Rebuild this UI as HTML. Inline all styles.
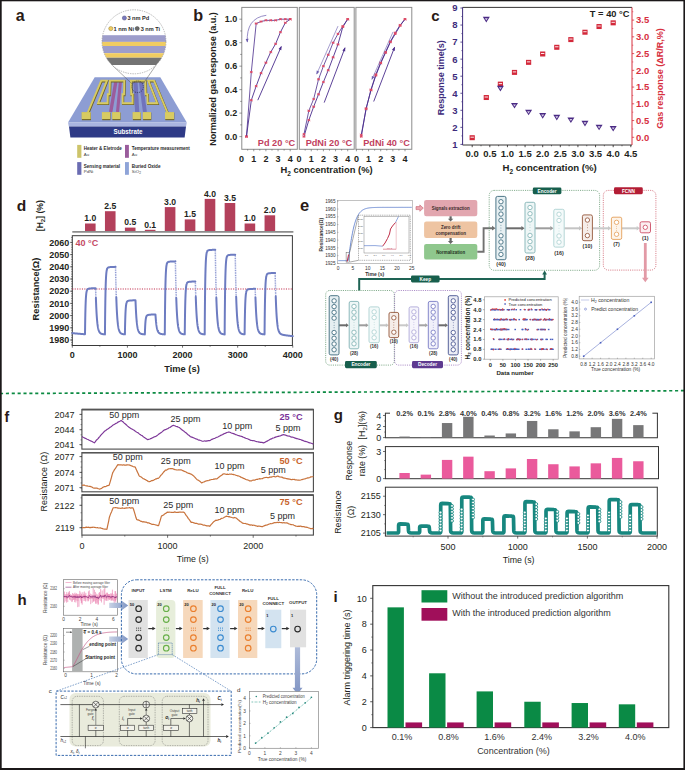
<!DOCTYPE html>
<html><head><meta charset="utf-8"><style>
html,body{margin:0;padding:0;background:#fff;}
body{width:685px;height:770px;overflow:hidden;}
svg{display:block;font-family:"Liberation Sans", sans-serif;}
</style></head><body>
<svg width="685" height="770" viewBox="0 0 685 770">
<rect x="0" y="0" width="685" height="770" fill="#ffffff"/>
<text x="15.8" y="20.68" font-size="16" font-weight="bold" fill="#2a1a16">a</text>
<polygon points="94.7,77.2 160.3,77.2 186.8,122.6 68,122.6" fill="#8d9dd3"/>
<polygon points="68,122.6 186.8,122.6 186,126.6 68.8,126.6" fill="#aab5e0"/>
<polygon points="69,126.6 186,126.6 184.6,137.4 70.4,137.4" fill="#2e3a86"/>
<text x="128" y="134.24" font-size="6.3" font-weight="bold" text-anchor="middle" fill="#ffffff">Substrate</text>
<line x1="110.7" y1="112" x2="116" y2="80.7" stroke="#9b5c9c" stroke-width="3.4"/>
<line x1="117.5" y1="112" x2="120.5" y2="80.7" stroke="#9b5c9c" stroke-width="3.1"/>
<line x1="137.2" y1="112" x2="135.4" y2="80.8" stroke="#7173bb" stroke-width="4.2"/>
<line x1="144.9" y1="112" x2="140.7" y2="80.8" stroke="#7173bb" stroke-width="3.9"/>
<polyline points="88.1,113.8 101.7,81.4 107.4,81.4 98.5,104 108.1,104 108.3,95.1 110,95.1 110.4,81.4 124.8,81.4 124.5,95.1 123.1,95.1 123.1,104 133.1,104 133.1,95.1 131.7,95.1 131.4,81.4 145.8,81.4 146.2,95.1 147.9,95.1 148.1,104 157.7,104 148.8,81.4 154.5,81.4 168.1,113.8" fill="none" stroke="#6f6426" stroke-width="2.2" stroke-linejoin="miter"/>
<polyline points="87.6,113 101.2,80.6 106.9,80.6 98,103.2 107.6,103.2 107.8,94.3 109.5,94.3 109.9,80.6 124.3,80.6 124,94.3 122.6,94.3 122.6,103.2 132.6,103.2 132.6,94.3 131.2,94.3 130.9,80.6 145.3,80.6 145.7,94.3 147.4,94.3 147.6,103.2 157.2,103.2 148.3,80.6 154,80.6 167.6,113" fill="none" stroke="#d8cb62" stroke-width="1.9" stroke-linejoin="miter"/>
<rect x="81.9" y="112.6" width="9.1" height="7.6" fill="#6f6426"/>
<rect x="81.6" y="112.1" width="9.1" height="7" fill="#d8cb62"/>
<rect x="102.2" y="112.6" width="8.3" height="7.6" fill="#6f6426"/>
<rect x="101.9" y="112.1" width="8.3" height="7" fill="#d8cb62"/>
<rect x="112.4" y="112.6" width="8.2" height="7.6" fill="#6f6426"/>
<rect x="112.1" y="112.1" width="8.2" height="7" fill="#d8cb62"/>
<rect x="132.9" y="112.6" width="8.1" height="7.6" fill="#6f6426"/>
<rect x="132.6" y="112.1" width="8.1" height="7" fill="#d8cb62"/>
<rect x="143.1" y="112.6" width="8.2" height="7.6" fill="#6f6426"/>
<rect x="142.8" y="112.1" width="8.2" height="7" fill="#d8cb62"/>
<rect x="165.3" y="112.6" width="9" height="7.6" fill="#6f6426"/>
<rect x="165" y="112.1" width="9" height="7" fill="#d8cb62"/>
<circle cx="137.6" cy="86.8" r="5.8" fill="none" stroke="#2a2a40" stroke-width="0.7" stroke-dasharray="1.2,0.9"/>
<line x1="111.6" y1="64.6" x2="132.4" y2="84.2" stroke="#555" stroke-width="0.5"/>
<line x1="156.4" y1="64.6" x2="142.8" y2="84.2" stroke="#555" stroke-width="0.5"/>
<clipPath id="mag"><circle cx="134" cy="41.8" r="32"/></clipPath>
<circle cx="134" cy="41.8" r="32" fill="#ffffff"/>
<g clip-path="url(#mag)"><rect x="100" y="35.2" width="70" height="6.7" fill="#9d9dcb"/><rect x="100" y="41.9" width="70" height="4.1" fill="#f0cc62"/><rect x="100" y="46" width="70" height="7.2" fill="#9d9dcb"/><rect x="100" y="53.2" width="70" height="4.5" fill="#f0cc62"/><rect x="100" y="57.7" width="70" height="7.3" fill="#737373"/></g>
<circle cx="134" cy="41.8" r="32" fill="none" stroke="#8a8a8a" stroke-width="0.6" stroke-dasharray="1.4,1"/>
<circle cx="124.4" cy="18" r="2.1" fill="#7a7abe" stroke="#333366" stroke-width="0.4"/>
<text x="127.4" y="20.19" font-size="5.6" font-weight="bold" fill="#2a2a2a" textLength="21.9" lengthAdjust="spacingAndGlyphs">3 nm Pd</text>
<circle cx="110.8" cy="28.6" r="2.1" fill="#f0cc62" stroke="#7a6a20" stroke-width="0.4"/>
<text x="113.5" y="30.79" font-size="5.6" font-weight="bold" fill="#2a2a2a" textLength="20.5" lengthAdjust="spacingAndGlyphs">1 nm Ni</text>
<circle cx="137.2" cy="28.6" r="2.1" fill="#6a6a6a" stroke="#333" stroke-width="0.4"/>
<text x="140.7" y="30.79" font-size="5.6" font-weight="bold" fill="#2a2a2a" textLength="19.4" lengthAdjust="spacingAndGlyphs">3 nm Ti</text>
<rect x="77.2" y="144.9" width="4.2" height="12.9" fill="#cdc46a"/>
<text x="83.8" y="150.25" font-size="5.2" font-weight="bold" fill="#2a2a2a" textLength="37.9" lengthAdjust="spacingAndGlyphs">Heater &amp; Eletrode</text>
<text x="83.8" y="156.16" font-size="4.4" fill="#444">Au</text>
<rect x="125" y="144.9" width="3.9" height="12.9" fill="#9a5c9c"/>
<text x="131.8" y="150.25" font-size="5.2" font-weight="bold" fill="#2a2a2a" textLength="58" lengthAdjust="spacingAndGlyphs">Temperature measurement</text>
<text x="131.8" y="156.16" font-size="4.4" fill="#444">Au</text>
<rect x="77.2" y="162.1" width="4.2" height="12.7" fill="#6a6cb2"/>
<text x="83.8" y="167.65" font-size="5.2" font-weight="bold" fill="#2a2a2a" textLength="36.2" lengthAdjust="spacingAndGlyphs">Sensing material</text>
<text x="83.8" y="173.16" font-size="4.4" fill="#444">PdNi</text>
<rect x="125" y="162.1" width="3.9" height="12.7" fill="#8ea4d8"/>
<text x="131.8" y="167.65" font-size="5.2" font-weight="bold" fill="#2a2a2a" textLength="28.7" lengthAdjust="spacingAndGlyphs">Buried Oxide</text>
<text x="131.8" y="173.16" font-size="4.4" fill="#444">SiO<tspan font-size="3.2" dy="1">2</tspan></text>
<text x="193.3" y="20.65" font-size="16.2" font-weight="bold" fill="#2a1a16">b</text>
<rect x="241.8" y="7.4" width="55.5" height="141.9" fill="none" stroke="#8c8c8c" stroke-width="1"/>
<line x1="247.67" y1="149.3" x2="247.67" y2="150.6" stroke="#555" stroke-width="0.6"/>
<line x1="253.75" y1="149.3" x2="253.75" y2="151.3" stroke="#555" stroke-width="0.6"/>
<line x1="259.82" y1="149.3" x2="259.82" y2="150.6" stroke="#555" stroke-width="0.6"/>
<line x1="265.9" y1="149.3" x2="265.9" y2="151.3" stroke="#555" stroke-width="0.6"/>
<line x1="271.98" y1="149.3" x2="271.98" y2="150.6" stroke="#555" stroke-width="0.6"/>
<line x1="278.05" y1="149.3" x2="278.05" y2="151.3" stroke="#555" stroke-width="0.6"/>
<line x1="284.12" y1="149.3" x2="284.12" y2="150.6" stroke="#555" stroke-width="0.6"/>
<line x1="290.2" y1="149.3" x2="290.2" y2="151.3" stroke="#555" stroke-width="0.6"/>
<text x="241.6" y="162.39" font-size="9" font-weight="bold" text-anchor="middle" fill="#231f20">0</text>
<text x="253.75" y="162.39" font-size="9" font-weight="bold" text-anchor="middle" fill="#231f20">1</text>
<text x="265.9" y="162.39" font-size="9" font-weight="bold" text-anchor="middle" fill="#231f20">2</text>
<text x="278.05" y="162.39" font-size="9" font-weight="bold" text-anchor="middle" fill="#231f20">3</text>
<text x="290.2" y="162.39" font-size="9" font-weight="bold" text-anchor="middle" fill="#231f20">4</text>
<rect x="299.3" y="7.4" width="54.9" height="141.9" fill="none" stroke="#8c8c8c" stroke-width="1"/>
<line x1="305.18" y1="149.3" x2="305.18" y2="150.6" stroke="#555" stroke-width="0.6"/>
<line x1="311.25" y1="149.3" x2="311.25" y2="151.3" stroke="#555" stroke-width="0.6"/>
<line x1="317.33" y1="149.3" x2="317.33" y2="150.6" stroke="#555" stroke-width="0.6"/>
<line x1="323.4" y1="149.3" x2="323.4" y2="151.3" stroke="#555" stroke-width="0.6"/>
<line x1="329.48" y1="149.3" x2="329.48" y2="150.6" stroke="#555" stroke-width="0.6"/>
<line x1="335.55" y1="149.3" x2="335.55" y2="151.3" stroke="#555" stroke-width="0.6"/>
<line x1="341.62" y1="149.3" x2="341.62" y2="150.6" stroke="#555" stroke-width="0.6"/>
<line x1="347.7" y1="149.3" x2="347.7" y2="151.3" stroke="#555" stroke-width="0.6"/>
<text x="299.1" y="162.39" font-size="9" font-weight="bold" text-anchor="middle" fill="#231f20">0</text>
<text x="311.25" y="162.39" font-size="9" font-weight="bold" text-anchor="middle" fill="#231f20">1</text>
<text x="323.4" y="162.39" font-size="9" font-weight="bold" text-anchor="middle" fill="#231f20">2</text>
<text x="335.55" y="162.39" font-size="9" font-weight="bold" text-anchor="middle" fill="#231f20">3</text>
<text x="347.7" y="162.39" font-size="9" font-weight="bold" text-anchor="middle" fill="#231f20">4</text>
<rect x="355.9" y="7.4" width="55.9" height="141.9" fill="none" stroke="#8c8c8c" stroke-width="1"/>
<line x1="356.4" y1="149.3" x2="356.4" y2="151.3" stroke="#555" stroke-width="0.6"/>
<line x1="362.47" y1="149.3" x2="362.47" y2="150.6" stroke="#555" stroke-width="0.6"/>
<line x1="368.55" y1="149.3" x2="368.55" y2="151.3" stroke="#555" stroke-width="0.6"/>
<line x1="374.62" y1="149.3" x2="374.62" y2="150.6" stroke="#555" stroke-width="0.6"/>
<line x1="380.7" y1="149.3" x2="380.7" y2="151.3" stroke="#555" stroke-width="0.6"/>
<line x1="386.77" y1="149.3" x2="386.77" y2="150.6" stroke="#555" stroke-width="0.6"/>
<line x1="392.85" y1="149.3" x2="392.85" y2="151.3" stroke="#555" stroke-width="0.6"/>
<line x1="398.92" y1="149.3" x2="398.92" y2="150.6" stroke="#555" stroke-width="0.6"/>
<line x1="405" y1="149.3" x2="405" y2="151.3" stroke="#555" stroke-width="0.6"/>
<text x="356.4" y="162.39" font-size="9" font-weight="bold" text-anchor="middle" fill="#231f20">0</text>
<text x="368.55" y="162.39" font-size="9" font-weight="bold" text-anchor="middle" fill="#231f20">1</text>
<text x="380.7" y="162.39" font-size="9" font-weight="bold" text-anchor="middle" fill="#231f20">2</text>
<text x="392.85" y="162.39" font-size="9" font-weight="bold" text-anchor="middle" fill="#231f20">3</text>
<text x="405" y="162.39" font-size="9" font-weight="bold" text-anchor="middle" fill="#231f20">4</text>
<line x1="239.4" y1="136.6" x2="241.8" y2="136.6" stroke="#555" stroke-width="0.6"/>
<line x1="240.2" y1="124.86" x2="241.8" y2="124.86" stroke="#555" stroke-width="0.6"/>
<line x1="239.4" y1="113.12" x2="241.8" y2="113.12" stroke="#555" stroke-width="0.6"/>
<line x1="240.2" y1="101.38" x2="241.8" y2="101.38" stroke="#555" stroke-width="0.6"/>
<line x1="239.4" y1="89.64" x2="241.8" y2="89.64" stroke="#555" stroke-width="0.6"/>
<line x1="240.2" y1="77.9" x2="241.8" y2="77.9" stroke="#555" stroke-width="0.6"/>
<line x1="239.4" y1="66.16" x2="241.8" y2="66.16" stroke="#555" stroke-width="0.6"/>
<line x1="240.2" y1="54.42" x2="241.8" y2="54.42" stroke="#555" stroke-width="0.6"/>
<line x1="239.4" y1="42.68" x2="241.8" y2="42.68" stroke="#555" stroke-width="0.6"/>
<line x1="240.2" y1="30.94" x2="241.8" y2="30.94" stroke="#555" stroke-width="0.6"/>
<line x1="239.4" y1="19.2" x2="241.8" y2="19.2" stroke="#555" stroke-width="0.6"/>
<text x="237.3" y="139.79" font-size="9" font-weight="bold" text-anchor="end" fill="#231f20">0.0</text>
<text x="237.3" y="116.31" font-size="9" font-weight="bold" text-anchor="end" fill="#231f20">0.2</text>
<text x="237.3" y="92.83" font-size="9" font-weight="bold" text-anchor="end" fill="#231f20">0.4</text>
<text x="237.3" y="69.35" font-size="9" font-weight="bold" text-anchor="end" fill="#231f20">0.6</text>
<text x="237.3" y="45.87" font-size="9" font-weight="bold" text-anchor="end" fill="#231f20">0.8</text>
<text x="237.3" y="22.4" font-size="9" font-weight="bold" text-anchor="end" fill="#231f20">1.0</text>
<text x="212.4" y="82.21" font-size="9.05" font-weight="bold" text-anchor="middle" fill="#231f20" transform="rotate(-90 212.4 79)">Normalized gas response (a.u.)</text>
<text x="326.5" y="173.3" font-size="9.4" font-weight="bold" fill="#231f20" text-anchor="middle">H<tspan font-size="6.5" dy="2.2">2</tspan><tspan dy="-2.2"> concentration (%)</tspan></text>
<polyline points="246.46,136.6 251.32,72.03 256.18,23.54 261.04,21.55 265.9,20.37 270.76,20.37 275.62,20.37 280.48,19.2 285.34,19.2 290.2,19.2" fill="none" stroke="#4a2c8c" stroke-width="0.8"/>
<polyline points="246.46,136.6 251.32,100.21 256.18,86.12 261.04,73.2 265.9,62.64 270.76,52.07 275.62,43.85 280.48,32.11 285.34,22.72 290.2,19.2" fill="none" stroke="#4a2c8c" stroke-width="0.9"/>
<path d="M245.06 136.6L247.86 136.6M245.48 135.48L247.44 137.72M245.48 137.72L247.44 135.48" stroke="#dc4a66" stroke-width="0.9" fill="none"/><circle cx="246.46" cy="136.6" r="0.75" fill="#dc4a66"/>
<path d="M249.92 100.21L252.72 100.21M250.34 99.09L252.3 101.33M250.34 101.33L252.3 99.09" stroke="#dc4a66" stroke-width="0.9" fill="none"/><circle cx="251.32" cy="100.21" r="0.75" fill="#dc4a66"/>
<path d="M254.78 86.12L257.58 86.12M255.2 85L257.16 87.24M255.2 87.24L257.16 85" stroke="#dc4a66" stroke-width="0.9" fill="none"/><circle cx="256.18" cy="86.12" r="0.75" fill="#dc4a66"/>
<path d="M259.64 73.2L262.44 73.2M260.06 72.08L262.02 74.32M260.06 74.32L262.02 72.08" stroke="#dc4a66" stroke-width="0.9" fill="none"/><circle cx="261.04" cy="73.2" r="0.75" fill="#dc4a66"/>
<path d="M264.5 62.64L267.3 62.64M264.92 61.52L266.88 63.76M264.92 63.76L266.88 61.52" stroke="#dc4a66" stroke-width="0.9" fill="none"/><circle cx="265.9" cy="62.64" r="0.75" fill="#dc4a66"/>
<path d="M269.36 52.07L272.16 52.07M269.78 50.95L271.74 53.19M269.78 53.19L271.74 50.95" stroke="#dc4a66" stroke-width="0.9" fill="none"/><circle cx="270.76" cy="52.07" r="0.75" fill="#dc4a66"/>
<path d="M274.22 43.85L277.02 43.85M274.64 42.73L276.6 44.97M274.64 44.97L276.6 42.73" stroke="#dc4a66" stroke-width="0.9" fill="none"/><circle cx="275.62" cy="43.85" r="0.75" fill="#dc4a66"/>
<path d="M279.08 32.11L281.88 32.11M279.5 30.99L281.46 33.23M279.5 33.23L281.46 30.99" stroke="#dc4a66" stroke-width="0.9" fill="none"/><circle cx="280.48" cy="32.11" r="0.75" fill="#dc4a66"/>
<path d="M283.94 22.72L286.74 22.72M284.36 21.6L286.32 23.84M284.36 23.84L286.32 21.6" stroke="#dc4a66" stroke-width="0.9" fill="none"/><circle cx="285.34" cy="22.72" r="0.75" fill="#dc4a66"/>
<path d="M288.8 19.2L291.6 19.2M289.22 18.08L291.18 20.32M289.22 20.32L291.18 18.08" stroke="#dc4a66" stroke-width="0.9" fill="none"/><circle cx="290.2" cy="19.2" r="0.75" fill="#dc4a66"/>
<path d="M245.06 136.6L247.86 136.6M245.48 135.48L247.44 137.72M245.48 137.72L247.44 135.48" stroke="#dc4a66" stroke-width="0.9" fill="none"/><circle cx="246.46" cy="136.6" r="0.75" fill="#dc4a66"/>
<path d="M249.92 72.03L252.72 72.03M250.34 70.91L252.3 73.15M250.34 73.15L252.3 70.91" stroke="#dc4a66" stroke-width="0.9" fill="none"/><circle cx="251.32" cy="72.03" r="0.75" fill="#dc4a66"/>
<path d="M254.78 23.54L257.58 23.54M255.2 22.42L257.16 24.66M255.2 24.66L257.16 22.42" stroke="#dc4a66" stroke-width="0.9" fill="none"/><circle cx="256.18" cy="23.54" r="0.75" fill="#dc4a66"/>
<path d="M259.64 21.55L262.44 21.55M260.06 20.43L262.02 22.67M260.06 22.67L262.02 20.43" stroke="#dc4a66" stroke-width="0.9" fill="none"/><circle cx="261.04" cy="21.55" r="0.75" fill="#dc4a66"/>
<path d="M264.5 20.37L267.3 20.37M264.92 19.25L266.88 21.49M264.92 21.49L266.88 19.25" stroke="#dc4a66" stroke-width="0.9" fill="none"/><circle cx="265.9" cy="20.37" r="0.75" fill="#dc4a66"/>
<path d="M269.36 20.37L272.16 20.37M269.78 19.25L271.74 21.49M269.78 21.49L271.74 19.25" stroke="#dc4a66" stroke-width="0.9" fill="none"/><circle cx="270.76" cy="20.37" r="0.75" fill="#dc4a66"/>
<path d="M274.22 20.37L277.02 20.37M274.64 19.25L276.6 21.49M274.64 21.49L276.6 19.25" stroke="#dc4a66" stroke-width="0.9" fill="none"/><circle cx="275.62" cy="20.37" r="0.75" fill="#dc4a66"/>
<path d="M279.08 19.2L281.88 19.2M279.5 18.08L281.46 20.32M279.5 20.32L281.46 18.08" stroke="#dc4a66" stroke-width="0.9" fill="none"/><circle cx="280.48" cy="19.2" r="0.75" fill="#dc4a66"/>
<path d="M283.94 19.2L286.74 19.2M284.36 18.08L286.32 20.32M284.36 20.32L286.32 18.08" stroke="#dc4a66" stroke-width="0.9" fill="none"/><circle cx="285.34" cy="19.2" r="0.75" fill="#dc4a66"/>
<path d="M288.8 19.2L291.6 19.2M289.22 18.08L291.18 20.32M289.22 20.32L291.18 18.08" stroke="#dc4a66" stroke-width="0.9" fill="none"/><circle cx="290.2" cy="19.2" r="0.75" fill="#dc4a66"/>
<polyline points="303.96,134.25 308.82,110.77 313.68,99.03 318.54,79.31 323.4,66.16 328.26,54.77 333.12,42.68 337.98,33.88 342.84,26.24 347.7,19.2" fill="none" stroke="#4a2c8c" stroke-width="0.8"/>
<polyline points="303.96,136.6 308.82,120.16 313.68,106.66 318.54,94.34 323.4,82.01 328.26,70.27 333.12,57.35 337.98,44.44 342.84,26.83 347.7,19.2" fill="none" stroke="#4a2c8c" stroke-width="0.9"/>
<path d="M302.56 136.6L305.36 136.6M302.98 135.48L304.94 137.72M302.98 137.72L304.94 135.48" stroke="#dc4a66" stroke-width="0.9" fill="none"/><circle cx="303.96" cy="136.6" r="0.75" fill="#dc4a66"/>
<path d="M307.42 120.16L310.22 120.16M307.84 119.04L309.8 121.28M307.84 121.28L309.8 119.04" stroke="#dc4a66" stroke-width="0.9" fill="none"/><circle cx="308.82" cy="120.16" r="0.75" fill="#dc4a66"/>
<path d="M312.28 106.66L315.08 106.66M312.7 105.54L314.66 107.78M312.7 107.78L314.66 105.54" stroke="#dc4a66" stroke-width="0.9" fill="none"/><circle cx="313.68" cy="106.66" r="0.75" fill="#dc4a66"/>
<path d="M317.14 94.34L319.94 94.34M317.56 93.22L319.52 95.46M317.56 95.46L319.52 93.22" stroke="#dc4a66" stroke-width="0.9" fill="none"/><circle cx="318.54" cy="94.34" r="0.75" fill="#dc4a66"/>
<path d="M322 82.01L324.8 82.01M322.42 80.89L324.38 83.13M322.42 83.13L324.38 80.89" stroke="#dc4a66" stroke-width="0.9" fill="none"/><circle cx="323.4" cy="82.01" r="0.75" fill="#dc4a66"/>
<path d="M326.86 70.27L329.66 70.27M327.28 69.15L329.24 71.39M327.28 71.39L329.24 69.15" stroke="#dc4a66" stroke-width="0.9" fill="none"/><circle cx="328.26" cy="70.27" r="0.75" fill="#dc4a66"/>
<path d="M331.72 57.35L334.52 57.35M332.14 56.23L334.1 58.47M332.14 58.47L334.1 56.23" stroke="#dc4a66" stroke-width="0.9" fill="none"/><circle cx="333.12" cy="57.35" r="0.75" fill="#dc4a66"/>
<path d="M336.58 44.44L339.38 44.44M337 43.32L338.96 45.56M337 45.56L338.96 43.32" stroke="#dc4a66" stroke-width="0.9" fill="none"/><circle cx="337.98" cy="44.44" r="0.75" fill="#dc4a66"/>
<path d="M341.44 26.83L344.24 26.83M341.86 25.71L343.82 27.95M341.86 27.95L343.82 25.71" stroke="#dc4a66" stroke-width="0.9" fill="none"/><circle cx="342.84" cy="26.83" r="0.75" fill="#dc4a66"/>
<path d="M346.3 19.2L349.1 19.2M346.72 18.08L348.68 20.32M346.72 20.32L348.68 18.08" stroke="#dc4a66" stroke-width="0.9" fill="none"/><circle cx="347.7" cy="19.2" r="0.75" fill="#dc4a66"/>
<path d="M302.56 134.25L305.36 134.25M302.98 133.13L304.94 135.37M302.98 135.37L304.94 133.13" stroke="#dc4a66" stroke-width="0.9" fill="none"/><circle cx="303.96" cy="134.25" r="0.75" fill="#dc4a66"/>
<path d="M307.42 110.77L310.22 110.77M307.84 109.65L309.8 111.89M307.84 111.89L309.8 109.65" stroke="#dc4a66" stroke-width="0.9" fill="none"/><circle cx="308.82" cy="110.77" r="0.75" fill="#dc4a66"/>
<path d="M312.28 99.03L315.08 99.03M312.7 97.91L314.66 100.15M312.7 100.15L314.66 97.91" stroke="#dc4a66" stroke-width="0.9" fill="none"/><circle cx="313.68" cy="99.03" r="0.75" fill="#dc4a66"/>
<path d="M317.14 79.31L319.94 79.31M317.56 78.19L319.52 80.43M317.56 80.43L319.52 78.19" stroke="#dc4a66" stroke-width="0.9" fill="none"/><circle cx="318.54" cy="79.31" r="0.75" fill="#dc4a66"/>
<path d="M322 66.16L324.8 66.16M322.42 65.04L324.38 67.28M322.42 67.28L324.38 65.04" stroke="#dc4a66" stroke-width="0.9" fill="none"/><circle cx="323.4" cy="66.16" r="0.75" fill="#dc4a66"/>
<path d="M326.86 54.77L329.66 54.77M327.28 53.65L329.24 55.89M327.28 55.89L329.24 53.65" stroke="#dc4a66" stroke-width="0.9" fill="none"/><circle cx="328.26" cy="54.77" r="0.75" fill="#dc4a66"/>
<path d="M331.72 42.68L334.52 42.68M332.14 41.56L334.1 43.8M332.14 43.8L334.1 41.56" stroke="#dc4a66" stroke-width="0.9" fill="none"/><circle cx="333.12" cy="42.68" r="0.75" fill="#dc4a66"/>
<path d="M336.58 33.88L339.38 33.88M337 32.76L338.96 34.99M337 34.99L338.96 32.76" stroke="#dc4a66" stroke-width="0.9" fill="none"/><circle cx="337.98" cy="33.88" r="0.75" fill="#dc4a66"/>
<path d="M341.44 26.24L344.24 26.24M341.86 25.12L343.82 27.36M341.86 27.36L343.82 25.12" stroke="#dc4a66" stroke-width="0.9" fill="none"/><circle cx="342.84" cy="26.24" r="0.75" fill="#dc4a66"/>
<path d="M346.3 19.2L349.1 19.2M346.72 18.08L348.68 20.32M346.72 20.32L348.68 18.08" stroke="#dc4a66" stroke-width="0.9" fill="none"/><circle cx="347.7" cy="19.2" r="0.75" fill="#dc4a66"/>
<polyline points="361.26,134.84 366.12,109.01 370.98,89.64 375.84,74.38 380.7,62.64 385.56,52.07 390.42,41.51 395.28,32.7 400.14,25.07 405,19.2" fill="none" stroke="#4a2c8c" stroke-width="0.8"/>
<polyline points="361.26,136.6 366.12,108.42 370.98,90.23 375.84,75.55 380.7,63.22 385.56,52.66 390.42,42.09 395.28,33.88 400.14,25.66 405,19.2" fill="none" stroke="#4a2c8c" stroke-width="0.9"/>
<path d="M359.86 136.6L362.66 136.6M360.28 135.48L362.24 137.72M360.28 137.72L362.24 135.48" stroke="#dc4a66" stroke-width="0.9" fill="none"/><circle cx="361.26" cy="136.6" r="0.75" fill="#dc4a66"/>
<path d="M364.72 108.42L367.52 108.42M365.14 107.3L367.1 109.54M365.14 109.54L367.1 107.3" stroke="#dc4a66" stroke-width="0.9" fill="none"/><circle cx="366.12" cy="108.42" r="0.75" fill="#dc4a66"/>
<path d="M369.58 90.23L372.38 90.23M370 89.11L371.96 91.35M370 91.35L371.96 89.11" stroke="#dc4a66" stroke-width="0.9" fill="none"/><circle cx="370.98" cy="90.23" r="0.75" fill="#dc4a66"/>
<path d="M374.44 75.55L377.24 75.55M374.86 74.43L376.82 76.67M374.86 76.67L376.82 74.43" stroke="#dc4a66" stroke-width="0.9" fill="none"/><circle cx="375.84" cy="75.55" r="0.75" fill="#dc4a66"/>
<path d="M379.3 63.22L382.1 63.22M379.72 62.1L381.68 64.34M379.72 64.34L381.68 62.1" stroke="#dc4a66" stroke-width="0.9" fill="none"/><circle cx="380.7" cy="63.22" r="0.75" fill="#dc4a66"/>
<path d="M384.16 52.66L386.96 52.66M384.58 51.54L386.54 53.78M384.58 53.78L386.54 51.54" stroke="#dc4a66" stroke-width="0.9" fill="none"/><circle cx="385.56" cy="52.66" r="0.75" fill="#dc4a66"/>
<path d="M389.02 42.09L391.82 42.09M389.44 40.97L391.4 43.21M389.44 43.21L391.4 40.97" stroke="#dc4a66" stroke-width="0.9" fill="none"/><circle cx="390.42" cy="42.09" r="0.75" fill="#dc4a66"/>
<path d="M393.88 33.88L396.68 33.88M394.3 32.76L396.26 34.99M394.3 34.99L396.26 32.76" stroke="#dc4a66" stroke-width="0.9" fill="none"/><circle cx="395.28" cy="33.88" r="0.75" fill="#dc4a66"/>
<path d="M398.74 25.66L401.54 25.66M399.16 24.54L401.12 26.78M399.16 26.78L401.12 24.54" stroke="#dc4a66" stroke-width="0.9" fill="none"/><circle cx="400.14" cy="25.66" r="0.75" fill="#dc4a66"/>
<path d="M403.6 19.2L406.4 19.2M404.02 18.08L405.98 20.32M404.02 20.32L405.98 18.08" stroke="#dc4a66" stroke-width="0.9" fill="none"/><circle cx="405" cy="19.2" r="0.75" fill="#dc4a66"/>
<path d="M359.86 134.84L362.66 134.84M360.28 133.72L362.24 135.96M360.28 135.96L362.24 133.72" stroke="#dc4a66" stroke-width="0.9" fill="none"/><circle cx="361.26" cy="134.84" r="0.75" fill="#dc4a66"/>
<path d="M364.72 109.01L367.52 109.01M365.14 107.89L367.1 110.13M365.14 110.13L367.1 107.89" stroke="#dc4a66" stroke-width="0.9" fill="none"/><circle cx="366.12" cy="109.01" r="0.75" fill="#dc4a66"/>
<path d="M369.58 89.64L372.38 89.64M370 88.52L371.96 90.76M370 90.76L371.96 88.52" stroke="#dc4a66" stroke-width="0.9" fill="none"/><circle cx="370.98" cy="89.64" r="0.75" fill="#dc4a66"/>
<path d="M374.44 74.38L377.24 74.38M374.86 73.26L376.82 75.5M374.86 75.5L376.82 73.26" stroke="#dc4a66" stroke-width="0.9" fill="none"/><circle cx="375.84" cy="74.38" r="0.75" fill="#dc4a66"/>
<path d="M379.3 62.64L382.1 62.64M379.72 61.52L381.68 63.76M379.72 63.76L381.68 61.52" stroke="#dc4a66" stroke-width="0.9" fill="none"/><circle cx="380.7" cy="62.64" r="0.75" fill="#dc4a66"/>
<path d="M384.16 52.07L386.96 52.07M384.58 50.95L386.54 53.19M384.58 53.19L386.54 50.95" stroke="#dc4a66" stroke-width="0.9" fill="none"/><circle cx="385.56" cy="52.07" r="0.75" fill="#dc4a66"/>
<path d="M389.02 41.51L391.82 41.51M389.44 40.39L391.4 42.63M389.44 42.63L391.4 40.39" stroke="#dc4a66" stroke-width="0.9" fill="none"/><circle cx="390.42" cy="41.51" r="0.75" fill="#dc4a66"/>
<path d="M393.88 32.7L396.68 32.7M394.3 31.58L396.26 33.82M394.3 33.82L396.26 31.58" stroke="#dc4a66" stroke-width="0.9" fill="none"/><circle cx="395.28" cy="32.7" r="0.75" fill="#dc4a66"/>
<path d="M398.74 25.07L401.54 25.07M399.16 23.95L401.12 26.19M399.16 26.19L401.12 23.95" stroke="#dc4a66" stroke-width="0.9" fill="none"/><circle cx="400.14" cy="25.07" r="0.75" fill="#dc4a66"/>
<path d="M403.6 19.2L406.4 19.2M404.02 18.08L405.98 20.32M404.02 20.32L405.98 18.08" stroke="#dc4a66" stroke-width="0.9" fill="none"/><circle cx="405" cy="19.2" r="0.75" fill="#dc4a66"/>
<path d="M266.3 15.3Q246 18 247.3 42" fill="none" stroke="#6a5cae" stroke-width="0.7"/><polygon points="247.33,42.5 245.69,38.88 248.56,38.73" fill="#6a5cae"/>
<line x1="257.8" y1="100.2" x2="281.3" y2="46.5" stroke="#4a2c8c" stroke-width="0.9"/><polygon points="281.5,46.04 281.34,50.23 278.54,49" fill="#4a2c8c"/>
<line x1="338" y1="26.1" x2="316.7" y2="74" stroke="#6a5cae" stroke-width="0.6"/><polygon points="316.5,74.46 316.68,70.49 319.32,71.66" fill="#6a5cae"/>
<line x1="324.2" y1="102.6" x2="345" y2="47.8" stroke="#4a2c8c" stroke-width="0.9"/><polygon points="345.18,47.33 345.22,51.52 342.36,50.44" fill="#4a2c8c"/>
<line x1="393" y1="32" x2="371.9" y2="79.4" stroke="#6a5cae" stroke-width="0.6"/><polygon points="371.7,79.86 371.89,75.89 374.52,77.06" fill="#6a5cae"/>
<line x1="373.7" y1="101.5" x2="394.6" y2="47.2" stroke="#4a2c8c" stroke-width="0.9"/><polygon points="394.78,46.73 394.81,50.92 391.95,49.82" fill="#4a2c8c"/>
<text x="295.2" y="145.97" font-size="9.2" font-weight="bold" text-anchor="end" fill="#c23f5e">Pd 20 °C</text>
<text x="352.2" y="145.97" font-size="9.2" font-weight="bold" text-anchor="end" fill="#c23f5e">PdNi 20 °C</text>
<text x="409.8" y="145.97" font-size="9.2" font-weight="bold" text-anchor="end" fill="#c23f5e">PdNi 40 °C</text>
<text x="431.3" y="20.73" font-size="15" font-weight="bold" fill="#2a1a16">c</text>
<line x1="462.6" y1="7.4" x2="632" y2="7.4" stroke="#231f20" stroke-width="0.9"/>
<line x1="462.6" y1="145" x2="632" y2="145" stroke="#231f20" stroke-width="0.9"/>
<line x1="462.6" y1="7.4" x2="462.6" y2="145" stroke="#3e2c7c" stroke-width="1"/>
<line x1="632" y1="7.4" x2="632" y2="145" stroke="#d7303f" stroke-width="1"/>
<line x1="460.4" y1="144.4" x2="462.6" y2="144.4" stroke="#3e2c7c" stroke-width="0.8"/>
<text x="457.6" y="147.77" font-size="9.5" font-weight="bold" text-anchor="end" fill="#3e2c7c">1</text>
<line x1="461.3" y1="135.88" x2="462.6" y2="135.88" stroke="#3e2c7c" stroke-width="0.6"/>
<line x1="460.4" y1="127.35" x2="462.6" y2="127.35" stroke="#3e2c7c" stroke-width="0.8"/>
<text x="457.6" y="130.72" font-size="9.5" font-weight="bold" text-anchor="end" fill="#3e2c7c">2</text>
<line x1="461.3" y1="118.83" x2="462.6" y2="118.83" stroke="#3e2c7c" stroke-width="0.6"/>
<line x1="460.4" y1="110.3" x2="462.6" y2="110.3" stroke="#3e2c7c" stroke-width="0.8"/>
<text x="457.6" y="113.67" font-size="9.5" font-weight="bold" text-anchor="end" fill="#3e2c7c">3</text>
<line x1="461.3" y1="101.78" x2="462.6" y2="101.78" stroke="#3e2c7c" stroke-width="0.6"/>
<line x1="460.4" y1="93.25" x2="462.6" y2="93.25" stroke="#3e2c7c" stroke-width="0.8"/>
<text x="457.6" y="96.62" font-size="9.5" font-weight="bold" text-anchor="end" fill="#3e2c7c">4</text>
<line x1="461.3" y1="84.72" x2="462.6" y2="84.72" stroke="#3e2c7c" stroke-width="0.6"/>
<line x1="460.4" y1="76.2" x2="462.6" y2="76.2" stroke="#3e2c7c" stroke-width="0.8"/>
<text x="457.6" y="79.57" font-size="9.5" font-weight="bold" text-anchor="end" fill="#3e2c7c">5</text>
<line x1="461.3" y1="67.67" x2="462.6" y2="67.67" stroke="#3e2c7c" stroke-width="0.6"/>
<line x1="460.4" y1="59.15" x2="462.6" y2="59.15" stroke="#3e2c7c" stroke-width="0.8"/>
<text x="457.6" y="62.52" font-size="9.5" font-weight="bold" text-anchor="end" fill="#3e2c7c">6</text>
<line x1="461.3" y1="50.62" x2="462.6" y2="50.62" stroke="#3e2c7c" stroke-width="0.6"/>
<line x1="460.4" y1="42.1" x2="462.6" y2="42.1" stroke="#3e2c7c" stroke-width="0.8"/>
<text x="457.6" y="45.47" font-size="9.5" font-weight="bold" text-anchor="end" fill="#3e2c7c">7</text>
<line x1="461.3" y1="33.58" x2="462.6" y2="33.58" stroke="#3e2c7c" stroke-width="0.6"/>
<line x1="460.4" y1="25.05" x2="462.6" y2="25.05" stroke="#3e2c7c" stroke-width="0.8"/>
<text x="457.6" y="28.42" font-size="9.5" font-weight="bold" text-anchor="end" fill="#3e2c7c">8</text>
<line x1="461.3" y1="16.53" x2="462.6" y2="16.53" stroke="#3e2c7c" stroke-width="0.6"/>
<line x1="460.4" y1="8" x2="462.6" y2="8" stroke="#3e2c7c" stroke-width="0.8"/>
<text x="457.6" y="11.37" font-size="9.5" font-weight="bold" text-anchor="end" fill="#3e2c7c">9</text>
<line x1="632" y1="137.3" x2="634.2" y2="137.3" stroke="#d7303f" stroke-width="0.8"/>
<line x1="632" y1="128.93" x2="633.3" y2="128.93" stroke="#d7303f" stroke-width="0.6"/>
<text x="636" y="140.67" font-size="9.5" font-weight="bold" fill="#d7303f">0.0</text>
<line x1="632" y1="120.56" x2="634.2" y2="120.56" stroke="#d7303f" stroke-width="0.8"/>
<line x1="632" y1="112.19" x2="633.3" y2="112.19" stroke="#d7303f" stroke-width="0.6"/>
<text x="636" y="123.93" font-size="9.5" font-weight="bold" fill="#d7303f">0.5</text>
<line x1="632" y1="103.81" x2="634.2" y2="103.81" stroke="#d7303f" stroke-width="0.8"/>
<line x1="632" y1="95.44" x2="633.3" y2="95.44" stroke="#d7303f" stroke-width="0.6"/>
<text x="636" y="107.19" font-size="9.5" font-weight="bold" fill="#d7303f">1.0</text>
<line x1="632" y1="87.07" x2="634.2" y2="87.07" stroke="#d7303f" stroke-width="0.8"/>
<line x1="632" y1="78.7" x2="633.3" y2="78.7" stroke="#d7303f" stroke-width="0.6"/>
<text x="636" y="90.44" font-size="9.5" font-weight="bold" fill="#d7303f">1.5</text>
<line x1="632" y1="70.33" x2="634.2" y2="70.33" stroke="#d7303f" stroke-width="0.8"/>
<line x1="632" y1="61.96" x2="633.3" y2="61.96" stroke="#d7303f" stroke-width="0.6"/>
<text x="636" y="73.7" font-size="9.5" font-weight="bold" fill="#d7303f">2.0</text>
<line x1="632" y1="53.59" x2="634.2" y2="53.59" stroke="#d7303f" stroke-width="0.8"/>
<line x1="632" y1="45.21" x2="633.3" y2="45.21" stroke="#d7303f" stroke-width="0.6"/>
<text x="636" y="56.96" font-size="9.5" font-weight="bold" fill="#d7303f">2.5</text>
<line x1="632" y1="36.84" x2="634.2" y2="36.84" stroke="#d7303f" stroke-width="0.8"/>
<line x1="632" y1="28.47" x2="633.3" y2="28.47" stroke="#d7303f" stroke-width="0.6"/>
<text x="636" y="40.22" font-size="9.5" font-weight="bold" fill="#d7303f">3.0</text>
<line x1="632" y1="20.1" x2="634.2" y2="20.1" stroke="#d7303f" stroke-width="0.8"/>
<line x1="632" y1="11.73" x2="633.3" y2="11.73" stroke="#d7303f" stroke-width="0.6"/>
<text x="636" y="23.47" font-size="9.5" font-weight="bold" fill="#d7303f">3.5</text>
<line x1="472.2" y1="145" x2="472.2" y2="147.2" stroke="#231f20" stroke-width="0.8"/>
<text x="472.2" y="157.17" font-size="9.5" font-weight="bold" text-anchor="middle" fill="#231f20">0.0</text>
<line x1="481.01" y1="145" x2="481.01" y2="146.3" stroke="#231f20" stroke-width="0.6"/>
<line x1="489.82" y1="145" x2="489.82" y2="147.2" stroke="#231f20" stroke-width="0.8"/>
<text x="489.82" y="157.17" font-size="9.5" font-weight="bold" text-anchor="middle" fill="#231f20">0.5</text>
<line x1="498.63" y1="145" x2="498.63" y2="146.3" stroke="#231f20" stroke-width="0.6"/>
<line x1="507.44" y1="145" x2="507.44" y2="147.2" stroke="#231f20" stroke-width="0.8"/>
<text x="507.44" y="157.17" font-size="9.5" font-weight="bold" text-anchor="middle" fill="#231f20">1.0</text>
<line x1="516.26" y1="145" x2="516.26" y2="146.3" stroke="#231f20" stroke-width="0.6"/>
<line x1="525.07" y1="145" x2="525.07" y2="147.2" stroke="#231f20" stroke-width="0.8"/>
<text x="525.07" y="157.17" font-size="9.5" font-weight="bold" text-anchor="middle" fill="#231f20">1.5</text>
<line x1="533.88" y1="145" x2="533.88" y2="146.3" stroke="#231f20" stroke-width="0.6"/>
<line x1="542.69" y1="145" x2="542.69" y2="147.2" stroke="#231f20" stroke-width="0.8"/>
<text x="542.69" y="157.17" font-size="9.5" font-weight="bold" text-anchor="middle" fill="#231f20">2.0</text>
<line x1="551.5" y1="145" x2="551.5" y2="146.3" stroke="#231f20" stroke-width="0.6"/>
<line x1="560.31" y1="145" x2="560.31" y2="147.2" stroke="#231f20" stroke-width="0.8"/>
<text x="560.31" y="157.17" font-size="9.5" font-weight="bold" text-anchor="middle" fill="#231f20">2.5</text>
<line x1="569.12" y1="145" x2="569.12" y2="146.3" stroke="#231f20" stroke-width="0.6"/>
<line x1="577.93" y1="145" x2="577.93" y2="147.2" stroke="#231f20" stroke-width="0.8"/>
<text x="577.93" y="157.17" font-size="9.5" font-weight="bold" text-anchor="middle" fill="#231f20">3.0</text>
<line x1="586.74" y1="145" x2="586.74" y2="146.3" stroke="#231f20" stroke-width="0.6"/>
<line x1="595.56" y1="145" x2="595.56" y2="147.2" stroke="#231f20" stroke-width="0.8"/>
<text x="595.56" y="157.17" font-size="9.5" font-weight="bold" text-anchor="middle" fill="#231f20">3.5</text>
<line x1="604.37" y1="145" x2="604.37" y2="146.3" stroke="#231f20" stroke-width="0.6"/>
<line x1="613.18" y1="145" x2="613.18" y2="147.2" stroke="#231f20" stroke-width="0.8"/>
<text x="613.18" y="157.17" font-size="9.5" font-weight="bold" text-anchor="middle" fill="#231f20">4.0</text>
<line x1="621.99" y1="145" x2="621.99" y2="146.3" stroke="#231f20" stroke-width="0.6"/>
<line x1="630.8" y1="145" x2="630.8" y2="147.2" stroke="#231f20" stroke-width="0.8"/>
<text x="630.8" y="157.17" font-size="9.5" font-weight="bold" text-anchor="middle" fill="#231f20">4.5</text>
<text x="549.6" y="171.3" font-size="9.6" font-weight="bold" fill="#231f20" text-anchor="middle">H<tspan font-size="6.5" dy="2.2">2</tspan><tspan dy="-2.2"> concentration (%)</tspan></text>
<text x="441.2" y="80.89" font-size="9" font-weight="bold" text-anchor="middle" fill="#3e2c7c" transform="rotate(-90 441.2 77.7)">Response time(s)</text>
<text x="659.6" y="81.69" font-size="9" font-weight="bold" text-anchor="middle" fill="#d7303f" transform="rotate(-90 659.6 78.5)">Gas response (ΔR/R,%)</text>
<text x="629.5" y="16.9" font-size="9.3" font-weight="bold" text-anchor="end" fill="#231f20">T = 40 °C</text>
<rect x="469.6" y="135.2" width="5.2" height="5" fill="#d3283a"/><line x1="470.5" y1="137.2" x2="473.9" y2="137.2" stroke="#ffffff" stroke-width="0.9"/>
<rect x="483.7" y="95.02" width="5.2" height="5" fill="#d3283a"/><line x1="484.6" y1="97.02" x2="488" y2="97.02" stroke="#ffffff" stroke-width="0.9"/>
<rect x="497.8" y="81.62" width="5.2" height="5" fill="#d3283a"/><line x1="498.7" y1="83.62" x2="502.1" y2="83.62" stroke="#ffffff" stroke-width="0.9"/>
<rect x="511.89" y="69.9" width="5.2" height="5" fill="#d3283a"/><line x1="512.79" y1="71.9" x2="516.19" y2="71.9" stroke="#ffffff" stroke-width="0.9"/>
<rect x="525.99" y="59.86" width="5.2" height="5" fill="#d3283a"/><line x1="526.89" y1="61.86" x2="530.29" y2="61.86" stroke="#ffffff" stroke-width="0.9"/>
<rect x="540.09" y="51.49" width="5.2" height="5" fill="#d3283a"/><line x1="540.99" y1="53.49" x2="544.39" y2="53.49" stroke="#ffffff" stroke-width="0.9"/>
<rect x="554.19" y="44.79" width="5.2" height="5" fill="#d3283a"/><line x1="555.09" y1="46.79" x2="558.49" y2="46.79" stroke="#ffffff" stroke-width="0.9"/>
<rect x="568.28" y="37.09" width="5.2" height="5" fill="#d3283a"/><line x1="569.18" y1="39.09" x2="572.58" y2="39.09" stroke="#ffffff" stroke-width="0.9"/>
<rect x="582.38" y="29.72" width="5.2" height="5" fill="#d3283a"/><line x1="583.28" y1="31.72" x2="586.68" y2="31.72" stroke="#ffffff" stroke-width="0.9"/>
<rect x="596.48" y="24.03" width="5.2" height="5" fill="#d3283a"/><line x1="597.38" y1="26.03" x2="600.78" y2="26.03" stroke="#ffffff" stroke-width="0.9"/>
<rect x="610.58" y="20.34" width="5.2" height="5" fill="#d3283a"/><line x1="611.48" y1="22.34" x2="614.88" y2="22.34" stroke="#ffffff" stroke-width="0.9"/>
<polygon points="482.8,16.78 489.8,16.78 486.3,22.38" fill="#4a2a84"/><polygon points="484.8,18.28 487.8,18.28 486.3,20.48" fill="#d8cfe8"/>
<polygon points="496.9,85.84 503.9,85.84 500.4,91.44" fill="#4a2a84"/><polygon points="498.9,87.34 501.9,87.34 500.4,89.54" fill="#d8cfe8"/>
<polygon points="510.99,102.89 517.99,102.89 514.49,108.49" fill="#4a2a84"/><polygon points="512.99,104.39 515.99,104.39 514.49,106.59" fill="#d8cfe8"/>
<polygon points="525.09,109.7 532.09,109.7 528.59,115.31" fill="#4a2a84"/><polygon points="527.09,111.2 530.09,111.2 528.59,113.41" fill="#d8cfe8"/>
<polygon points="539.19,113.12 546.19,113.12 542.69,118.72" fill="#4a2a84"/><polygon points="541.19,114.62 544.19,114.62 542.69,116.82" fill="#d8cfe8"/>
<polygon points="553.29,114.82 560.29,114.82 556.79,120.42" fill="#4a2a84"/><polygon points="555.29,116.32 558.29,116.32 556.79,118.52" fill="#d8cfe8"/>
<polygon points="567.38,117.38 574.38,117.38 570.88,122.98" fill="#4a2a84"/><polygon points="569.38,118.88 572.38,118.88 570.88,121.08" fill="#d8cfe8"/>
<polygon points="581.48,120.79 588.48,120.79 584.98,126.39" fill="#4a2a84"/><polygon points="583.48,122.29 586.48,122.29 584.98,124.49" fill="#d8cfe8"/>
<polygon points="595.58,124.71 602.58,124.71 599.08,130.31" fill="#4a2a84"/><polygon points="597.58,126.21 600.58,126.21 599.08,128.41" fill="#d8cfe8"/>
<polygon points="609.68,125.9 616.68,125.9 613.18,131.5" fill="#4a2a84"/><polygon points="611.68,127.4 614.68,127.4 613.18,129.6" fill="#d8cfe8"/>
<text x="16.8" y="211.1" font-size="15.5" font-weight="bold" fill="#2a1a16">d</text>
<rect x="85" y="223.5" width="10.6" height="8.2" fill="#b3405b"/>
<text x="90.3" y="221.35" font-size="8.6" font-weight="bold" text-anchor="middle" fill="#231f20">1.0</text>
<rect x="104.95" y="211.2" width="10.6" height="20.5" fill="#b3405b"/>
<text x="110.25" y="209.05" font-size="8.6" font-weight="bold" text-anchor="middle" fill="#231f20">2.5</text>
<rect x="124.9" y="227.6" width="10.6" height="4.1" fill="#b3405b"/>
<text x="130.2" y="225.45" font-size="8.6" font-weight="bold" text-anchor="middle" fill="#231f20">0.5</text>
<rect x="144.85" y="229.8" width="10.6" height="1.9" fill="#b3405b"/>
<text x="150.15" y="227.65" font-size="8.6" font-weight="bold" text-anchor="middle" fill="#231f20">0.1</text>
<rect x="164.8" y="207.1" width="10.6" height="24.6" fill="#b3405b"/>
<text x="170.1" y="204.95" font-size="8.6" font-weight="bold" text-anchor="middle" fill="#231f20">3.0</text>
<rect x="184.75" y="219.4" width="10.6" height="12.3" fill="#b3405b"/>
<text x="190.05" y="217.25" font-size="8.6" font-weight="bold" text-anchor="middle" fill="#231f20">1.5</text>
<rect x="204.7" y="198.9" width="10.6" height="32.8" fill="#b3405b"/>
<text x="210" y="196.75" font-size="8.6" font-weight="bold" text-anchor="middle" fill="#231f20">4.0</text>
<rect x="224.65" y="203" width="10.6" height="28.7" fill="#b3405b"/>
<text x="229.95" y="200.85" font-size="8.6" font-weight="bold" text-anchor="middle" fill="#231f20">3.5</text>
<rect x="244.6" y="223.5" width="10.6" height="8.2" fill="#b3405b"/>
<text x="249.9" y="221.35" font-size="8.6" font-weight="bold" text-anchor="middle" fill="#231f20">1.0</text>
<rect x="264.55" y="215.3" width="10.6" height="16.4" fill="#b3405b"/>
<text x="269.85" y="213.15" font-size="8.6" font-weight="bold" text-anchor="middle" fill="#231f20">2.0</text>
<line x1="72.3" y1="231.9" x2="293.4" y2="231.9" stroke="#8c8c8c" stroke-width="1.6"/>
<text x="0" y="0" font-size="8.6" font-weight="bold" fill="#231f20" text-anchor="middle" transform="translate(43.3 215.7) rotate(-90)">[H<tspan font-size="6" dy="2">2</tspan><tspan dy="-2">] (%)</tspan></text>
<rect x="72.3" y="235.7" width="220.1" height="109.8" fill="none" stroke="#3a3a3a" stroke-width="1"/>
<line x1="70.1" y1="340" x2="72.3" y2="340" stroke="#333" stroke-width="0.7"/>
<text x="69.2" y="343.19" font-size="9" font-weight="bold" text-anchor="end" fill="#231f20">1980</text>
<line x1="70.1" y1="327.8" x2="72.3" y2="327.8" stroke="#333" stroke-width="0.7"/>
<text x="69.2" y="331" font-size="9" font-weight="bold" text-anchor="end" fill="#231f20">1990</text>
<line x1="70.1" y1="315.6" x2="72.3" y2="315.6" stroke="#333" stroke-width="0.7"/>
<text x="69.2" y="318.8" font-size="9" font-weight="bold" text-anchor="end" fill="#231f20">2000</text>
<line x1="70.1" y1="303.4" x2="72.3" y2="303.4" stroke="#333" stroke-width="0.7"/>
<text x="69.2" y="306.59" font-size="9" font-weight="bold" text-anchor="end" fill="#231f20">2010</text>
<line x1="70.1" y1="291.2" x2="72.3" y2="291.2" stroke="#333" stroke-width="0.7"/>
<text x="69.2" y="294.39" font-size="9" font-weight="bold" text-anchor="end" fill="#231f20">2020</text>
<line x1="70.1" y1="279" x2="72.3" y2="279" stroke="#333" stroke-width="0.7"/>
<text x="69.2" y="282.19" font-size="9" font-weight="bold" text-anchor="end" fill="#231f20">2030</text>
<line x1="70.1" y1="266.8" x2="72.3" y2="266.8" stroke="#333" stroke-width="0.7"/>
<text x="69.2" y="270" font-size="9" font-weight="bold" text-anchor="end" fill="#231f20">2040</text>
<line x1="70.1" y1="254.6" x2="72.3" y2="254.6" stroke="#333" stroke-width="0.7"/>
<text x="69.2" y="257.8" font-size="9" font-weight="bold" text-anchor="end" fill="#231f20">2050</text>
<line x1="70.1" y1="242.4" x2="72.3" y2="242.4" stroke="#333" stroke-width="0.7"/>
<text x="69.2" y="245.59" font-size="9" font-weight="bold" text-anchor="end" fill="#231f20">2060</text>
<line x1="71.1" y1="344.88" x2="72.3" y2="344.88" stroke="#333" stroke-width="0.5"/>
<line x1="71.1" y1="342.44" x2="72.3" y2="342.44" stroke="#333" stroke-width="0.5"/>
<line x1="71.1" y1="340" x2="72.3" y2="340" stroke="#333" stroke-width="0.5"/>
<line x1="71.1" y1="337.56" x2="72.3" y2="337.56" stroke="#333" stroke-width="0.5"/>
<line x1="71.1" y1="335.12" x2="72.3" y2="335.12" stroke="#333" stroke-width="0.5"/>
<line x1="71.1" y1="332.68" x2="72.3" y2="332.68" stroke="#333" stroke-width="0.5"/>
<line x1="71.1" y1="330.24" x2="72.3" y2="330.24" stroke="#333" stroke-width="0.5"/>
<line x1="71.1" y1="327.8" x2="72.3" y2="327.8" stroke="#333" stroke-width="0.5"/>
<line x1="71.1" y1="325.36" x2="72.3" y2="325.36" stroke="#333" stroke-width="0.5"/>
<line x1="71.1" y1="322.92" x2="72.3" y2="322.92" stroke="#333" stroke-width="0.5"/>
<line x1="71.1" y1="320.48" x2="72.3" y2="320.48" stroke="#333" stroke-width="0.5"/>
<line x1="71.1" y1="318.04" x2="72.3" y2="318.04" stroke="#333" stroke-width="0.5"/>
<line x1="71.1" y1="315.6" x2="72.3" y2="315.6" stroke="#333" stroke-width="0.5"/>
<line x1="71.1" y1="313.16" x2="72.3" y2="313.16" stroke="#333" stroke-width="0.5"/>
<line x1="71.1" y1="310.72" x2="72.3" y2="310.72" stroke="#333" stroke-width="0.5"/>
<line x1="71.1" y1="308.28" x2="72.3" y2="308.28" stroke="#333" stroke-width="0.5"/>
<line x1="71.1" y1="305.84" x2="72.3" y2="305.84" stroke="#333" stroke-width="0.5"/>
<line x1="71.1" y1="303.4" x2="72.3" y2="303.4" stroke="#333" stroke-width="0.5"/>
<line x1="71.1" y1="300.96" x2="72.3" y2="300.96" stroke="#333" stroke-width="0.5"/>
<line x1="71.1" y1="298.52" x2="72.3" y2="298.52" stroke="#333" stroke-width="0.5"/>
<line x1="71.1" y1="296.08" x2="72.3" y2="296.08" stroke="#333" stroke-width="0.5"/>
<line x1="71.1" y1="293.64" x2="72.3" y2="293.64" stroke="#333" stroke-width="0.5"/>
<line x1="71.1" y1="291.2" x2="72.3" y2="291.2" stroke="#333" stroke-width="0.5"/>
<line x1="71.1" y1="288.76" x2="72.3" y2="288.76" stroke="#333" stroke-width="0.5"/>
<line x1="71.1" y1="286.32" x2="72.3" y2="286.32" stroke="#333" stroke-width="0.5"/>
<line x1="71.1" y1="283.88" x2="72.3" y2="283.88" stroke="#333" stroke-width="0.5"/>
<line x1="71.1" y1="281.44" x2="72.3" y2="281.44" stroke="#333" stroke-width="0.5"/>
<line x1="71.1" y1="279" x2="72.3" y2="279" stroke="#333" stroke-width="0.5"/>
<line x1="71.1" y1="276.56" x2="72.3" y2="276.56" stroke="#333" stroke-width="0.5"/>
<line x1="71.1" y1="274.12" x2="72.3" y2="274.12" stroke="#333" stroke-width="0.5"/>
<line x1="71.1" y1="271.68" x2="72.3" y2="271.68" stroke="#333" stroke-width="0.5"/>
<line x1="71.1" y1="269.24" x2="72.3" y2="269.24" stroke="#333" stroke-width="0.5"/>
<line x1="71.1" y1="266.8" x2="72.3" y2="266.8" stroke="#333" stroke-width="0.5"/>
<line x1="71.1" y1="264.36" x2="72.3" y2="264.36" stroke="#333" stroke-width="0.5"/>
<line x1="71.1" y1="261.92" x2="72.3" y2="261.92" stroke="#333" stroke-width="0.5"/>
<line x1="71.1" y1="259.48" x2="72.3" y2="259.48" stroke="#333" stroke-width="0.5"/>
<line x1="71.1" y1="257.04" x2="72.3" y2="257.04" stroke="#333" stroke-width="0.5"/>
<line x1="71.1" y1="254.6" x2="72.3" y2="254.6" stroke="#333" stroke-width="0.5"/>
<line x1="71.1" y1="252.16" x2="72.3" y2="252.16" stroke="#333" stroke-width="0.5"/>
<line x1="71.1" y1="249.72" x2="72.3" y2="249.72" stroke="#333" stroke-width="0.5"/>
<line x1="71.1" y1="247.28" x2="72.3" y2="247.28" stroke="#333" stroke-width="0.5"/>
<line x1="71.1" y1="244.84" x2="72.3" y2="244.84" stroke="#333" stroke-width="0.5"/>
<line x1="71.1" y1="242.4" x2="72.3" y2="242.4" stroke="#333" stroke-width="0.5"/>
<line x1="71.1" y1="239.96" x2="72.3" y2="239.96" stroke="#333" stroke-width="0.5"/>
<line x1="71.1" y1="237.52" x2="72.3" y2="237.52" stroke="#333" stroke-width="0.5"/>
<line x1="72.3" y1="345.5" x2="72.3" y2="347.7" stroke="#333" stroke-width="0.7"/>
<text x="72.3" y="358.39" font-size="9" font-weight="bold" text-anchor="middle" fill="#231f20">0</text>
<line x1="99.86" y1="345.5" x2="99.86" y2="346.8" stroke="#333" stroke-width="0.6"/>
<line x1="127.42" y1="345.5" x2="127.42" y2="347.7" stroke="#333" stroke-width="0.7"/>
<text x="127.42" y="358.39" font-size="9" font-weight="bold" text-anchor="middle" fill="#231f20">1000</text>
<line x1="154.98" y1="345.5" x2="154.98" y2="346.8" stroke="#333" stroke-width="0.6"/>
<line x1="182.54" y1="345.5" x2="182.54" y2="347.7" stroke="#333" stroke-width="0.7"/>
<text x="182.54" y="358.39" font-size="9" font-weight="bold" text-anchor="middle" fill="#231f20">2000</text>
<line x1="210.1" y1="345.5" x2="210.1" y2="346.8" stroke="#333" stroke-width="0.6"/>
<line x1="237.66" y1="345.5" x2="237.66" y2="347.7" stroke="#333" stroke-width="0.7"/>
<text x="237.66" y="358.39" font-size="9" font-weight="bold" text-anchor="middle" fill="#231f20">3000</text>
<line x1="265.22" y1="345.5" x2="265.22" y2="346.8" stroke="#333" stroke-width="0.6"/>
<line x1="292.78" y1="345.5" x2="292.78" y2="347.7" stroke="#333" stroke-width="0.7"/>
<text x="292.78" y="358.39" font-size="9" font-weight="bold" text-anchor="middle" fill="#231f20">4000</text>
<text x="182" y="371.8" font-size="9.3" font-weight="bold" text-anchor="middle" fill="#231f20">Time (s)</text>
<text x="36.2" y="292.3" font-size="9.3" font-weight="bold" text-anchor="middle" fill="#231f20" transform="rotate(-90 36.2 289)">Resistance(Ω)</text>
<line x1="72.3" y1="289" x2="292.4" y2="289" stroke="#c2304f" stroke-width="1.1" stroke-dasharray="1.1,1.3"/>
<text x="75.6" y="246.39" font-size="9" font-weight="bold" fill="#c44a64">40 °C</text>
<polyline points="95.62,288.74 95.67,290.73 95.73,292.64 95.78,294.46 95.84,296.2 95.89,297.87" fill="none" stroke="#8f9ad3" stroke-width="1.5" stroke-dasharray="1,0.7"/>
<polyline points="115.51,266.86 115.57,267.85 115.62,270.77 115.68,273.57 115.73,276.24 115.79,278.79 115.84,281.23 115.9,283.56 115.96,285.78 116.01,287.91 116.07,289.95 116.12,291.89 116.18,293.75 116.23,295.53 116.29,297.22" fill="none" stroke="#8f9ad3" stroke-width="1.5" stroke-dasharray="1,0.7"/>
<polyline points="175.37,261.37 175.43,263.05 175.48,266.19 175.54,269.18 175.59,272.05 175.65,274.79 175.71,277.4 175.76,279.9 175.82,282.29 175.87,284.58 175.93,286.76 175.98,288.85 176.04,290.84 176.09,292.75 176.15,294.57 176.2,296.31 176.26,297.97" fill="none" stroke="#8f9ad3" stroke-width="1.5" stroke-dasharray="1,0.7"/>
<polyline points="195.33,281.5 195.38,282.84 195.44,285.1 195.49,287.25 195.55,289.32 195.6,291.29 195.66,293.17 195.71,294.97 195.77,296.69" fill="none" stroke="#8f9ad3" stroke-width="1.5" stroke-dasharray="1,0.7"/>
<polyline points="215.28,249.78 215.34,252.2 215.39,255.82 215.45,259.28 215.5,262.58 215.56,265.74 215.61,268.76 215.67,271.64 215.72,274.4 215.78,277.04 215.83,279.55 215.89,281.96 215.94,284.26 216,286.46 216.05,288.56 216.11,290.57 216.16,292.49 216.22,294.32 216.27,296.07 216.33,297.75" fill="none" stroke="#8f9ad3" stroke-width="1.5" stroke-dasharray="1,0.7"/>
<polyline points="235.23,254.66 235.29,257.15 235.34,260.55 235.4,263.8 235.46,266.9 235.51,269.87 235.57,272.71 235.62,275.42 235.68,278.01 235.73,280.48 235.79,282.84 235.84,285.1 235.9,287.27 235.95,289.33 236.01,291.3 236.06,293.19 236.12,294.99 236.17,296.71" fill="none" stroke="#8f9ad3" stroke-width="1.5" stroke-dasharray="1,0.7"/>
<polyline points="255.19,288.82 255.24,290.33 255.3,292.26 255.35,294.1 255.41,295.85 255.46,297.53" fill="none" stroke="#8f9ad3" stroke-width="1.5" stroke-dasharray="1,0.7"/>
<polyline points="275.14,272.96 275.2,275.2 275.25,277.79 275.31,280.27 275.36,282.65 275.42,284.91 275.47,287.08 275.53,289.15 275.58,291.13 275.64,293.02 275.69,294.83 275.75,296.56" fill="none" stroke="#8f9ad3" stroke-width="1.5" stroke-dasharray="1,0.7"/>
<polyline points="72.3,333.17 72.36,333.17 72.41,333.18 72.47,333.18 72.52,333.19 72.58,333.19 72.63,333.2 72.69,333.2 72.74,333.21 72.8,333.21 72.85,333.22 72.91,333.22 72.96,333.23 73.02,333.23 73.07,333.23 73.13,333.24 73.18,333.24 73.24,333.25 73.29,333.25 73.35,333.26 73.4,333.26 73.46,333.27 73.51,333.27 73.57,333.28 73.62,333.28 73.68,333.29 73.73,333.29 73.79,333.3 73.84,333.3 73.9,333.31 73.95,333.31 74.01,333.32 74.06,333.32 74.12,333.33 74.17,333.33 74.23,333.33 74.28,333.34 74.34,333.34 74.39,333.35 74.45,333.35 74.5,333.36 74.56,333.36 74.62,333.37 74.67,333.37 74.73,333.38 74.78,333.38 74.84,333.39 74.89,333.39 74.95,333.4 75,333.4 75.06,333.41 75.11,333.41 75.17,333.42 75.22,333.42 75.28,333.43 75.33,333.43 75.39,333.43 75.44,333.44 75.5,333.44 75.55,333.45 75.61,333.45 75.66,333.46 75.72,333.46 75.77,333.47 75.83,333.47 75.88,333.48 75.94,333.48 75.99,333.49 76.05,333.49 76.1,333.5 76.16,333.5 76.21,333.51 76.27,333.51 76.32,333.52 76.38,333.52 76.43,333.53 76.49,333.53 76.54,333.53 76.6,333.54 76.65,333.54 76.71,333.55 76.76,333.55 76.82,333.56 76.87,333.56 76.93,333.57 76.99,333.57 77.04,333.58 77.1,333.58 77.15,333.59 77.21,333.59 77.26,333.6 77.32,333.6 77.37,333.61 77.43,333.61 77.48,333.62 77.54,333.62 77.59,333.63 77.65,333.63 77.7,333.64 77.76,333.64 77.81,333.64 77.87,333.65 77.92,333.65 77.98,333.66 78.03,333.66 78.09,333.67 78.14,333.67 78.2,333.68 78.25,333.68 78.31,333.69 78.36,333.69 78.42,333.7 78.47,333.7 78.53,333.71 78.58,333.71 78.64,333.72 78.69,333.72 78.75,333.73 78.8,333.73 78.86,333.74 78.91,333.74 78.97,333.74 79.02,333.75 79.08,333.75 79.13,333.76 79.19,333.76 79.25,333.77 79.3,333.77 79.36,333.78 79.41,333.78 79.47,333.79 79.52,333.79 79.58,333.8 79.63,333.8 79.69,333.81 79.74,333.81 79.8,333.82 79.85,333.82 79.91,333.83 79.96,333.83 80.02,333.84 80.07,333.84 80.13,333.84 80.18,333.85 80.24,333.85 80.29,333.86 80.35,333.86 80.4,333.87 80.46,333.87 80.51,333.88 80.57,333.88 80.62,333.89 80.68,333.89 80.73,333.9 80.79,333.9 80.84,333.91 80.9,333.91 80.95,333.92 81.01,333.92 81.06,333.93 81.12,333.93 81.17,333.94 81.23,333.94 81.28,333.94 81.34,333.95 81.39,333.95 81.45,333.96 81.51,333.96 81.56,333.97 81.62,333.97 81.67,333.98 81.73,333.98 81.78,333.99 81.84,333.99 81.89,334 81.95,334 82,334.01 82.06,334.01 82.11,334.02 82.17,334.02 82.22,334.03 82.28,334.03 82.33,334.04 82.39,334.04 82.44,334.04 82.5,334.05 82.55,334.05 82.61,334.06 82.66,334.06 82.72,334.07 82.77,334.07 82.83,334.08 82.88,334.08 82.94,334.09 82.99,334.09 83.05,334.1 83.1,334.1 83.16,334.11 83.21,334.11 83.27,334.12 83.32,334.12 83.38,334.13 83.43,334.13 83.49,334.14 83.54,334.14 83.6,334.14 83.65,334.15 83.71,334.15 83.76,334.16 83.82,334.16 83.88,334.17 83.93,334.17 83.99,334.18 84.04,334.18 84.1,334.19 84.15,334.19 84.21,334.2 84.26,334.2 84.32,334.21 84.37,334.21 84.43,334.22 84.48,334.22 84.54,334.23 84.59,334.23 84.65,334.24 84.7,334.24 84.76,334.25 84.81,334.25 84.87,334.25 84.92,334.26 84.98,334.26 85.03,331.69 85.09,327.68 85.14,324.05 85.2,320.76 85.25,317.78 85.31,315.08 85.36,312.63 85.42,310.42 85.47,308.41 85.53,306.59 85.58,304.94 85.64,303.44 85.69,302.09 85.75,300.86 85.8,299.75 85.86,298.74 85.91,297.82 85.97,296.99 86.02,296.24 86.08,295.56 86.14,294.94 86.19,294.38 86.25,293.87 86.3,293.4 86.36,292.98 86.41,292.6 86.47,292.25 86.52,291.94 86.58,291.65 86.63,291.39 86.69,291.15 86.74,290.94 86.8,290.74 86.85,290.56 86.91,290.4 86.96,290.25 87.02,290.11 87.07,289.99 87.13,289.88 87.18,289.77 87.24,289.68 87.29,289.59 87.35,289.51 87.4,289.44 87.46,289.37 87.51,289.31 87.57,289.25 87.62,289.2 87.68,289.15 87.73,289.11 87.79,289.07 87.84,289.03 87.9,289 87.95,288.96 88.01,288.93 88.06,288.9 88.12,288.88 88.17,288.85 88.23,288.83 88.28,288.81 88.34,288.79 88.4,288.77 88.45,288.75 88.51,288.74 88.56,288.72 88.62,288.71 88.67,288.69 88.73,288.68 88.78,288.66 88.84,288.65 88.89,288.64 88.95,288.63 89,288.62 89.06,288.61 89.11,288.6 89.17,288.59 89.22,288.58 89.28,288.57 89.33,288.56 89.39,288.55 89.44,288.55 89.5,288.54 89.55,288.53 89.61,288.52 89.66,288.52 89.72,288.51 89.77,288.5 89.83,288.5 89.88,288.49 89.94,288.48 89.99,288.48 90.05,288.47 90.1,288.47 90.16,288.46 90.21,288.46 90.27,288.45 90.32,288.45 90.38,288.44 90.43,288.44 90.49,288.43 90.54,288.43 90.6,288.42 90.65,288.42 90.71,288.41 90.77,288.41 90.82,288.4 90.88,288.4 90.93,288.39 90.99,288.39 91.04,288.39 91.1,288.38 91.15,288.38 91.21,288.37 91.26,288.37 91.32,288.37 91.37,288.36 91.43,288.36 91.48,288.36 91.54,288.35 91.59,288.35 91.65,288.35 91.7,288.34 91.76,288.34 91.81,288.34 91.87,288.33 91.92,288.33 91.98,288.33 92.03,288.32 92.09,288.32 92.14,288.32 92.2,288.32 92.25,288.31 92.31,288.31 92.36,288.31 92.42,288.31 92.47,288.3 92.53,288.3 92.58,288.3 92.64,288.3 92.69,288.29 92.75,288.29 92.8,288.29 92.86,288.29 92.91,288.28 92.97,288.28 93.03,288.28 93.08,288.28 93.14,288.28 93.19,288.27 93.25,288.27 93.3,288.27 93.36,288.27 93.41,288.27 93.47,288.26 93.52,288.26 93.58,288.26 93.63,288.26 93.69,288.26 93.74,288.25 93.8,288.25 93.85,288.25 93.91,288.25 93.96,288.25 94.02,288.25 94.07,288.24 94.13,288.24 94.18,288.24 94.24,288.24 94.29,288.24 94.35,288.24 94.4,288.24 94.46,288.23 94.51,288.23 94.57,288.23 94.62,288.23 94.68,288.23 94.73,288.23 94.79,288.23 94.84,288.22 94.9,288.22 94.95,288.22 95.01,288.22 95.06,288.22 95.12,288.22 95.17,288.22 95.23,288.22 95.29,288.22 95.34,288.21 95.4,288.21 95.45,288.21 95.51,288.21 95.56,288.21 95.62,288.74" fill="none" stroke="#6d7cc1" stroke-width="2" stroke-linejoin="round" stroke-linecap="round"/>
<polyline points="95.89,297.87 95.95,299.46 96,300.98 96.06,302.43 96.11,303.82 96.17,305.15 96.22,306.42 96.28,307.63 96.33,308.79 96.39,309.9 96.44,310.96 96.5,311.97 96.55,312.94 96.61,313.87 96.66,314.75 96.72,315.6 96.77,316.41 96.83,317.18 96.88,317.92 96.94,318.62 96.99,319.3 97.05,319.94 97.1,320.56 97.16,321.15 97.21,321.71 97.27,322.25 97.32,322.77 97.38,323.26 97.43,323.73 97.49,324.19 97.54,324.62 97.6,325.03 97.66,325.42 97.71,325.8 97.77,326.16 97.82,326.5 97.88,326.83 97.93,327.15 97.99,327.45 98.04,327.74 98.1,328.02 98.15,328.28 98.21,328.53 98.26,328.77 98.32,329 98.37,329.23 98.43,329.44 98.48,329.64 98.54,329.83 98.59,330.02 98.65,330.2 98.7,330.37 98.76,330.53 98.81,330.68 98.87,330.83 98.92,330.97 98.98,331.11 99.03,331.24 99.09,331.37 99.14,331.49 99.2,331.6 99.25,331.71 99.31,331.82 99.36,331.92 99.42,332.01 99.47,332.11 99.53,332.19 99.58,332.28 99.64,332.36 99.69,332.44 99.75,332.51 99.8,332.58 99.86,332.65 99.92,332.72 99.97,332.78 100.03,332.84 100.08,332.9 100.14,332.96 100.19,333.01 100.25,333.06 100.3,333.11 100.36,333.16 100.41,333.2 100.47,333.25 100.52,333.29 100.58,333.33 100.63,333.37 100.69,333.4 100.74,333.44 100.8,333.47 100.85,333.51 100.91,333.54 100.96,333.57 101.02,333.6 101.07,333.62 101.13,333.65 101.18,333.68 101.24,333.7 101.29,333.73 101.35,333.75 101.4,333.77 101.46,333.79 101.51,333.81 101.57,333.84 101.62,333.85 101.68,333.87 101.73,333.89 101.79,333.91 101.84,333.93 101.9,333.94 101.95,333.96 102.01,333.97 102.06,333.99 102.12,334 102.18,334.02 102.23,334.03 102.29,334.04 102.34,334.05 102.4,334.07 102.45,334.08 102.51,334.09 102.56,334.1 102.62,334.11 102.67,334.12 102.73,334.13 102.78,334.14 102.84,334.15 102.89,334.16 102.95,334.17 103,334.18 103.06,334.19 103.11,334.19 103.17,334.2 103.22,334.21 103.28,334.22 103.33,334.22 103.39,334.23 103.44,334.24 103.5,334.25 103.55,334.25 103.61,334.26 103.66,334.27 103.72,334.27 103.77,334.28 103.83,334.28 103.88,334.29 103.94,334.3 103.99,334.3 104.05,334.31 104.1,334.31 104.16,334.32 104.21,334.32 104.27,334.33 104.32,334.33 104.38,334.34 104.43,334.34 104.49,334.35 104.55,334.35 104.6,334.36 104.66,334.36 104.71,334.36 104.77,334.37 104.82,334.37 104.88,334.38 104.93,334.38 104.99,330.42 105.04,324.5 105.1,319.14 105.15,314.28 105.21,309.89 105.26,305.91 105.32,302.3 105.37,299.03 105.43,296.08 105.48,293.4 105.54,290.97 105.59,288.78 105.65,286.78 105.7,284.98 105.76,283.35 105.81,281.87 105.87,280.52 105.92,279.31 105.98,278.21 106.03,277.21 106.09,276.3 106.14,275.48 106.2,274.74 106.25,274.06 106.31,273.45 106.36,272.9 106.42,272.39 106.47,271.93 106.53,271.52 106.58,271.14 106.64,270.8 106.69,270.49 106.75,270.21 106.81,269.95 106.86,269.72 106.92,269.5 106.97,269.31 107.03,269.13 107.08,268.97 107.14,268.83 107.19,268.69 107.25,268.57 107.3,268.46 107.36,268.36 107.41,268.27 107.47,268.18 107.52,268.1 107.58,268.03 107.63,267.97 107.69,267.91 107.74,267.85 107.8,267.8 107.85,267.76 107.91,267.71 107.96,267.67 108.02,267.64 108.07,267.6 108.13,267.57 108.18,267.54 108.24,267.51 108.29,267.49 108.35,267.47 108.4,267.44 108.46,267.42 108.51,267.4 108.57,267.38 108.62,267.37 108.68,267.35 108.73,267.34 108.79,267.32 108.84,267.31 108.9,267.3 108.95,267.28 109.01,267.27 109.07,267.26 109.12,267.25 109.18,267.24 109.23,267.23 109.29,267.22 109.34,267.21 109.4,267.2 109.45,267.19 109.51,267.19 109.56,267.18 109.62,267.17 109.67,267.16 109.73,267.16 109.78,267.15 109.84,267.14 109.89,267.14 109.95,267.13 110,267.12 110.06,267.12 110.11,267.11 110.17,267.11 110.22,267.1 110.28,267.1 110.33,267.09 110.39,267.09 110.44,267.08 110.5,267.08 110.55,267.07 110.61,267.07 110.66,267.06 110.72,267.06 110.77,267.05 110.83,267.05 110.88,267.04 110.94,267.04 110.99,267.04 111.05,267.03 111.1,267.03 111.16,267.02 111.21,267.02 111.27,267.02 111.32,267.01 111.38,267.01 111.44,267.01 111.49,267 111.55,267 111.6,267 111.66,266.99 111.71,266.99 111.77,266.99 111.82,266.98 111.88,266.98 111.93,266.98 111.99,266.97 112.04,266.97 112.1,266.97 112.15,266.97 112.21,266.96 112.26,266.96 112.32,266.96 112.37,266.96 112.43,266.95 112.48,266.95 112.54,266.95 112.59,266.95 112.65,266.94 112.7,266.94 112.76,266.94 112.81,266.94 112.87,266.93 112.92,266.93 112.98,266.93 113.03,266.93 113.09,266.92 113.14,266.92 113.2,266.92 113.25,266.92 113.31,266.92 113.36,266.91 113.42,266.91 113.47,266.91 113.53,266.91 113.58,266.91 113.64,266.91 113.7,266.9 113.75,266.9 113.81,266.9 113.86,266.9 113.92,266.9 113.97,266.9 114.03,266.89 114.08,266.89 114.14,266.89 114.19,266.89 114.25,266.89 114.3,266.89 114.36,266.89 114.41,266.88 114.47,266.88 114.52,266.88 114.58,266.88 114.63,266.88 114.69,266.88 114.74,266.88 114.8,266.87 114.85,266.87 114.91,266.87 114.96,266.87 115.02,266.87 115.07,266.87 115.13,266.87 115.18,266.87 115.24,266.87 115.29,266.86 115.35,266.86 115.4,266.86 115.46,266.86 115.51,266.86" fill="none" stroke="#6d7cc1" stroke-width="2" stroke-linejoin="round" stroke-linecap="round"/>
<polyline points="116.29,297.22 116.34,298.85 116.4,300.4 116.45,301.88 116.51,303.3 116.56,304.65 116.62,305.94 116.67,307.18 116.73,308.36 116.78,309.49 116.84,310.57 116.89,311.61 116.95,312.59 117,313.54 117.06,314.44 117.11,315.3 117.17,316.13 117.22,316.91 117.28,317.67 117.33,318.39 117.39,319.07 117.44,319.73 117.5,320.36 117.55,320.96 117.61,321.54 117.66,322.09 117.72,322.61 117.77,323.11 117.83,323.59 117.88,324.05 117.94,324.49 117.99,324.91 118.05,325.31 118.1,325.7 118.16,326.07 118.21,326.42 118.27,326.75 118.33,327.07 118.38,327.38 118.44,327.68 118.49,327.96 118.55,328.22 118.6,328.48 118.66,328.73 118.71,328.96 118.77,329.19 118.82,329.4 118.88,329.61 118.93,329.81 118.99,329.99 119.04,330.18 119.1,330.35 119.15,330.51 119.21,330.67 119.26,330.82 119.32,330.97 119.37,331.11 119.43,331.24 119.48,331.37 119.54,331.49 119.59,331.6 119.65,331.72 119.7,331.82 119.76,331.92 119.81,332.02 119.87,332.12 119.92,332.21 119.98,332.29 120.03,332.37 120.09,332.45 120.14,332.53 120.2,332.6 120.25,332.67 120.31,332.74 120.36,332.8 120.42,332.86 120.47,332.92 120.53,332.98 120.59,333.03 120.64,333.08 120.7,333.13 120.75,333.18 120.81,333.23 120.86,333.27 120.92,333.31 120.97,333.35 121.03,333.39 121.08,333.43 121.14,333.47 121.19,333.5 121.25,333.53 121.3,333.57 121.36,333.6 121.41,333.63 121.47,333.65 121.52,333.68 121.58,333.71 121.63,333.73 121.69,333.76 121.74,333.78 121.8,333.8 121.85,333.82 121.91,333.85 121.96,333.87 122.02,333.89 122.07,333.9 122.13,333.92 122.18,333.94 122.24,333.96 122.29,333.97 122.35,333.99 122.4,334 122.46,334.02 122.51,334.03 122.57,334.05 122.62,334.06 122.68,334.07 122.73,334.08 122.79,334.1 122.85,334.11 122.9,334.12 122.96,334.13 123.01,334.14 123.07,334.15 123.12,334.16 123.18,334.17 123.23,334.18 123.29,334.19 123.34,334.2 123.4,334.21 123.45,334.21 123.51,334.22 123.56,334.23 123.62,334.24 123.67,334.25 123.73,334.25 123.78,334.26 123.84,334.27 123.89,334.27 123.95,334.28 124,334.29 124.06,334.29 124.11,334.3 124.17,334.31 124.22,334.31 124.28,334.32 124.33,334.32 124.39,334.33 124.44,334.33 124.5,334.34 124.55,334.34 124.61,334.35 124.66,334.35 124.72,334.36 124.77,334.36 124.83,334.37 124.88,334.37 124.94,332.35 124.99,329.42 125.05,326.78 125.1,324.38 125.16,322.2 125.22,320.23 125.27,318.44 125.33,316.82 125.38,315.35 125.44,314.02 125.49,312.81 125.55,311.72 125.6,310.72 125.66,309.82 125.71,309.01 125.77,308.27 125.82,307.59 125.88,306.98 125.93,306.43 125.99,305.92 126.04,305.47 126.1,305.05 126.15,304.67 126.21,304.33 126.26,304.02 126.32,303.74 126.37,303.48 126.43,303.24 126.48,303.03 126.54,302.84 126.59,302.66 126.65,302.5 126.7,302.35 126.76,302.21 126.81,302.09 126.87,301.98 126.92,301.88 126.98,301.78 127.03,301.7 127.09,301.62 127.14,301.54 127.2,301.48 127.25,301.42 127.31,301.36 127.36,301.31 127.42,301.26 127.48,301.22 127.53,301.17 127.59,301.14 127.64,301.1 127.7,301.07 127.75,301.04 127.81,301.01 127.86,300.98 127.92,300.96 127.97,300.94 128.03,300.91 128.08,300.89 128.14,300.87 128.19,300.86 128.25,300.84 128.3,300.82 128.36,300.81 128.41,300.79 128.47,300.78 128.52,300.77 128.58,300.75 128.63,300.74 128.69,300.73 128.74,300.72 128.8,300.71 128.85,300.7 128.91,300.69 128.96,300.68 129.02,300.67 129.07,300.66 129.13,300.65 129.18,300.64 129.24,300.64 129.29,300.63 129.35,300.62 129.4,300.61 129.46,300.61 129.51,300.6 129.57,300.59 129.62,300.59 129.68,300.58 129.74,300.57 129.79,300.57 129.85,300.56 129.9,300.55 129.96,300.55 130.01,300.54 130.07,300.54 130.12,300.53 130.18,300.53 130.23,300.52 130.29,300.52 130.34,300.51 130.4,300.51 130.45,300.5 130.51,300.5 130.56,300.49 130.62,300.49 130.67,300.48 130.73,300.48 130.78,300.48 130.84,300.47 130.89,300.47 130.95,300.46 131,300.46 131.06,300.46 131.11,300.45 131.17,300.45 131.22,300.44 131.28,300.44 131.33,300.44 131.39,300.43 131.44,300.43 131.5,300.43 131.55,300.42 131.61,300.42 131.66,300.42 131.72,300.41 131.77,300.41 131.83,300.41 131.88,300.41 131.94,300.4 131.99,300.4 132.05,300.4 132.11,300.39 132.16,300.39 132.22,300.39 132.27,300.39 132.33,300.38 132.38,300.38 132.44,300.38 132.49,300.38 132.55,300.37 132.6,300.37 132.66,300.37 132.71,300.37 132.77,300.36 132.82,300.36 132.88,300.36 132.93,300.36 132.99,300.35 133.04,300.35 133.1,300.35 133.15,300.35 133.21,300.35 133.26,300.34 133.32,300.34 133.37,300.34 133.43,300.34 133.48,300.34 133.54,300.34 133.59,300.33 133.65,300.33 133.7,300.33 133.76,300.33 133.81,300.33 133.87,300.33 133.92,300.32 133.98,300.32 134.03,300.32 134.09,300.32 134.14,300.32 134.2,300.32 134.25,300.31 134.31,300.31 134.37,300.31 134.42,300.31 134.48,300.31 134.53,300.31 134.59,300.31 134.64,300.3 134.7,300.3 134.75,300.3 134.81,300.3 134.86,300.3 134.92,300.3 134.97,300.3 135.03,300.3 135.08,300.3 135.14,300.29 135.19,300.29 135.25,300.29 135.3,300.29 135.36,300.29 135.41,300.29 135.47,300.29 135.52,300.85 135.58,302.3 135.63,303.7 135.69,305.03 135.74,306.3 135.8,307.52 135.85,308.68 135.91,309.79 135.96,310.85 136.02,311.87 136.07,312.84 136.13,313.76 136.18,314.65 136.24,315.5 136.29,316.31 136.35,317.08 136.4,317.82 136.46,318.53 136.51,319.21 136.57,319.86 136.63,320.48 136.68,321.07 136.74,321.63 136.79,322.17 136.85,322.69 136.9,323.19 136.96,323.66 137.01,324.11 137.07,324.54 137.12,324.96 137.18,325.35 137.23,325.73 137.29,326.09 137.34,326.44 137.4,326.77 137.45,327.08 137.51,327.39 137.56,327.68 137.62,327.95 137.67,328.22 137.73,328.47 137.78,328.71 137.84,328.95 137.89,329.17 137.95,329.38 138,329.58 138.06,329.78 138.11,329.96 138.17,330.14 138.22,330.31 138.28,330.47 138.33,330.63 138.39,330.78 138.44,330.92 138.5,331.06 138.55,331.19 138.61,331.32 138.66,331.44 138.72,331.55 138.77,331.66 138.83,331.77 138.88,331.87 138.94,331.97 139,332.06 139.05,332.15 139.11,332.23 139.16,332.31 139.22,332.39 139.27,332.47 139.33,332.54 139.38,332.61 139.44,332.67 139.49,332.74 139.55,332.8 139.6,332.86 139.66,332.91 139.71,332.97 139.77,333.02 139.82,333.07 139.88,333.12 139.93,333.16 139.99,333.21 140.04,333.25 140.1,333.29 140.15,333.33 140.21,333.36 140.26,333.4 140.32,333.43 140.37,333.47 140.43,333.5 140.48,333.53 140.54,333.56 140.59,333.59 140.65,333.62 140.7,333.64 140.76,333.67 140.81,333.69 140.87,333.72 140.92,333.74 140.98,333.76 141.03,333.78 141.09,333.8 141.14,333.82 141.2,333.84 141.26,333.86 141.31,333.88 141.37,333.89 141.42,333.91 141.48,333.93 141.53,333.94 141.59,333.96 141.64,333.97 141.7,333.98 141.75,334 141.81,334.01 141.86,334.02 141.92,334.04 141.97,334.05 142.03,334.06 142.08,334.07 142.14,334.08 142.19,334.09 142.25,334.1 142.3,334.11 142.36,334.12 142.41,334.13 142.47,334.14 142.52,334.15 142.58,334.16 142.63,334.17 142.69,334.17 142.74,334.18 142.8,334.19 142.85,334.2 142.91,334.2 142.96,334.21 143.02,334.22 143.07,334.23 143.13,334.23 143.18,334.24 143.24,334.25 143.29,334.25 143.35,334.26 143.4,334.26 143.46,334.27 143.52,334.28 143.57,334.28 143.63,334.29 143.68,334.29 143.74,334.3 143.79,334.3 143.85,334.31 143.9,334.31 143.96,334.32 144.01,334.32 144.07,334.33 144.12,334.33 144.18,334.34 144.23,334.34 144.29,334.35 144.34,334.35 144.4,334.36 144.45,334.36 144.51,334.36 144.56,334.37 144.62,334.37 144.67,334.38 144.73,334.38 144.78,334.38 144.84,334.39 144.89,333.22 144.95,331.56 145,330.05 145.06,328.69 145.11,327.45 145.17,326.32 145.22,325.3 145.28,324.38 145.33,323.54 145.39,322.77 145.44,322.08 145.5,321.45 145.55,320.88 145.61,320.36 145.66,319.88 145.72,319.45 145.77,319.06 145.83,318.71 145.89,318.38 145.94,318.09 146,317.82 146.05,317.58 146.11,317.35 146.16,317.15 146.22,316.97 146.27,316.8 146.33,316.64 146.38,316.5 146.44,316.37 146.49,316.26 146.55,316.15 146.6,316.05 146.66,315.96 146.71,315.88 146.77,315.8 146.82,315.73 146.88,315.66 146.93,315.61 146.99,315.55 147.04,315.5 147.1,315.45 147.15,315.41 147.21,315.37 147.26,315.33 147.32,315.3 147.37,315.26 147.43,315.23 147.48,315.21 147.54,315.18 147.59,315.15 147.65,315.13 147.7,315.11 147.76,315.09 147.81,315.07 147.87,315.05 147.92,315.03 147.98,315.02 148.03,315 148.09,314.98 148.15,314.97 148.2,314.96 148.26,314.94 148.31,314.93 148.37,314.92 148.42,314.91 148.48,314.9 148.53,314.89 148.59,314.88 148.64,314.87 148.7,314.86 148.75,314.85 148.81,314.84 148.86,314.83 148.92,314.82 148.97,314.81 149.03,314.8 149.08,314.8 149.14,314.79 149.19,314.78 149.25,314.77 149.3,314.77 149.36,314.76 149.41,314.75 149.47,314.75 149.52,314.74 149.58,314.73 149.63,314.73 149.69,314.72 149.74,314.72 149.8,314.71 149.85,314.7 149.91,314.7 149.96,314.69 150.02,314.69 150.07,314.68 150.13,314.68 150.18,314.67 150.24,314.67 150.29,314.66 150.35,314.66 150.41,314.65 150.46,314.65 150.52,314.64 150.57,314.64 150.63,314.64 150.68,314.63 150.74,314.63 150.79,314.62 150.85,314.62 150.9,314.62 150.96,314.61 151.01,314.61 151.07,314.6 151.12,314.6 151.18,314.6 151.23,314.59 151.29,314.59 151.34,314.59 151.4,314.58 151.45,314.58 151.51,314.58 151.56,314.57 151.62,314.57 151.67,314.57 151.73,314.56 151.78,314.56 151.84,314.56 151.89,314.55 151.95,314.55 152,314.55 152.06,314.55 152.11,314.54 152.17,314.54 152.22,314.54 152.28,314.53 152.33,314.53 152.39,314.53 152.44,314.53 152.5,314.52 152.55,314.52 152.61,314.52 152.66,314.52 152.72,314.52 152.78,314.51 152.83,314.51 152.89,314.51 152.94,314.51 153,314.5 153.05,314.5 153.11,314.5 153.16,314.5 153.22,314.5 153.27,314.49 153.33,314.49 153.38,314.49 153.44,314.49 153.49,314.49 153.55,314.49 153.6,314.48 153.66,314.48 153.71,314.48 153.77,314.48 153.82,314.48 153.88,314.48 153.93,314.47 153.99,314.47 154.04,314.47 154.1,314.47 154.15,314.47 154.21,314.47 154.26,314.46 154.32,314.46 154.37,314.46 154.43,314.46 154.48,314.46 154.54,314.46 154.59,314.46 154.65,314.46 154.7,314.45 154.76,314.45 154.81,314.45 154.87,314.45 154.92,314.45 154.98,314.45 155.04,314.45 155.09,314.45 155.15,314.45 155.2,314.44 155.26,314.44 155.31,314.44 155.37,314.44 155.42,314.44 155.48,314.79 155.53,315.63 155.59,316.43 155.64,317.19 155.7,317.92 155.75,318.62 155.81,319.29 155.86,319.93 155.92,320.54 155.97,321.13 156.03,321.69 156.08,322.22 156.14,322.73 156.19,323.22 156.25,323.69 156.3,324.14 156.36,324.56 156.41,324.97 156.47,325.36 156.52,325.74 156.58,326.09 156.63,326.44 156.69,326.76 156.74,327.08 156.8,327.38 156.85,327.66 156.91,327.94 156.96,328.2 157.02,328.45 157.07,328.69 157.13,328.92 157.18,329.14 157.24,329.35 157.3,329.55 157.35,329.74 157.41,329.93 157.46,330.1 157.52,330.27 157.57,330.43 157.63,330.59 157.68,330.73 157.74,330.88 157.79,331.01 157.85,331.14 157.9,331.27 157.96,331.39 158.01,331.5 158.07,331.61 158.12,331.71 158.18,331.81 158.23,331.91 158.29,332 158.34,332.09 158.4,332.18 158.45,332.26 158.51,332.34 158.56,332.41 158.62,332.48 158.67,332.55 158.73,332.62 158.78,332.68 158.84,332.74 158.89,332.8 158.95,332.85 159,332.91 159.06,332.96 159.11,333.01 159.17,333.06 159.22,333.1 159.28,333.15 159.33,333.19 159.39,333.23 159.44,333.27 159.5,333.3 159.55,333.34 159.61,333.37 159.67,333.41 159.72,333.44 159.78,333.47 159.83,333.5 159.89,333.53 159.94,333.56 160,333.58 160.05,333.61 160.11,333.63 160.16,333.66 160.22,333.68 160.27,333.7 160.33,333.72 160.38,333.74 160.44,333.76 160.49,333.78 160.55,333.8 160.6,333.82 160.66,333.84 160.71,333.85 160.77,333.87 160.82,333.88 160.88,333.9 160.93,333.91 160.99,333.93 161.04,333.94 161.1,333.96 161.15,333.97 161.21,333.98 161.26,333.99 161.32,334.01 161.37,334.02 161.43,334.03 161.48,334.04 161.54,334.05 161.59,334.06 161.65,334.07 161.7,334.08 161.76,334.09 161.81,334.1 161.87,334.11 161.93,334.12 161.98,334.12 162.04,334.13 162.09,334.14 162.15,334.15 162.2,334.16 162.26,334.16 162.31,334.17 162.37,334.18 162.42,334.19 162.48,334.19 162.53,334.2 162.59,334.21 162.64,334.21 162.7,334.22 162.75,334.22 162.81,334.23 162.86,334.24 162.92,334.24 162.97,334.25 163.03,334.25 163.08,334.26 163.14,334.26 163.19,334.27 163.25,334.28 163.3,334.28 163.36,334.29 163.41,334.29 163.47,334.3 163.52,334.3 163.58,334.3 163.63,334.31 163.69,334.31 163.74,334.32 163.8,334.32 163.85,334.33 163.91,334.33 163.96,334.34 164.02,334.34 164.07,334.34 164.13,334.35 164.19,334.35 164.24,334.36 164.3,334.36 164.35,334.36 164.41,334.37 164.46,334.37 164.52,334.38 164.57,334.38 164.63,334.38 164.68,334.39 164.74,334.39 164.79,334.39 164.85,328.82 164.9,322.53 164.96,316.83 165.01,311.67 165.07,307 165.12,302.77 165.18,298.94 165.23,295.47 165.29,292.33 165.34,289.49 165.4,286.91 165.45,284.58 165.51,282.46 165.56,280.55 165.62,278.81 165.67,277.24 165.73,275.82 165.78,274.53 165.84,273.36 165.89,272.3 165.95,271.34 166,270.47 166.06,269.68 166.11,268.96 166.17,268.31 166.22,267.72 166.28,267.19 166.33,266.7 166.39,266.26 166.44,265.86 166.5,265.5 166.56,265.17 166.61,264.87 166.67,264.6 166.72,264.35 166.78,264.13 166.83,263.92 166.89,263.74 166.94,263.57 167,263.41 167.05,263.27 167.11,263.14 167.16,263.03 167.22,262.92 167.27,262.82 167.33,262.73 167.38,262.65 167.44,262.58 167.49,262.51 167.55,262.45 167.6,262.39 167.66,262.33 167.71,262.29 167.77,262.24 167.82,262.2 167.88,262.16 167.93,262.12 167.99,262.09 168.04,262.06 168.1,262.03 168.15,262.01 168.21,261.98 168.26,261.96 168.32,261.94 168.37,261.92 168.43,261.9 168.48,261.88 168.54,261.86 168.59,261.85 168.65,261.83 168.7,261.82 168.76,261.81 168.82,261.79 168.87,261.78 168.93,261.77 168.98,261.76 169.04,261.75 169.09,261.74 169.15,261.73 169.2,261.72 169.26,261.71 169.31,261.7 169.37,261.7 169.42,261.69 169.48,261.68 169.53,261.67 169.59,261.67 169.64,261.66 169.7,261.65 169.75,261.65 169.81,261.64 169.86,261.63 169.92,261.63 169.97,261.62 170.03,261.62 170.08,261.61 170.14,261.61 170.19,261.6 170.25,261.6 170.3,261.59 170.36,261.59 170.41,261.58 170.47,261.58 170.52,261.57 170.58,261.57 170.63,261.56 170.69,261.56 170.74,261.55 170.8,261.55 170.85,261.55 170.91,261.54 170.96,261.54 171.02,261.53 171.08,261.53 171.13,261.53 171.19,261.52 171.24,261.52 171.3,261.52 171.35,261.51 171.41,261.51 171.46,261.51 171.52,261.5 171.57,261.5 171.63,261.5 171.68,261.49 171.74,261.49 171.79,261.49 171.85,261.48 171.9,261.48 171.96,261.48 172.01,261.48 172.07,261.47 172.12,261.47 172.18,261.47 172.23,261.46 172.29,261.46 172.34,261.46 172.4,261.46 172.45,261.45 172.51,261.45 172.56,261.45 172.62,261.45 172.67,261.45 172.73,261.44 172.78,261.44 172.84,261.44 172.89,261.44 172.95,261.43 173,261.43 173.06,261.43 173.11,261.43 173.17,261.43 173.22,261.42 173.28,261.42 173.33,261.42 173.39,261.42 173.45,261.42 173.5,261.42 173.56,261.41 173.61,261.41 173.67,261.41 173.72,261.41 173.78,261.41 173.83,261.41 173.89,261.4 173.94,261.4 174,261.4 174.05,261.4 174.11,261.4 174.16,261.4 174.22,261.39 174.27,261.39 174.33,261.39 174.38,261.39 174.44,261.39 174.49,261.39 174.55,261.39 174.6,261.39 174.66,261.38 174.71,261.38 174.77,261.38 174.82,261.38 174.88,261.38 174.93,261.38 174.99,261.38 175.04,261.38 175.1,261.38 175.15,261.37 175.21,261.37 175.26,261.37 175.32,261.37 175.37,261.37" fill="none" stroke="#6d7cc1" stroke-width="2" stroke-linejoin="round" stroke-linecap="round"/>
<polyline points="176.26,297.97 176.31,299.56 176.37,301.08 176.42,302.53 176.48,303.92 176.53,305.25 176.59,306.52 176.64,307.73 176.7,308.89 176.75,310 176.81,311.05 176.86,312.07 176.92,313.03 176.97,313.96 177.03,314.84 177.08,315.69 177.14,316.49 177.19,317.27 177.25,318 177.3,318.71 177.36,319.38 177.41,320.03 177.47,320.65 177.52,321.23 177.58,321.8 177.63,322.34 177.69,322.85 177.74,323.34 177.8,323.81 177.85,324.26 177.91,324.7 177.97,325.11 178.02,325.5 178.08,325.88 178.13,326.24 178.19,326.58 178.24,326.91 178.3,327.22 178.35,327.53 178.41,327.81 178.46,328.09 178.52,328.35 178.57,328.6 178.63,328.85 178.68,329.08 178.74,329.3 178.79,329.51 178.85,329.71 178.9,329.9 178.96,330.09 179.01,330.26 179.07,330.43 179.12,330.59 179.18,330.75 179.23,330.9 179.29,331.04 179.34,331.18 179.4,331.31 179.45,331.43 179.51,331.55 179.56,331.66 179.62,331.77 179.67,331.88 179.73,331.98 179.78,332.07 179.84,332.17 179.89,332.25 179.95,332.34 180,332.42 180.06,332.5 180.11,332.57 180.17,332.64 180.22,332.71 180.28,332.78 180.34,332.84 180.39,332.9 180.45,332.96 180.5,333.01 180.56,333.06 180.61,333.12 180.67,333.16 180.72,333.21 180.78,333.26 180.83,333.3 180.89,333.34 180.94,333.38 181,333.42 181.05,333.45 181.11,333.49 181.16,333.52 181.22,333.56 181.27,333.59 181.33,333.62 181.38,333.65 181.44,333.67 181.49,333.7 181.55,333.73 181.6,333.75 181.66,333.78 181.71,333.8 181.77,333.82 181.82,333.84 181.88,333.86 181.93,333.88 181.99,333.9 182.04,333.92 182.1,333.94 182.15,333.95 182.21,333.97 182.26,333.99 182.32,334 182.37,334.02 182.43,334.03 182.48,334.05 182.54,334.06 182.6,334.07 182.65,334.08 182.71,334.1 182.76,334.11 182.82,334.12 182.87,334.13 182.93,334.14 182.98,334.15 183.04,334.16 183.09,334.17 183.15,334.18 183.2,334.19 183.26,334.2 183.31,334.21 183.37,334.22 183.42,334.22 183.48,334.23 183.53,334.24 183.59,334.25 183.64,334.26 183.7,334.26 183.75,334.27 183.81,334.28 183.86,334.28 183.92,334.29 183.97,334.3 184.03,334.3 184.08,334.31 184.14,334.31 184.19,334.32 184.25,334.33 184.3,334.33 184.36,334.34 184.41,334.34 184.47,334.35 184.52,334.35 184.58,334.36 184.63,334.36 184.69,334.37 184.74,334.37 184.8,330.15 184.86,325.65 184.91,321.57 184.97,317.88 185.02,314.53 185.08,311.5 185.13,308.76 185.19,306.27 185.24,304.02 185.3,301.97 185.35,300.12 185.41,298.45 185.46,296.93 185.52,295.55 185.57,294.31 185.63,293.18 185.68,292.15 185.74,291.22 185.79,290.38 185.85,289.61 185.9,288.92 185.96,288.29 186.01,287.72 186.07,287.2 186.12,286.73 186.18,286.31 186.23,285.92 186.29,285.57 186.34,285.25 186.4,284.96 186.45,284.69 186.51,284.45 186.56,284.23 186.62,284.04 186.67,283.85 186.73,283.69 186.78,283.54 186.84,283.4 186.89,283.28 186.95,283.16 187,283.06 187.06,282.96 187.11,282.87 187.17,282.79 187.23,282.72 187.28,282.65 187.34,282.59 187.39,282.54 187.45,282.48 187.5,282.43 187.56,282.39 187.61,282.35 187.67,282.31 187.72,282.28 187.78,282.24 187.83,282.21 187.89,282.18 187.94,282.16 188,282.13 188.05,282.11 188.11,282.09 188.16,282.07 188.22,282.05 188.27,282.03 188.33,282.02 188.38,282 188.44,281.99 188.49,281.97 188.55,281.96 188.6,281.95 188.66,281.93 188.71,281.92 188.77,281.91 188.82,281.9 188.88,281.89 188.93,281.88 188.99,281.87 189.04,281.86 189.1,281.85 189.15,281.84 189.21,281.84 189.26,281.83 189.32,281.82 189.37,281.81 189.43,281.81 189.49,281.8 189.54,281.79 189.6,281.79 189.65,281.78 189.71,281.77 189.76,281.77 189.82,281.76 189.87,281.76 189.93,281.75 189.98,281.75 190.04,281.74 190.09,281.73 190.15,281.73 190.2,281.72 190.26,281.72 190.31,281.71 190.37,281.71 190.42,281.71 190.48,281.7 190.53,281.7 190.59,281.69 190.64,281.69 190.7,281.68 190.75,281.68 190.81,281.68 190.86,281.67 190.92,281.67 190.97,281.66 191.03,281.66 191.08,281.66 191.14,281.65 191.19,281.65 191.25,281.65 191.3,281.64 191.36,281.64 191.41,281.64 191.47,281.63 191.52,281.63 191.58,281.63 191.63,281.62 191.69,281.62 191.75,281.62 191.8,281.61 191.86,281.61 191.91,281.61 191.97,281.61 192.02,281.6 192.08,281.6 192.13,281.6 192.19,281.59 192.24,281.59 192.3,281.59 192.35,281.59 192.41,281.58 192.46,281.58 192.52,281.58 192.57,281.58 192.63,281.58 192.68,281.57 192.74,281.57 192.79,281.57 192.85,281.57 192.9,281.56 192.96,281.56 193.01,281.56 193.07,281.56 193.12,281.56 193.18,281.55 193.23,281.55 193.29,281.55 193.34,281.55 193.4,281.55 193.45,281.55 193.51,281.54 193.56,281.54 193.62,281.54 193.67,281.54 193.73,281.54 193.78,281.54 193.84,281.53 193.89,281.53 193.95,281.53 194,281.53 194.06,281.53 194.12,281.53 194.17,281.52 194.23,281.52 194.28,281.52 194.34,281.52 194.39,281.52 194.45,281.52 194.5,281.52 194.56,281.52 194.61,281.51 194.67,281.51 194.72,281.51 194.78,281.51 194.83,281.51 194.89,281.51 194.94,281.51 195,281.51 195.05,281.5 195.11,281.5 195.16,281.5 195.22,281.5 195.27,281.5 195.33,281.5" fill="none" stroke="#6d7cc1" stroke-width="2" stroke-linejoin="round" stroke-linecap="round"/>
<polyline points="195.77,296.69 195.82,298.33 195.88,299.91 195.93,301.41 195.99,302.84 196.04,304.22 196.1,305.53 196.15,306.78 196.21,307.98 196.26,309.12 196.32,310.22 196.38,311.27 196.43,312.27 196.49,313.22 196.54,314.14 196.6,315.01 196.65,315.85 196.71,316.64 196.76,317.41 196.82,318.14 196.87,318.83 196.93,319.5 196.98,320.14 197.04,320.75 197.09,321.33 197.15,321.89 197.2,322.42 197.26,322.93 197.31,323.42 197.37,323.88 197.42,324.33 197.48,324.75 197.53,325.16 197.59,325.55 197.64,325.92 197.7,326.28 197.75,326.62 197.81,326.94 197.86,327.25 197.92,327.55 197.97,327.84 198.03,328.11 198.08,328.37 198.14,328.62 198.19,328.86 198.25,329.09 198.3,329.31 198.36,329.51 198.41,329.71 198.47,329.9 198.52,330.09 198.58,330.26 198.64,330.43 198.69,330.59 198.75,330.74 198.8,330.89 198.86,331.03 198.91,331.17 198.97,331.3 199.02,331.42 199.08,331.54 199.13,331.65 199.19,331.76 199.24,331.86 199.3,331.96 199.35,332.06 199.41,332.15 199.46,332.24 199.52,332.32 199.57,332.4 199.63,332.48 199.68,332.55 199.74,332.62 199.79,332.69 199.85,332.75 199.9,332.82 199.96,332.87 200.01,332.93 200.07,332.99 200.12,333.04 200.18,333.09 200.23,333.14 200.29,333.19 200.34,333.23 200.4,333.27 200.45,333.31 200.51,333.35 200.56,333.39 200.62,333.43 200.67,333.46 200.73,333.5 200.78,333.53 200.84,333.56 200.89,333.59 200.95,333.62 201.01,333.65 201.06,333.67 201.12,333.7 201.17,333.72 201.23,333.75 201.28,333.77 201.34,333.79 201.39,333.81 201.45,333.83 201.5,333.85 201.56,333.87 201.61,333.89 201.67,333.91 201.72,333.93 201.78,333.94 201.83,333.96 201.89,333.98 201.94,333.99 202,334 202.05,334.02 202.11,334.03 202.16,334.05 202.22,334.06 202.27,334.07 202.33,334.08 202.38,334.09 202.44,334.1 202.49,334.12 202.55,334.13 202.6,334.14 202.66,334.15 202.71,334.16 202.77,334.16 202.82,334.17 202.88,334.18 202.93,334.19 202.99,334.2 203.04,334.21 203.1,334.22 203.15,334.22 203.21,334.23 203.27,334.24 203.32,334.25 203.38,334.25 203.43,334.26 203.49,334.27 203.54,334.27 203.6,334.28 203.65,334.28 203.71,334.29 203.76,334.3 203.82,334.3 203.87,334.31 203.93,334.31 203.98,334.32 204.04,334.32 204.09,334.33 204.15,334.33 204.2,334.34 204.26,334.34 204.31,334.35 204.37,334.35 204.42,334.36 204.48,334.36 204.53,334.37 204.59,334.37 204.64,334.38 204.7,334.38 204.75,326.93 204.81,319.72 204.86,313.18 204.92,307.27 204.97,301.91 205.03,297.07 205.08,292.68 205.14,288.7 205.19,285.1 205.25,281.84 205.3,278.89 205.36,276.21 205.41,273.79 205.47,271.6 205.53,269.61 205.58,267.81 205.64,266.18 205.69,264.71 205.75,263.37 205.8,262.16 205.86,261.06 205.91,260.06 205.97,259.16 206.02,258.34 206.08,257.6 206.13,256.93 206.19,256.32 206.24,255.76 206.3,255.26 206.35,254.81 206.41,254.39 206.46,254.02 206.52,253.68 206.57,253.37 206.63,253.08 206.68,252.83 206.74,252.6 206.79,252.39 206.85,252.19 206.9,252.02 206.96,251.86 207.01,251.71 207.07,251.58 207.12,251.46 207.18,251.35 207.23,251.25 207.29,251.16 207.34,251.07 207.4,251 207.45,250.93 207.51,250.86 207.56,250.8 207.62,250.75 207.67,250.7 207.73,250.65 207.78,250.61 207.84,250.57 207.9,250.53 207.95,250.5 208.01,250.47 208.06,250.44 208.12,250.41 208.17,250.39 208.23,250.36 208.28,250.34 208.34,250.32 208.39,250.3 208.45,250.29 208.5,250.27 208.56,250.25 208.61,250.24 208.67,250.22 208.72,250.21 208.78,250.2 208.83,250.19 208.89,250.18 208.94,250.16 209,250.15 209.05,250.14 209.11,250.13 209.16,250.13 209.22,250.12 209.27,250.11 209.33,250.1 209.38,250.09 209.44,250.08 209.49,250.08 209.55,250.07 209.6,250.06 209.66,250.06 209.71,250.05 209.77,250.04 209.82,250.04 209.88,250.03 209.93,250.03 209.99,250.02 210.04,250.02 210.1,250.01 210.16,250.01 210.21,250 210.27,250 210.32,249.99 210.38,249.99 210.43,249.98 210.49,249.98 210.54,249.97 210.6,249.97 210.65,249.96 210.71,249.96 210.76,249.96 210.82,249.95 210.87,249.95 210.93,249.94 210.98,249.94 211.04,249.94 211.09,249.93 211.15,249.93 211.2,249.93 211.26,249.92 211.31,249.92 211.37,249.92 211.42,249.91 211.48,249.91 211.53,249.91 211.59,249.9 211.64,249.9 211.7,249.9 211.75,249.89 211.81,249.89 211.86,249.89 211.92,249.89 211.97,249.88 212.03,249.88 212.08,249.88 212.14,249.87 212.19,249.87 212.25,249.87 212.3,249.87 212.36,249.86 212.42,249.86 212.47,249.86 212.53,249.86 212.58,249.86 212.64,249.85 212.69,249.85 212.75,249.85 212.8,249.85 212.86,249.84 212.91,249.84 212.97,249.84 213.02,249.84 213.08,249.84 213.13,249.83 213.19,249.83 213.24,249.83 213.3,249.83 213.35,249.83 213.41,249.83 213.46,249.82 213.52,249.82 213.57,249.82 213.63,249.82 213.68,249.82 213.74,249.82 213.79,249.81 213.85,249.81 213.9,249.81 213.96,249.81 214.01,249.81 214.07,249.81 214.12,249.8 214.18,249.8 214.23,249.8 214.29,249.8 214.34,249.8 214.4,249.8 214.45,249.8 214.51,249.8 214.56,249.79 214.62,249.79 214.67,249.79 214.73,249.79 214.79,249.79 214.84,249.79 214.9,249.79 214.95,249.79 215.01,249.78 215.06,249.78 215.12,249.78 215.17,249.78 215.23,249.78 215.28,249.78" fill="none" stroke="#6d7cc1" stroke-width="2" stroke-linejoin="round" stroke-linecap="round"/>
<polyline points="216.33,297.75 216.38,299.35 216.44,300.88 216.49,302.34 216.55,303.74 216.6,305.08 216.66,306.35 216.71,307.57 216.77,308.74 216.82,309.85 216.88,310.92 216.93,311.94 216.99,312.91 217.05,313.84 217.1,314.73 217.16,315.58 217.21,316.4 217.27,317.17 217.32,317.92 217.38,318.63 217.43,319.31 217.49,319.96 217.54,320.58 217.6,321.17 217.65,321.74 217.71,322.28 217.76,322.8 217.82,323.29 217.87,323.77 217.93,324.22 217.98,324.65 218.04,325.07 218.09,325.46 218.15,325.84 218.2,326.2 218.26,326.55 218.31,326.88 218.37,327.2 218.42,327.5 218.48,327.79 218.53,328.07 218.59,328.33 218.64,328.59 218.7,328.83 218.75,329.06 218.81,329.28 218.86,329.5 218.92,329.7 218.97,329.89 219.03,330.08 219.08,330.26 219.14,330.43 219.19,330.59 219.25,330.75 219.31,330.9 219.36,331.04 219.42,331.18 219.47,331.31 219.53,331.43 219.58,331.55 219.64,331.67 219.69,331.78 219.75,331.88 219.8,331.98 219.86,332.08 219.91,332.17 219.97,332.26 220.02,332.34 220.08,332.43 220.13,332.5 220.19,332.58 220.24,332.65 220.3,332.72 220.35,332.78 220.41,332.85 220.46,332.91 220.52,332.96 220.57,333.02 220.63,333.07 220.68,333.12 220.74,333.17 220.79,333.22 220.85,333.27 220.9,333.31 220.96,333.35 221.01,333.39 221.07,333.43 221.12,333.47 221.18,333.5 221.23,333.53 221.29,333.57 221.34,333.6 221.4,333.63 221.45,333.66 221.51,333.69 221.56,333.71 221.62,333.74 221.68,333.76 221.73,333.79 221.79,333.81 221.84,333.83 221.9,333.85 221.95,333.87 222.01,333.89 222.06,333.91 222.12,333.93 222.17,333.95 222.23,333.97 222.28,333.98 222.34,334 222.39,334.01 222.45,334.03 222.5,334.04 222.56,334.06 222.61,334.07 222.67,334.08 222.72,334.1 222.78,334.11 222.83,334.12 222.89,334.13 222.94,334.14 223,334.15 223.05,334.16 223.11,334.17 223.16,334.18 223.22,334.19 223.27,334.2 223.33,334.21 223.38,334.22 223.44,334.23 223.49,334.24 223.55,334.24 223.6,334.25 223.66,334.26 223.71,334.27 223.77,334.27 223.82,334.28 223.88,334.29 223.94,334.29 223.99,334.3 224.05,334.31 224.1,334.31 224.16,334.32 224.21,334.32 224.27,334.33 224.32,334.34 224.38,334.34 224.43,334.35 224.49,334.35 224.54,334.36 224.6,334.36 224.65,334.39 224.71,326.94 224.76,320.19 224.82,314.07 224.87,308.54 224.93,303.53 224.98,298.99 225.04,294.88 225.09,291.16 225.15,287.79 225.2,284.74 225.26,281.97 225.31,279.47 225.37,277.2 225.42,275.15 225.48,273.29 225.53,271.6 225.59,270.08 225.64,268.69 225.7,267.44 225.75,266.31 225.81,265.28 225.86,264.34 225.92,263.5 225.97,262.73 226.03,262.04 226.08,261.4 226.14,260.83 226.2,260.31 226.25,259.84 226.31,259.42 226.36,259.03 226.42,258.68 226.47,258.36 226.53,258.07 226.58,257.8 226.64,257.56 226.69,257.34 226.75,257.14 226.8,256.96 226.86,256.8 226.91,256.65 226.97,256.51 227.02,256.39 227.08,256.27 227.13,256.17 227.19,256.07 227.24,255.99 227.3,255.91 227.35,255.84 227.41,255.77 227.46,255.71 227.52,255.65 227.57,255.6 227.63,255.55 227.68,255.51 227.74,255.47 227.79,255.43 227.85,255.4 227.9,255.36 227.96,255.33 228.01,255.31 228.07,255.28 228.12,255.26 228.18,255.24 228.23,255.21 228.29,255.19 228.34,255.18 228.4,255.16 228.45,255.14 228.51,255.13 228.57,255.11 228.62,255.1 228.68,255.09 228.73,255.07 228.79,255.06 228.84,255.05 228.9,255.04 228.95,255.03 229.01,255.02 229.06,255.01 229.12,255 229.17,254.99 229.23,254.99 229.28,254.98 229.34,254.97 229.39,254.96 229.45,254.96 229.5,254.95 229.56,254.94 229.61,254.94 229.67,254.93 229.72,254.92 229.78,254.92 229.83,254.91 229.89,254.91 229.94,254.9 230,254.9 230.05,254.89 230.11,254.89 230.16,254.88 230.22,254.88 230.27,254.87 230.33,254.87 230.38,254.86 230.44,254.86 230.49,254.85 230.55,254.85 230.6,254.84 230.66,254.84 230.71,254.84 230.77,254.83 230.83,254.83 230.88,254.82 230.94,254.82 230.99,254.82 231.05,254.81 231.1,254.81 231.16,254.81 231.21,254.8 231.27,254.8 231.32,254.8 231.38,254.79 231.43,254.79 231.49,254.79 231.54,254.78 231.6,254.78 231.65,254.78 231.71,254.77 231.76,254.77 231.82,254.77 231.87,254.77 231.93,254.76 231.98,254.76 232.04,254.76 232.09,254.75 232.15,254.75 232.2,254.75 232.26,254.75 232.31,254.74 232.37,254.74 232.42,254.74 232.48,254.74 232.53,254.74 232.59,254.73 232.64,254.73 232.7,254.73 232.75,254.73 232.81,254.72 232.86,254.72 232.92,254.72 232.97,254.72 233.03,254.72 233.09,254.71 233.14,254.71 233.2,254.71 233.25,254.71 233.31,254.71 233.36,254.71 233.42,254.7 233.47,254.7 233.53,254.7 233.58,254.7 233.64,254.7 233.69,254.7 233.75,254.69 233.8,254.69 233.86,254.69 233.91,254.69 233.97,254.69 234.02,254.69 234.08,254.68 234.13,254.68 234.19,254.68 234.24,254.68 234.3,254.68 234.35,254.68 234.41,254.68 234.46,254.68 234.52,254.67 234.57,254.67 234.63,254.67 234.68,254.67 234.74,254.67 234.79,254.67 234.85,254.67 234.9,254.67 234.96,254.66 235.01,254.66 235.07,254.66 235.12,254.66 235.18,254.66 235.23,254.66" fill="none" stroke="#6d7cc1" stroke-width="2" stroke-linejoin="round" stroke-linecap="round"/>
<polyline points="236.17,296.71 236.23,298.36 236.28,299.93 236.34,301.44 236.39,302.87 236.45,304.25 236.5,305.56 236.56,306.82 236.61,308.02 236.67,309.16 236.72,310.26 236.78,311.31 236.83,312.31 236.89,313.27 236.94,314.18 237,315.05 237.05,315.89 237.11,316.69 237.16,317.45 237.22,318.18 237.27,318.88 237.33,319.55 237.38,320.19 237.44,320.8 237.49,321.38 237.55,321.94 237.6,322.47 237.66,322.98 237.72,323.47 237.77,323.93 237.83,324.38 237.88,324.81 237.94,325.21 237.99,325.6 238.05,325.97 238.1,326.33 238.16,326.67 238.21,327 238.27,327.31 238.32,327.61 238.38,327.89 238.43,328.16 238.49,328.42 238.54,328.67 238.6,328.91 238.65,329.14 238.71,329.36 238.76,329.57 238.82,329.77 238.87,329.96 238.93,330.14 238.98,330.32 239.04,330.48 239.09,330.64 239.15,330.8 239.2,330.94 239.26,331.08 239.31,331.22 239.37,331.35 239.42,331.47 239.48,331.59 239.53,331.7 239.59,331.81 239.64,331.91 239.7,332.01 239.75,332.11 239.81,332.2 239.86,332.28 239.92,332.37 239.98,332.45 240.03,332.53 240.09,332.6 240.14,332.67 240.2,332.74 240.25,332.8 240.31,332.86 240.36,332.92 240.42,332.98 240.47,333.03 240.53,333.09 240.58,333.14 240.64,333.19 240.69,333.23 240.75,333.28 240.8,333.32 240.86,333.36 240.91,333.4 240.97,333.44 241.02,333.47 241.08,333.51 241.13,333.54 241.19,333.57 241.24,333.6 241.3,333.63 241.35,333.66 241.41,333.69 241.46,333.72 241.52,333.74 241.57,333.77 241.63,333.79 241.68,333.81 241.74,333.83 241.79,333.86 241.85,333.88 241.9,333.9 241.96,333.91 242.01,333.93 242.07,333.95 242.12,333.97 242.18,333.98 242.23,334 242.29,334.01 242.35,334.03 242.4,334.04 242.46,334.06 242.51,334.07 242.57,334.08 242.62,334.1 242.68,334.11 242.73,334.12 242.79,334.13 242.84,334.14 242.9,334.15 242.95,334.16 243.01,334.17 243.06,334.18 243.12,334.19 243.17,334.2 243.23,334.21 243.28,334.22 243.34,334.23 243.39,334.23 243.45,334.24 243.5,334.25 243.56,334.26 243.61,334.26 243.67,334.27 243.72,334.28 243.78,334.28 243.83,334.29 243.89,334.3 243.94,334.3 244,334.31 244.05,334.32 244.11,334.32 244.16,334.33 244.22,334.33 244.27,334.34 244.33,334.34 244.38,334.35 244.44,334.35 244.49,334.36 244.55,334.36 244.61,334.22 244.66,330.03 244.72,326.24 244.77,322.8 244.83,319.68 244.88,316.86 244.94,314.31 244.99,311.99 245.05,309.89 245.1,307.99 245.16,306.27 245.21,304.7 245.27,303.29 245.32,302.01 245.38,300.84 245.43,299.79 245.49,298.83 245.54,297.96 245.6,297.18 245.65,296.46 245.71,295.82 245.76,295.23 245.82,294.7 245.87,294.21 245.93,293.77 245.98,293.38 246.04,293.01 246.09,292.68 246.15,292.39 246.2,292.11 246.26,291.87 246.31,291.64 246.37,291.44 246.42,291.25 246.48,291.08 246.53,290.92 246.59,290.78 246.64,290.65 246.7,290.54 246.75,290.43 246.81,290.33 246.87,290.24 246.92,290.16 246.98,290.08 247.03,290.01 247.09,289.95 247.14,289.89 247.2,289.84 247.25,289.79 247.31,289.74 247.36,289.7 247.42,289.66 247.47,289.62 247.53,289.59 247.58,289.56 247.64,289.53 247.69,289.5 247.75,289.48 247.8,289.45 247.86,289.43 247.91,289.41 247.97,289.39 248.02,289.37 248.08,289.35 248.13,289.34 248.19,289.32 248.24,289.31 248.3,289.29 248.35,289.28 248.41,289.27 248.46,289.26 248.52,289.24 248.57,289.23 248.63,289.22 248.68,289.21 248.74,289.2 248.79,289.19 248.85,289.19 248.9,289.18 248.96,289.17 249.01,289.16 249.07,289.15 249.12,289.15 249.18,289.14 249.24,289.13 249.29,289.12 249.35,289.12 249.4,289.11 249.46,289.1 249.51,289.1 249.57,289.09 249.62,289.09 249.68,289.08 249.73,289.07 249.79,289.07 249.84,289.06 249.9,289.06 249.95,289.05 250.01,289.05 250.06,289.04 250.12,289.04 250.17,289.03 250.23,289.03 250.28,289.02 250.34,289.02 250.39,289.02 250.45,289.01 250.5,289.01 250.56,289 250.61,289 250.67,288.99 250.72,288.99 250.78,288.99 250.83,288.98 250.89,288.98 250.94,288.98 251,288.97 251.05,288.97 251.11,288.96 251.16,288.96 251.22,288.96 251.27,288.95 251.33,288.95 251.38,288.95 251.44,288.95 251.5,288.94 251.55,288.94 251.61,288.94 251.66,288.93 251.72,288.93 251.77,288.93 251.83,288.92 251.88,288.92 251.94,288.92 251.99,288.92 252.05,288.91 252.1,288.91 252.16,288.91 252.21,288.91 252.27,288.9 252.32,288.9 252.38,288.9 252.43,288.9 252.49,288.89 252.54,288.89 252.6,288.89 252.65,288.89 252.71,288.89 252.76,288.88 252.82,288.88 252.87,288.88 252.93,288.88 252.98,288.88 253.04,288.87 253.09,288.87 253.15,288.87 253.2,288.87 253.26,288.87 253.31,288.87 253.37,288.86 253.42,288.86 253.48,288.86 253.53,288.86 253.59,288.86 253.64,288.86 253.7,288.85 253.76,288.85 253.81,288.85 253.87,288.85 253.92,288.85 253.98,288.85 254.03,288.84 254.09,288.84 254.14,288.84 254.2,288.84 254.25,288.84 254.31,288.84 254.36,288.84 254.42,288.84 254.47,288.83 254.53,288.83 254.58,288.83 254.64,288.83 254.69,288.83 254.75,288.83 254.8,288.83 254.86,288.83 254.91,288.82 254.97,288.82 255.02,288.82 255.08,288.82 255.13,288.82 255.19,288.82" fill="none" stroke="#6d7cc1" stroke-width="2" stroke-linejoin="round" stroke-linecap="round"/>
<polyline points="255.46,297.53 255.52,299.14 255.57,300.68 255.63,302.14 255.68,303.54 255.74,304.88 255.79,306.17 255.85,307.39 255.9,308.56 255.96,309.68 256.01,310.75 256.07,311.77 256.13,312.75 256.18,313.68 256.24,314.57 256.29,315.43 256.35,316.24 256.4,317.02 256.46,317.77 256.51,318.48 256.57,319.16 256.62,319.81 256.68,320.44 256.73,321.03 256.79,321.6 256.84,322.14 256.9,322.67 256.95,323.16 257.01,323.64 257.06,324.09 257.12,324.53 257.17,324.94 257.23,325.34 257.28,325.72 257.34,326.09 257.39,326.43 257.45,326.77 257.5,327.08 257.56,327.39 257.61,327.68 257.67,327.96 257.72,328.23 257.78,328.48 257.83,328.72 257.89,328.96 257.94,329.18 258,329.39 258.05,329.6 258.11,329.79 258.16,329.98 258.22,330.16 258.27,330.33 258.33,330.49 258.39,330.65 258.44,330.8 258.5,330.94 258.55,331.08 258.61,331.21 258.66,331.34 258.72,331.46 258.77,331.58 258.83,331.69 258.88,331.79 258.94,331.89 258.99,331.99 259.05,332.08 259.1,332.17 259.16,332.26 259.21,332.34 259.27,332.42 259.32,332.5 259.38,332.57 259.43,332.64 259.49,332.7 259.54,332.77 259.6,332.83 259.65,332.89 259.71,332.94 259.76,333 259.82,333.05 259.87,333.1 259.93,333.15 259.98,333.19 260.04,333.23 260.09,333.28 260.15,333.32 260.2,333.36 260.26,333.39 260.31,333.43 260.37,333.46 260.42,333.5 260.48,333.53 260.53,333.56 260.59,333.59 260.65,333.62 260.7,333.64 260.76,333.67 260.81,333.7 260.87,333.72 260.92,333.74 260.98,333.77 261.03,333.79 261.09,333.81 261.14,333.83 261.2,333.85 261.25,333.87 261.31,333.89 261.36,333.9 261.42,333.92 261.47,333.94 261.53,333.95 261.58,333.97 261.64,333.98 261.69,334 261.75,334.01 261.8,334.02 261.86,334.04 261.91,334.05 261.97,334.06 262.02,334.07 262.08,334.09 262.13,334.1 262.19,334.11 262.24,334.12 262.3,334.13 262.35,334.14 262.41,334.15 262.46,334.16 262.52,334.17 262.57,334.17 262.63,334.18 262.68,334.19 262.74,334.2 262.79,334.21 262.85,334.21 262.9,334.22 262.96,334.23 263.02,334.24 263.07,334.24 263.13,334.25 263.18,334.26 263.24,334.26 263.29,334.27 263.35,334.28 263.4,334.28 263.46,334.29 263.51,334.29 263.57,334.3 263.62,334.3 263.68,334.31 263.73,334.32 263.79,334.32 263.84,334.33 263.9,334.33 263.95,334.34 264.01,334.34 264.06,334.34 264.12,334.35 264.17,334.35 264.23,334.36 264.28,334.36 264.34,334.37 264.39,334.37 264.45,334.38 264.5,334.38 264.56,333.7 264.61,328.05 264.67,322.94 264.72,318.3 264.78,314.11 264.83,310.31 264.89,306.86 264.94,303.75 265,300.92 265.05,298.37 265.11,296.05 265.16,293.95 265.22,292.05 265.28,290.32 265.33,288.76 265.39,287.35 265.44,286.07 265.5,284.91 265.55,283.85 265.61,282.9 265.66,282.03 265.72,281.25 265.77,280.54 265.83,279.89 265.88,279.31 265.94,278.77 265.99,278.29 266.05,277.85 266.1,277.46 266.16,277.1 266.21,276.77 266.27,276.47 266.32,276.2 266.38,275.95 266.43,275.73 266.49,275.53 266.54,275.34 266.6,275.17 266.65,275.02 266.71,274.88 266.76,274.75 266.82,274.63 266.87,274.53 266.93,274.43 266.98,274.34 267.04,274.26 267.09,274.18 267.15,274.11 267.2,274.05 267.26,273.99 267.31,273.94 267.37,273.89 267.42,273.85 267.48,273.8 267.54,273.77 267.59,273.73 267.65,273.7 267.7,273.67 267.76,273.64 267.81,273.61 267.87,273.59 267.92,273.56 267.98,273.54 268.03,273.52 268.09,273.5 268.14,273.48 268.2,273.47 268.25,273.45 268.31,273.44 268.36,273.42 268.42,273.41 268.47,273.4 268.53,273.38 268.58,273.37 268.64,273.36 268.69,273.35 268.75,273.34 268.8,273.33 268.86,273.32 268.91,273.31 268.97,273.31 269.02,273.3 269.08,273.29 269.13,273.28 269.19,273.27 269.24,273.27 269.3,273.26 269.35,273.25 269.41,273.25 269.46,273.24 269.52,273.23 269.57,273.23 269.63,273.22 269.68,273.22 269.74,273.21 269.79,273.2 269.85,273.2 269.91,273.19 269.96,273.19 270.02,273.18 270.07,273.18 270.13,273.17 270.18,273.17 270.24,273.16 270.29,273.16 270.35,273.16 270.4,273.15 270.46,273.15 270.51,273.14 270.57,273.14 270.62,273.13 270.68,273.13 270.73,273.13 270.79,273.12 270.84,273.12 270.9,273.12 270.95,273.11 271.01,273.11 271.06,273.1 271.12,273.1 271.17,273.1 271.23,273.09 271.28,273.09 271.34,273.09 271.39,273.09 271.45,273.08 271.5,273.08 271.56,273.08 271.61,273.07 271.67,273.07 271.72,273.07 271.78,273.06 271.83,273.06 271.89,273.06 271.94,273.06 272,273.05 272.05,273.05 272.11,273.05 272.17,273.05 272.22,273.04 272.28,273.04 272.33,273.04 272.39,273.04 272.44,273.03 272.5,273.03 272.55,273.03 272.61,273.03 272.66,273.03 272.72,273.02 272.77,273.02 272.83,273.02 272.88,273.02 272.94,273.02 272.99,273.01 273.05,273.01 273.1,273.01 273.16,273.01 273.21,273.01 273.27,273 273.32,273 273.38,273 273.43,273 273.49,273 273.54,273 273.6,272.99 273.65,272.99 273.71,272.99 273.76,272.99 273.82,272.99 273.87,272.99 273.93,272.99 273.98,272.98 274.04,272.98 274.09,272.98 274.15,272.98 274.2,272.98 274.26,272.98 274.31,272.98 274.37,272.98 274.43,272.97 274.48,272.97 274.54,272.97 274.59,272.97 274.65,272.97 274.7,272.97 274.76,272.97 274.81,272.97 274.87,272.96 274.92,272.96 274.98,272.96 275.03,272.96 275.09,272.96 275.14,272.96" fill="none" stroke="#6d7cc1" stroke-width="2" stroke-linejoin="round" stroke-linecap="round"/>
<polyline points="275.75,296.56 275.8,298.21 275.86,299.79 275.91,301.29 275.97,302.74 276.02,304.11 276.08,305.43 276.13,306.69 276.19,307.89 276.24,309.04 276.3,310.15 276.35,311.2 276.41,312.21 276.46,313.17 276.52,314.09 276.57,314.97 276.63,315.82 276.68,316.62 276.74,317.39 276.8,318.13 276.85,318.83 276.91,319.51 276.96,320.15 277.02,320.77 277.07,321.36 277.13,321.92 277.18,322.46 277.24,322.98 277.29,323.47 277.35,323.94 277.4,324.4 277.46,324.83 277.51,325.24 277.57,325.64 277.62,326.02 277.68,326.38 277.73,326.73 277.79,327.06 277.84,327.38 277.9,327.68 277.95,327.97 278.01,328.25 278.06,328.52 278.12,328.77 278.17,329.02 278.23,329.25 278.28,329.47 278.34,329.69 278.39,329.89 278.45,330.09 278.5,330.28 278.56,330.46 278.61,330.63 278.67,330.8 278.72,330.96 278.78,331.11 278.83,331.26 278.89,331.4 278.94,331.53 279,331.66 279.06,331.79 279.11,331.9 279.17,332.02 279.22,332.13 279.28,332.23 279.33,332.33 279.39,332.43 279.44,332.52 279.5,332.61 279.55,332.7 279.61,332.78 279.66,332.86 279.72,332.93 279.77,333.01 279.83,333.08 279.88,333.14 279.94,333.21 279.99,333.27 280.05,333.33 280.1,333.39 280.16,333.44 280.21,333.5 280.27,333.55 280.32,333.6 280.38,333.65 280.43,333.69 280.49,333.74 280.54,333.78 280.6,333.82 280.65,333.86 280.71,333.9 280.76,333.94 280.82,333.98 280.87,334.01 280.93,334.04 280.98,334.08 281.04,334.11 281.09,334.14 281.15,334.17 281.2,334.2 281.26,334.23 281.32,334.25 281.37,334.28 281.43,334.3 281.48,334.33 281.54,334.35 281.59,334.38 281.65,334.4 281.7,334.42 281.76,334.44 281.81,334.46 281.87,334.48 281.92,334.5 281.98,334.52 282.03,334.54 282.09,334.56 282.14,334.58 282.2,334.6 282.25,334.61 282.31,334.63 282.36,334.65 282.42,334.66 282.47,334.68 282.53,334.69 282.58,334.71 282.64,334.72 282.69,334.74 282.75,334.75 282.8,334.77 282.86,334.78 282.91,334.79 282.97,334.81 283.02,334.82 283.08,334.83 283.13,334.84 283.19,334.86 283.24,334.87 283.3,334.88 283.35,334.89 283.41,334.9 283.46,334.92 283.52,334.93 283.57,334.94 283.63,334.95 283.69,334.96 283.74,334.97 283.8,334.98 283.85,334.99 283.91,335 283.96,335.01 284.02,335.02 284.07,335.03 284.13,335.04 284.18,335.05 284.24,335.06 284.29,335.07 284.35,335.08 284.4,335.09 284.46,335.1 284.51,335.11 284.57,335.12 284.62,335.13 284.68,335.14 284.73,335.15 284.79,335.15 284.84,335.16 284.9,335.17 284.95,335.18 285.01,335.19 285.06,335.2 285.12,335.21 285.17,335.22 285.23,335.22 285.28,335.23 285.34,335.24 285.39,335.25 285.45,335.26 285.5,335.27 285.56,335.27 285.61,335.28 285.67,335.29 285.72,335.3 285.78,335.31 285.83,335.31 285.89,335.32 285.95,335.33 286,335.34 286.06,335.35 286.11,335.35 286.17,335.36 286.22,335.37 286.28,335.38 286.33,335.38 286.39,335.39 286.44,335.4 286.5,335.41 286.55,335.41 286.61,335.42 286.66,335.43 286.72,335.44 286.77,335.44 286.83,335.45 286.88,335.46 286.94,335.47 286.99,335.47 287.05,335.48 287.1,335.49 287.16,335.5 287.21,335.5 287.27,335.51 287.32,335.52 287.38,335.53 287.43,335.53 287.49,335.54 287.54,335.55 287.6,335.55 287.65,335.56 287.71,335.57 287.76,335.58 287.82,335.58 287.87,335.59 287.93,335.6 287.98,335.6 288.04,335.61 288.09,335.62 288.15,335.62 288.21,335.63 288.26,335.64 288.32,335.65 288.37,335.65 288.43,335.66 288.48,335.67 288.54,335.67 288.59,335.68 288.65,335.69 288.7,335.69 288.76,335.7 288.81,335.71 288.87,335.71 288.92,335.72 288.98,335.73 289.03,335.73 289.09,335.74 289.14,335.75 289.2,335.75 289.25,335.76 289.31,335.77 289.36,335.77 289.42,335.78 289.47,335.79 289.53,335.79 289.58,335.8 289.64,335.81 289.69,335.81 289.75,335.82 289.8,335.83 289.86,335.83 289.91,335.84 289.97,335.85 290.02,335.85 290.08,335.86 290.13,335.87 290.19,335.87 290.24,335.88 290.3,335.89 290.35,335.89 290.41,335.9 290.46,335.91 290.52,335.91 290.58,335.92 290.63,335.92 290.69,335.93 290.74,335.94 290.8,335.94 290.85,335.95 290.91,335.96 290.96,335.96 291.02,335.97 291.07,335.98 291.13,335.98 291.18,335.99 291.24,335.99 291.29,336 291.35,336.01 291.4,336.01 291.46,336.02 291.51,336.03 291.57,336.03 291.62,336.04 291.68,336.04 291.73,336.05 291.79,336.06 291.84,336.06 291.9,336.07 291.95,336.07 292.01,336.08 292.06,336.09 292.12,336.09 292.17,336.1 292.23,336.11 292.28,336.11 292.34,336.12 292.39,336.12 292.45,336.13 292.5,336.14 292.56,336.14 292.61,336.15 292.67,336.15 292.72,336.16 292.78,336.17" fill="none" stroke="#6d7cc1" stroke-width="2" stroke-linejoin="round" stroke-linecap="round"/>
<text x="300" y="210.56" font-size="16.5" font-weight="bold" fill="#2a1a16">e</text>
<rect x="337.3" y="200.6" width="75.4" height="62.8" fill="#ffffff" stroke="#9a9a9a" stroke-width="0.6"/>
<text x="335.6" y="265.07" font-size="4.7" text-anchor="end" fill="#333">1925</text>
<line x1="337.3" y1="263.4" x2="338.5" y2="263.4" stroke="#666" stroke-width="0.4"/>
<text x="335.6" y="257.31" font-size="4.7" text-anchor="end" fill="#333">1930</text>
<line x1="337.3" y1="255.64" x2="338.5" y2="255.64" stroke="#666" stroke-width="0.4"/>
<text x="335.6" y="249.54" font-size="4.7" text-anchor="end" fill="#333">1935</text>
<line x1="337.3" y1="247.87" x2="338.5" y2="247.87" stroke="#666" stroke-width="0.4"/>
<text x="335.6" y="241.78" font-size="4.7" text-anchor="end" fill="#333">1940</text>
<line x1="337.3" y1="240.11" x2="338.5" y2="240.11" stroke="#666" stroke-width="0.4"/>
<text x="335.6" y="234.02" font-size="4.7" text-anchor="end" fill="#333">1945</text>
<line x1="337.3" y1="232.35" x2="338.5" y2="232.35" stroke="#666" stroke-width="0.4"/>
<text x="335.6" y="226.26" font-size="4.7" text-anchor="end" fill="#333">1950</text>
<line x1="337.3" y1="224.59" x2="338.5" y2="224.59" stroke="#666" stroke-width="0.4"/>
<text x="335.6" y="218.49" font-size="4.7" text-anchor="end" fill="#333">1955</text>
<line x1="337.3" y1="216.82" x2="338.5" y2="216.82" stroke="#666" stroke-width="0.4"/>
<text x="335.6" y="210.73" font-size="4.7" text-anchor="end" fill="#333">1960</text>
<line x1="337.3" y1="209.06" x2="338.5" y2="209.06" stroke="#666" stroke-width="0.4"/>
<text x="335.6" y="202.97" font-size="4.7" text-anchor="end" fill="#333">1965</text>
<line x1="337.3" y1="201.3" x2="338.5" y2="201.3" stroke="#666" stroke-width="0.4"/>
<text x="338.2" y="269.94" font-size="4.9" text-anchor="middle" fill="#333">0</text>
<text x="352.92" y="269.94" font-size="4.9" text-anchor="middle" fill="#333">5</text>
<text x="367.64" y="269.94" font-size="4.9" text-anchor="middle" fill="#333">10</text>
<text x="382.36" y="269.94" font-size="4.9" text-anchor="middle" fill="#333">15</text>
<text x="397.08" y="269.94" font-size="4.9" text-anchor="middle" fill="#333">20</text>
<text x="411.8" y="269.94" font-size="4.9" text-anchor="middle" fill="#333">25</text>
<text x="374.7" y="276.07" font-size="5" font-weight="bold" text-anchor="middle" fill="#333">Time (s)</text>
<text x="320.8" y="236.47" font-size="5" font-weight="bold" text-anchor="middle" fill="#333" transform="rotate(-90 320.8 234.7)">Resistance(Ω)</text>
<polyline points="338.2,260.61 338.49,260.61 338.79,260.61 339.08,260.61 339.38,260.61 339.67,260.61 339.97,260.61 340.26,260.61 340.56,260.61 340.85,260.61 341.14,260.61 341.44,260.61 341.73,260.61 342.03,260.61 342.32,260.61 342.62,260.61 342.91,260.61 343.2,260.61 343.5,260.61 343.79,260.61 344.09,260.61 344.38,260.61 344.68,260.61 344.97,260.61 345.27,260.61 345.56,260.61 345.85,260.61 346.15,260.61 346.44,260.61 346.74,260.61 347.03,260.61 347.33,260.61 347.62,260.61 347.92,260.61 348.21,260.61 348.5,258.83 348.8,256.75 349.09,254.6 349.39,252.43 349.68,250.29 349.98,248.18 350.27,246.13 350.56,244.14 350.86,242.22 351.15,240.37 351.45,238.59 351.74,236.89 352.04,235.26 352.33,233.7 352.63,232.21 352.92,230.79 353.21,229.44 353.51,228.16 353.8,226.94 354.1,225.79 354.39,224.7 354.69,223.66 354.98,222.68 355.28,221.75 355.57,220.87 355.86,220.04 356.16,219.26 356.45,218.52 356.75,217.83 357.04,217.17 357.34,216.55 357.63,215.97 357.92,215.43 358.22,214.91 358.51,214.43 358.81,213.97 359.1,213.54 359.4,213.14 359.69,212.77 359.99,212.41 360.28,212.08 360.57,211.77 360.87,211.48 361.16,211.21 361.46,210.95 361.75,210.71 362.05,210.49 362.34,210.28 362.64,210.08 362.93,209.9 363.22,209.72 363.52,209.56 363.81,209.41 364.11,209.27 364.4,209.14 364.7,209.02 364.99,208.9 365.28,208.8 365.58,208.7 365.87,208.6 366.17,208.52 366.46,208.44 366.76,208.36 367.05,208.29 367.35,208.22 367.64,208.16 367.93,208.11 368.23,208.05 368.52,208 368.82,207.96 369.11,207.92 369.41,207.88 369.7,207.84 370,207.8 370.29,207.77 370.58,207.74 370.88,207.71 371.17,207.69 371.47,207.66 371.76,207.64 372.06,207.62 372.35,207.6 372.64,207.58 372.94,207.57 373.23,207.55 373.53,207.54 373.82,207.52 374.12,207.51 374.41,207.5 374.71,207.49 375,207.48 375.29,207.47 375.59,207.46 375.88,207.45 376.18,207.45 376.47,207.44 376.77,207.43 377.06,207.43 377.36,207.42 377.65,207.42 377.94,207.41 378.24,207.41 378.53,207.4 378.83,207.4 379.12,207.4 379.42,207.39 379.71,207.39 380,207.39 380.3,207.39 380.59,207.38 380.89,207.38 381.18,207.38 381.48,207.38 381.77,207.38 382.07,207.37 382.36,207.37 382.65,207.37 382.95,207.37 383.24,207.37 383.54,207.37 383.83,207.37 384.13,207.37 384.42,207.36 384.72,207.36 385.01,207.36 385.3,207.36 385.6,207.36 385.89,207.36 386.19,207.36 386.48,207.36 386.78,207.36 387.07,207.36 387.36,207.36 387.66,207.36 387.95,207.36 388.25,207.36 388.54,207.36 388.84,207.36 389.13,207.36 389.43,207.36 389.72,207.36 390.01,207.36 390.31,207.36 390.6,207.36 390.9,207.36 391.19,207.36 391.49,207.36 391.78,207.36 392.08,207.36 392.37,207.36 392.66,207.36 392.96,207.36 393.25,207.36 393.55,207.36 393.84,207.36 394.14,207.36 394.43,207.36 394.72,207.36 395.02,207.36 395.31,207.36 395.61,207.36 395.9,207.36 396.2,207.36 396.49,207.36 396.79,207.36 397.08,207.36 397.37,207.36 397.67,207.36 397.96,207.35 398.26,207.35 398.55,207.35 398.85,207.35 399.14,207.35 399.44,207.35 399.73,207.35 400.02,207.35 400.32,207.35 400.61,207.35 400.91,207.35 401.2,207.35 401.5,207.35 401.79,207.35 402.08,207.35 402.38,207.35 402.67,207.35 402.97,207.35 403.26,207.35 403.56,207.35 403.85,207.35 404.15,207.35 404.44,207.35 404.73,207.35 405.03,207.35 405.32,207.35 405.62,207.35 405.91,207.35 406.21,207.35 406.5,207.35 406.8,207.35 407.09,207.35 407.38,207.35 407.68,207.35 407.97,207.35 408.27,207.35 408.56,207.35 408.86,207.35 409.15,207.35 409.44,207.35 409.74,207.35 410.03,207.35 410.33,207.35 410.62,207.35 410.92,207.35 411.21,207.35 411.51,207.35 411.8,207.35" fill="none" stroke="#4a6fc8" stroke-width="0.8"/>
<rect x="346.1" y="252.4" width="3.6" height="9.7" fill="none" stroke="#555" stroke-width="0.45"/>
<line x1="349.7" y1="252.4" x2="358.5" y2="215.2" stroke="#444" stroke-width="0.45"/>
<line x1="349.7" y1="262.1" x2="358.5" y2="260.3" stroke="#444" stroke-width="0.45"/>
<line x1="347.2" y1="261.5" x2="348.6" y2="254.5" stroke="#c0304a" stroke-width="1"/>
<rect x="358.5" y="215.2" width="51.8" height="45.1" fill="#ffffff" stroke="#444" stroke-width="0.45" stroke-dasharray="1,0.8"/>
<rect x="364" y="216.5" width="45" height="36.5" fill="#ffffff" stroke="#777" stroke-width="0.45"/>
<polyline points="364,245.7 375,245.6 382.6,246.2" fill="none" stroke="#4a6fc8" stroke-width="0.6"/>
<polyline points="382.6,246.2 385,243 387.5,238.5 389.5,234 390.5,229 392.5,226 395.5,222.5" fill="none" stroke="#c0304a" stroke-width="1"/>
<polyline points="395.5,222.5 398.5,216.5" fill="none" stroke="#4a6fc8" stroke-width="0.6"/>
<line x1="396.2" y1="222" x2="396.2" y2="249.4" stroke="#d05a6a" stroke-width="0.35"/>
<line x1="383" y1="249.2" x2="396" y2="249.2" stroke="#c0304a" stroke-width="0.5"/>
<text x="389.5" y="248.78" font-size="2.2" text-anchor="middle" fill="#c0304a">xxx s</text>
<text x="366.5" y="256.28" font-size="2.2" text-anchor="middle" fill="#555">1.0</text>
<text x="375.1" y="256.28" font-size="2.2" text-anchor="middle" fill="#555">2.0</text>
<text x="383.7" y="256.28" font-size="2.2" text-anchor="middle" fill="#555">3.0</text>
<text x="392.3" y="256.28" font-size="2.2" text-anchor="middle" fill="#555">4.0</text>
<text x="400.9" y="256.28" font-size="2.2" text-anchor="middle" fill="#555">5.0</text>
<text x="409.5" y="256.28" font-size="2.2" text-anchor="middle" fill="#555">6.0</text>
<text x="363" y="219.78" font-size="2.2" text-anchor="end" fill="#555">1930</text>
<text x="363" y="227.08" font-size="2.2" text-anchor="end" fill="#555">1930</text>
<text x="363" y="234.38" font-size="2.2" text-anchor="end" fill="#555">1930</text>
<text x="363" y="241.68" font-size="2.2" text-anchor="end" fill="#555">1930</text>
<text x="363" y="248.98" font-size="2.2" text-anchor="end" fill="#555">1930</text>
<rect x="424.1" y="199.9" width="53.2" height="16.4" fill="#e2a6af" rx="2.2"/>
<text x="450.7" y="209.95" font-size="5.2" font-weight="bold" text-anchor="middle" fill="#3a2a2a" textLength="38" lengthAdjust="spacingAndGlyphs">Signals extraction</text>
<rect x="424.1" y="221.5" width="53.2" height="16.5" fill="#eec4a2" rx="2.2"/>
<text x="450.7" y="229.18" font-size="5" font-weight="bold" text-anchor="middle" fill="#3a2a2a" textLength="19.5" lengthAdjust="spacingAndGlyphs">Zero drift</text>
<text x="450.7" y="234.58" font-size="5" font-weight="bold" text-anchor="middle" fill="#3a2a2a" textLength="30.5" lengthAdjust="spacingAndGlyphs">compensation</text>
<rect x="424.1" y="243.9" width="53.2" height="15.7" fill="#8fc78d" rx="2.2"/>
<text x="450.7" y="253.75" font-size="5.2" font-weight="bold" text-anchor="middle" fill="#223322" textLength="29" lengthAdjust="spacingAndGlyphs">Normalization</text>
<line x1="450.6" y1="216.3" x2="450.6" y2="219.3" stroke="#666" stroke-width="2.2"/>
<polygon points="450.6,221.5 447.9,218.7 453.3,218.7" fill="#666"/>
<line x1="450.6" y1="238" x2="450.6" y2="241.7" stroke="#666" stroke-width="2.2"/>
<polygon points="450.6,243.9 447.9,241.1 453.3,241.1" fill="#666"/>
<polygon points="416,206.6 419.8,206.6 419.8,204.9 423.3,208.1 419.8,211.3 419.8,209.6 416,209.6" fill="#eaa6ae" stroke="#c8606e" stroke-width="0.6"/>
<polyline points="477.3,251.8 483.6,251.8 483.6,228.2 492.5,228.2" fill="none" stroke="#717171" stroke-width="1.9"/>
<polygon points="495.6,228.2 492,225.8 492,230.6" fill="#717171"/>
<rect x="489.2" y="190.4" width="110.4" height="79.9" fill="none" stroke="#4f8a5c" stroke-width="0.7" rx="5" stroke-dasharray="1.1,1.1"/>
<rect x="532.8" y="187.5" width="28.6" height="6.7" fill="#175f4d" rx="1.4"/>
<text x="547.1" y="192.68" font-size="5" font-weight="bold" text-anchor="middle" fill="#ffffff" textLength="19" lengthAdjust="spacingAndGlyphs">Encoder</text>
<rect x="603.3" y="190.4" width="52.6" height="79.7" fill="none" stroke="#c94a5a" stroke-width="0.7" rx="5" stroke-dasharray="1.1,1.1"/>
<rect x="614" y="187.3" width="28.8" height="6.9" fill="#b31d35" rx="1.4"/>
<text x="628.4" y="192.58" font-size="5" font-weight="bold" text-anchor="middle" fill="#ffffff" textLength="13" lengthAdjust="spacingAndGlyphs">FCNN</text>
<line x1="506.2" y1="228.3" x2="521.9" y2="228.3" stroke="#6c6c6c" stroke-width="2"/><polygon points="524.6,228.3 521.4,226.06 521.4,230.54" fill="#6c6c6c"/>
<line x1="535.2" y1="228.3" x2="550.8" y2="228.3" stroke="#9d9d9d" stroke-width="2"/><polygon points="553.5,228.3 550.3,226.06 550.3,230.54" fill="#9d9d9d"/>
<line x1="564.4" y1="228.3" x2="579.5" y2="228.3" stroke="#c4c4c4" stroke-width="2"/><polygon points="582.2,228.3 579,226.06 579,230.54" fill="#c4c4c4"/>
<line x1="592.6" y1="228.3" x2="608.5" y2="228.3" stroke="#c9c9c9" stroke-width="2"/><polygon points="611.2,228.3 608,226.06 608,230.54" fill="#c9c9c9"/>
<line x1="621.9" y1="228.3" x2="637.2" y2="228.3" stroke="#c9c9c9" stroke-width="2"/><polygon points="639.9,228.3 636.7,226.06 636.7,230.54" fill="#c9c9c9"/>
<rect x="495.9" y="196.4" width="10.1" height="63.3" fill="#e6eff2" stroke="#2f5f73" stroke-width="0.85" rx="1.6"/><circle cx="500.95" cy="201.7" r="2.2" fill="#ffffff" stroke="#2f5f73" stroke-width="0.8"/><circle cx="500.95" cy="207.9" r="2.2" fill="#ffffff" stroke="#2f5f73" stroke-width="0.8"/><circle cx="500.95" cy="214.1" r="2.2" fill="#ffffff" stroke="#2f5f73" stroke-width="0.8"/><circle cx="500.95" cy="220.3" r="2.2" fill="#ffffff" stroke="#2f5f73" stroke-width="0.8"/><circle cx="500.95" cy="235.8" r="2.2" fill="#ffffff" stroke="#2f5f73" stroke-width="0.8"/><circle cx="500.95" cy="242" r="2.2" fill="#ffffff" stroke="#2f5f73" stroke-width="0.8"/><circle cx="500.95" cy="248.2" r="2.2" fill="#ffffff" stroke="#2f5f73" stroke-width="0.8"/><circle cx="500.95" cy="254.4" r="2.2" fill="#ffffff" stroke="#2f5f73" stroke-width="0.8"/><circle cx="500.95" cy="225.27" r="0.45" fill="#2f5f73"/><circle cx="500.95" cy="228.05" r="0.45" fill="#2f5f73"/><circle cx="500.95" cy="230.82" r="0.45" fill="#2f5f73"/>
<rect x="525" y="202.3" width="10" height="50.7" fill="#eef6f6" stroke="#7aaeb0" stroke-width="0.85" rx="1.6"/><circle cx="530" cy="207.5" r="2.2" fill="#ffffff" stroke="#7aaeb0" stroke-width="0.8"/><circle cx="530" cy="213.7" r="2.2" fill="#ffffff" stroke="#7aaeb0" stroke-width="0.8"/><circle cx="530" cy="219.9" r="2.2" fill="#ffffff" stroke="#7aaeb0" stroke-width="0.8"/><circle cx="530" cy="235.4" r="2.2" fill="#ffffff" stroke="#7aaeb0" stroke-width="0.8"/><circle cx="530" cy="241.6" r="2.2" fill="#ffffff" stroke="#7aaeb0" stroke-width="0.8"/><circle cx="530" cy="247.8" r="2.2" fill="#ffffff" stroke="#7aaeb0" stroke-width="0.8"/><circle cx="530" cy="224.88" r="0.45" fill="#7aaeb0"/><circle cx="530" cy="227.65" r="0.45" fill="#7aaeb0"/><circle cx="530" cy="230.43" r="0.45" fill="#7aaeb0"/>
<rect x="553.8" y="209.3" width="10.4" height="37.8" fill="#f4fafa" stroke="#a8cfcf" stroke-width="0.85" rx="1.6"/><circle cx="559" cy="214.25" r="2.2" fill="#ffffff" stroke="#a8cfcf" stroke-width="0.8"/><circle cx="559" cy="220.45" r="2.2" fill="#ffffff" stroke="#a8cfcf" stroke-width="0.8"/><circle cx="559" cy="235.95" r="2.2" fill="#ffffff" stroke="#a8cfcf" stroke-width="0.8"/><circle cx="559" cy="242.15" r="2.2" fill="#ffffff" stroke="#a8cfcf" stroke-width="0.8"/><circle cx="559" cy="225.42" r="0.45" fill="#a8cfcf"/><circle cx="559" cy="228.2" r="0.45" fill="#a8cfcf"/><circle cx="559" cy="230.97" r="0.45" fill="#a8cfcf"/>
<rect x="582.4" y="214.9" width="10" height="25.8" fill="#f5ede9" stroke="#8e4b2e" stroke-width="0.85" rx="1.6"/><circle cx="587.4" cy="220.05" r="2.2" fill="#ffffff" stroke="#8e4b2e" stroke-width="0.8"/><circle cx="587.4" cy="235.55" r="2.2" fill="#ffffff" stroke="#8e4b2e" stroke-width="0.8"/><circle cx="587.4" cy="225.03" r="0.45" fill="#8e4b2e"/><circle cx="587.4" cy="227.8" r="0.45" fill="#8e4b2e"/><circle cx="587.4" cy="230.58" r="0.45" fill="#8e4b2e"/>
<rect x="611.4" y="217.2" width="10.3" height="22.2" fill="#fdf4ea" stroke="#e39b52" stroke-width="0.85" rx="1.6"/><circle cx="616.55" cy="222.34" r="2.2" fill="#ffffff" stroke="#e39b52" stroke-width="0.8"/><circle cx="616.55" cy="234.26" r="2.2" fill="#ffffff" stroke="#e39b52" stroke-width="0.8"/><circle cx="616.55" cy="226.42" r="0.45" fill="#e39b52"/><circle cx="616.55" cy="228.3" r="0.45" fill="#e39b52"/><circle cx="616.55" cy="230.18" r="0.45" fill="#e39b52"/>
<rect x="640.1" y="221.8" width="10.4" height="11" fill="#fbeef0" stroke="#c9425c" stroke-width="0.85" rx="1.6"/><circle cx="645.3" cy="227.3" r="2.2" fill="#ffffff" stroke="#c9425c" stroke-width="0.8"/>
<text x="501" y="265.82" font-size="5.4" font-weight="bold" text-anchor="middle" fill="#333">(40)</text>
<text x="530" y="260.32" font-size="5.4" font-weight="bold" text-anchor="middle" fill="#333">(28)</text>
<text x="559" y="254.92" font-size="5.4" font-weight="bold" text-anchor="middle" fill="#333">(16)</text>
<text x="587.4" y="248.22" font-size="5.4" font-weight="bold" text-anchor="middle" fill="#333">(10)</text>
<text x="616.5" y="245.92" font-size="5.4" font-weight="bold" text-anchor="middle" fill="#333">(7)</text>
<text x="645.3" y="239.82" font-size="5.4" font-weight="bold" text-anchor="middle" fill="#333">(1)</text>
<line x1="645.3" y1="243" x2="645.3" y2="278.5" stroke="#e29aa6" stroke-width="2.8"/>
<polygon points="645.3,282.2 642,277.8 648.6,277.8" fill="#e29aa6"/>
<polyline points="359.2,290.6 359.2,278.9 544.6,278.9 544.6,274" fill="none" stroke="#1e6354" stroke-width="2"/>
<polygon points="544.6,270.4 542.2,274.4 547,274.4" fill="#1e6354"/>
<rect x="411" y="275.6" width="28.6" height="6.8" fill="#175f4d" rx="1.4"/>
<text x="425.3" y="280.88" font-size="5" font-weight="bold" text-anchor="middle" fill="#ffffff" textLength="11.5" lengthAdjust="spacingAndGlyphs">Keep</text>
<rect x="325.7" y="290.5" width="68.6" height="74.6" fill="none" stroke="#4f8a5c" stroke-width="0.7" rx="4" stroke-dasharray="1.1,1.1"/>
<rect x="394.6" y="290.5" width="66.8" height="74.6" fill="none" stroke="#8a5fb0" stroke-width="0.7" rx="4" stroke-dasharray="1.1,1.1"/>
<line x1="339.2" y1="325.3" x2="346.5" y2="325.3" stroke="#6c6c6c" stroke-width="2"/><polygon points="348.8,325.3 346,323.34 346,327.26" fill="#6c6c6c"/>
<line x1="359" y1="325.3" x2="366.3" y2="325.3" stroke="#9d9d9d" stroke-width="2"/><polygon points="368.6,325.3 365.8,323.34 365.8,327.26" fill="#9d9d9d"/>
<line x1="379.5" y1="325.3" x2="386.4" y2="325.3" stroke="#c4c4c4" stroke-width="2"/><polygon points="388.7,325.3 385.9,323.34 385.9,327.26" fill="#c4c4c4"/>
<line x1="398.9" y1="325.3" x2="406.5" y2="325.3" stroke="#c9c9c9" stroke-width="2"/><polygon points="408.8,325.3 406,323.34 406,327.26" fill="#c9c9c9"/>
<line x1="418.9" y1="325.3" x2="425.7" y2="325.3" stroke="#a4a4a4" stroke-width="2"/><polygon points="428,325.3 425.2,323.34 425.2,327.26" fill="#a4a4a4"/>
<line x1="438.3" y1="325.3" x2="445.7" y2="325.3" stroke="#6c6c6c" stroke-width="2"/><polygon points="448,325.3 445.2,323.34 445.2,327.26" fill="#6c6c6c"/>
<rect x="329.2" y="295.7" width="9.8" height="59.2" fill="#e6eff2" stroke="#2f5f73" stroke-width="0.85" rx="1.6"/><circle cx="334.1" cy="300.86" r="2.2" fill="#ffffff" stroke="#2f5f73" stroke-width="0.8"/><circle cx="334.1" cy="306.61" r="2.2" fill="#ffffff" stroke="#2f5f73" stroke-width="0.8"/><circle cx="334.1" cy="312.36" r="2.2" fill="#ffffff" stroke="#2f5f73" stroke-width="0.8"/><circle cx="334.1" cy="318.11" r="2.2" fill="#ffffff" stroke="#2f5f73" stroke-width="0.8"/><circle cx="334.1" cy="332.49" r="2.2" fill="#ffffff" stroke="#2f5f73" stroke-width="0.8"/><circle cx="334.1" cy="338.24" r="2.2" fill="#ffffff" stroke="#2f5f73" stroke-width="0.8"/><circle cx="334.1" cy="343.99" r="2.2" fill="#ffffff" stroke="#2f5f73" stroke-width="0.8"/><circle cx="334.1" cy="349.74" r="2.2" fill="#ffffff" stroke="#2f5f73" stroke-width="0.8"/><circle cx="334.1" cy="322.81" r="0.45" fill="#2f5f73"/><circle cx="334.1" cy="325.3" r="0.45" fill="#2f5f73"/><circle cx="334.1" cy="327.79" r="0.45" fill="#2f5f73"/>
<rect x="349.2" y="301.4" width="9.6" height="47.4" fill="#eef6f6" stroke="#7aaeb0" stroke-width="0.85" rx="1.6"/><circle cx="354" cy="306.41" r="2.2" fill="#ffffff" stroke="#7aaeb0" stroke-width="0.8"/><circle cx="354" cy="312.16" r="2.2" fill="#ffffff" stroke="#7aaeb0" stroke-width="0.8"/><circle cx="354" cy="317.91" r="2.2" fill="#ffffff" stroke="#7aaeb0" stroke-width="0.8"/><circle cx="354" cy="332.29" r="2.2" fill="#ffffff" stroke="#7aaeb0" stroke-width="0.8"/><circle cx="354" cy="338.04" r="2.2" fill="#ffffff" stroke="#7aaeb0" stroke-width="0.8"/><circle cx="354" cy="343.79" r="2.2" fill="#ffffff" stroke="#7aaeb0" stroke-width="0.8"/><circle cx="354" cy="322.61" r="0.45" fill="#7aaeb0"/><circle cx="354" cy="325.1" r="0.45" fill="#7aaeb0"/><circle cx="354" cy="327.59" r="0.45" fill="#7aaeb0"/>
<rect x="369" y="306.9" width="10.3" height="35.8" fill="#f4fafa" stroke="#a8cfcf" stroke-width="0.85" rx="1.6"/><circle cx="374.15" cy="311.86" r="2.2" fill="#ffffff" stroke="#a8cfcf" stroke-width="0.8"/><circle cx="374.15" cy="317.61" r="2.2" fill="#ffffff" stroke="#a8cfcf" stroke-width="0.8"/><circle cx="374.15" cy="331.99" r="2.2" fill="#ffffff" stroke="#a8cfcf" stroke-width="0.8"/><circle cx="374.15" cy="337.74" r="2.2" fill="#ffffff" stroke="#a8cfcf" stroke-width="0.8"/><circle cx="374.15" cy="322.31" r="0.45" fill="#a8cfcf"/><circle cx="374.15" cy="324.8" r="0.45" fill="#a8cfcf"/><circle cx="374.15" cy="327.29" r="0.45" fill="#a8cfcf"/>
<rect x="389" y="312.4" width="9.7" height="25.2" fill="#f5ede9" stroke="#8e4b2e" stroke-width="0.85" rx="1.6"/><circle cx="393.85" cy="317.81" r="2.2" fill="#ffffff" stroke="#8e4b2e" stroke-width="0.8"/><circle cx="393.85" cy="332.19" r="2.2" fill="#ffffff" stroke="#8e4b2e" stroke-width="0.8"/><circle cx="393.85" cy="322.51" r="0.45" fill="#8e4b2e"/><circle cx="393.85" cy="325" r="0.45" fill="#8e4b2e"/><circle cx="393.85" cy="327.49" r="0.45" fill="#8e4b2e"/>
<rect x="409.1" y="306.9" width="9.6" height="35.8" fill="#f6f5fc" stroke="#aaa3d6" stroke-width="0.85" rx="1.6"/><circle cx="413.9" cy="311.86" r="2.2" fill="#ffffff" stroke="#aaa3d6" stroke-width="0.8"/><circle cx="413.9" cy="317.61" r="2.2" fill="#ffffff" stroke="#aaa3d6" stroke-width="0.8"/><circle cx="413.9" cy="331.99" r="2.2" fill="#ffffff" stroke="#aaa3d6" stroke-width="0.8"/><circle cx="413.9" cy="337.74" r="2.2" fill="#ffffff" stroke="#aaa3d6" stroke-width="0.8"/><circle cx="413.9" cy="322.31" r="0.45" fill="#aaa3d6"/><circle cx="413.9" cy="324.8" r="0.45" fill="#aaa3d6"/><circle cx="413.9" cy="327.29" r="0.45" fill="#aaa3d6"/>
<rect x="428.3" y="301.4" width="9.8" height="47.4" fill="#f0f0fa" stroke="#6f72c0" stroke-width="0.85" rx="1.6"/><circle cx="433.2" cy="306.41" r="2.2" fill="#ffffff" stroke="#6f72c0" stroke-width="0.8"/><circle cx="433.2" cy="312.16" r="2.2" fill="#ffffff" stroke="#6f72c0" stroke-width="0.8"/><circle cx="433.2" cy="317.91" r="2.2" fill="#ffffff" stroke="#6f72c0" stroke-width="0.8"/><circle cx="433.2" cy="332.29" r="2.2" fill="#ffffff" stroke="#6f72c0" stroke-width="0.8"/><circle cx="433.2" cy="338.04" r="2.2" fill="#ffffff" stroke="#6f72c0" stroke-width="0.8"/><circle cx="433.2" cy="343.79" r="2.2" fill="#ffffff" stroke="#6f72c0" stroke-width="0.8"/><circle cx="433.2" cy="322.61" r="0.45" fill="#6f72c0"/><circle cx="433.2" cy="325.1" r="0.45" fill="#6f72c0"/><circle cx="433.2" cy="327.59" r="0.45" fill="#6f72c0"/>
<rect x="448.3" y="295.7" width="9.9" height="59.2" fill="#eceef6" stroke="#3a4888" stroke-width="0.85" rx="1.6"/><circle cx="453.25" cy="300.86" r="2.2" fill="#ffffff" stroke="#3a4888" stroke-width="0.8"/><circle cx="453.25" cy="306.61" r="2.2" fill="#ffffff" stroke="#3a4888" stroke-width="0.8"/><circle cx="453.25" cy="312.36" r="2.2" fill="#ffffff" stroke="#3a4888" stroke-width="0.8"/><circle cx="453.25" cy="318.11" r="2.2" fill="#ffffff" stroke="#3a4888" stroke-width="0.8"/><circle cx="453.25" cy="332.49" r="2.2" fill="#ffffff" stroke="#3a4888" stroke-width="0.8"/><circle cx="453.25" cy="338.24" r="2.2" fill="#ffffff" stroke="#3a4888" stroke-width="0.8"/><circle cx="453.25" cy="343.99" r="2.2" fill="#ffffff" stroke="#3a4888" stroke-width="0.8"/><circle cx="453.25" cy="349.74" r="2.2" fill="#ffffff" stroke="#3a4888" stroke-width="0.8"/><circle cx="453.25" cy="322.81" r="0.45" fill="#3a4888"/><circle cx="453.25" cy="325.3" r="0.45" fill="#3a4888"/><circle cx="453.25" cy="327.79" r="0.45" fill="#3a4888"/>
<text x="334.1" y="360.63" font-size="4.6" font-weight="bold" text-anchor="middle" fill="#333">(40)</text>
<text x="354" y="354.53" font-size="4.6" font-weight="bold" text-anchor="middle" fill="#333">(28)</text>
<text x="374.1" y="347.93" font-size="4.6" font-weight="bold" text-anchor="middle" fill="#333">(16)</text>
<text x="393.8" y="342.63" font-size="4.6" font-weight="bold" text-anchor="middle" fill="#333">(10)</text>
<text x="413.9" y="347.93" font-size="4.6" font-weight="bold" text-anchor="middle" fill="#333">(16)</text>
<text x="433.2" y="354.53" font-size="4.6" font-weight="bold" text-anchor="middle" fill="#333">(28)</text>
<text x="453.2" y="360.63" font-size="4.6" font-weight="bold" text-anchor="middle" fill="#333">(40)</text>
<rect x="345" y="361" width="31.8" height="7.2" fill="#175f4d" rx="1.4"/>
<text x="360.9" y="366.38" font-size="5" font-weight="bold" text-anchor="middle" fill="#ffffff" textLength="19" lengthAdjust="spacingAndGlyphs">Encoder</text>
<rect x="412" y="361" width="31" height="7.2" fill="#5e3a90" rx="1.4"/>
<text x="427.5" y="366.38" font-size="5" font-weight="bold" text-anchor="middle" fill="#ffffff" textLength="19" lengthAdjust="spacingAndGlyphs">Decoder</text>
<rect x="484.4" y="296.8" width="73.8" height="62.4" fill="#ffffff" stroke="#a0a0a0" stroke-width="0.7"/>
<text x="481.4" y="361.26" font-size="5.8" font-weight="bold" text-anchor="end" fill="#231f20">0.0</text>
<line x1="482.9" y1="359.2" x2="484.4" y2="359.2" stroke="#666" stroke-width="0.5"/>
<text x="481.4" y="351.36" font-size="5.8" font-weight="bold" text-anchor="end" fill="#231f20">0.8</text>
<line x1="482.9" y1="349.3" x2="484.4" y2="349.3" stroke="#666" stroke-width="0.5"/>
<text x="481.4" y="341.46" font-size="5.8" font-weight="bold" text-anchor="end" fill="#231f20">1.6</text>
<line x1="482.9" y1="339.4" x2="484.4" y2="339.4" stroke="#666" stroke-width="0.5"/>
<text x="481.4" y="331.56" font-size="5.8" font-weight="bold" text-anchor="end" fill="#231f20">2.4</text>
<line x1="482.9" y1="329.5" x2="484.4" y2="329.5" stroke="#666" stroke-width="0.5"/>
<text x="481.4" y="321.66" font-size="5.8" font-weight="bold" text-anchor="end" fill="#231f20">3.2</text>
<line x1="482.9" y1="319.6" x2="484.4" y2="319.6" stroke="#666" stroke-width="0.5"/>
<text x="481.4" y="311.76" font-size="5.8" font-weight="bold" text-anchor="end" fill="#231f20">4.0</text>
<line x1="482.9" y1="309.7" x2="484.4" y2="309.7" stroke="#666" stroke-width="0.5"/>
<text x="481.4" y="301.86" font-size="5.8" font-weight="bold" text-anchor="end" fill="#231f20">4.8</text>
<line x1="482.9" y1="299.8" x2="484.4" y2="299.8" stroke="#666" stroke-width="0.5"/>
<text x="490.3" y="366.86" font-size="5.8" font-weight="bold" text-anchor="middle" fill="#231f20">0</text>
<line x1="490.3" y1="359.2" x2="490.3" y2="360.7" stroke="#666" stroke-width="0.5"/>
<text x="502.88" y="366.86" font-size="5.8" font-weight="bold" text-anchor="middle" fill="#231f20">50</text>
<line x1="502.88" y1="359.2" x2="502.88" y2="360.7" stroke="#666" stroke-width="0.5"/>
<text x="515.46" y="366.86" font-size="5.8" font-weight="bold" text-anchor="middle" fill="#231f20">100</text>
<line x1="515.46" y1="359.2" x2="515.46" y2="360.7" stroke="#666" stroke-width="0.5"/>
<text x="528.04" y="366.86" font-size="5.8" font-weight="bold" text-anchor="middle" fill="#231f20">150</text>
<line x1="528.04" y1="359.2" x2="528.04" y2="360.7" stroke="#666" stroke-width="0.5"/>
<text x="540.62" y="366.86" font-size="5.8" font-weight="bold" text-anchor="middle" fill="#231f20">200</text>
<line x1="540.62" y1="359.2" x2="540.62" y2="360.7" stroke="#666" stroke-width="0.5"/>
<text x="553.2" y="366.86" font-size="5.8" font-weight="bold" text-anchor="middle" fill="#231f20">250</text>
<line x1="553.2" y1="359.2" x2="553.2" y2="360.7" stroke="#666" stroke-width="0.5"/>
<text x="515" y="375.37" font-size="6.1" font-weight="bold" text-anchor="middle" fill="#231f20">Data number</text>
<text x="0" y="0" font-size="6.5" font-weight="bold" fill="#231f20" text-anchor="middle" transform="translate(469.8 327.6) rotate(-90)">H<tspan font-size="4.4" dy="1.5">2</tspan><tspan dy="-1.5"> concentration (%)</tspan></text>
<rect x="490.76" y="309" width="1.6" height="1.4" fill="#4a5fc0"/>
<circle cx="490.65" cy="309.97" r="0.75" fill="#e0403c"/>
<rect x="491.51" y="309" width="1.6" height="1.4" fill="#4a5fc0"/>
<circle cx="492.33" cy="308.95" r="0.75" fill="#e0403c"/>
<rect x="493.02" y="309" width="1.6" height="1.4" fill="#4a5fc0"/>
<circle cx="493.92" cy="308.98" r="0.75" fill="#e0403c"/>
<rect x="493.78" y="309" width="1.6" height="1.4" fill="#4a5fc0"/>
<rect x="494.28" y="309" width="1.6" height="1.4" fill="#4a5fc0"/>
<circle cx="496.03" cy="308.96" r="0.75" fill="#e0403c"/>
<rect x="495.04" y="309" width="1.6" height="1.4" fill="#4a5fc0"/>
<circle cx="495.07" cy="309.3" r="0.75" fill="#e0403c"/>
<rect x="496.8" y="309" width="1.6" height="1.4" fill="#4a5fc0"/>
<circle cx="496.72" cy="308.98" r="0.75" fill="#e0403c"/>
<rect x="497.8" y="309" width="1.6" height="1.4" fill="#4a5fc0"/>
<circle cx="499.16" cy="309.51" r="0.75" fill="#e0403c"/>
<rect x="500.07" y="309" width="1.6" height="1.4" fill="#4a5fc0"/>
<circle cx="500.23" cy="309.91" r="0.75" fill="#e0403c"/>
<rect x="500.82" y="309" width="1.6" height="1.4" fill="#4a5fc0"/>
<circle cx="502.37" cy="309.85" r="0.75" fill="#e0403c"/>
<rect x="501.83" y="309" width="1.6" height="1.4" fill="#4a5fc0"/>
<circle cx="502.65" cy="309.11" r="0.75" fill="#e0403c"/>
<rect x="503.09" y="309" width="1.6" height="1.4" fill="#4a5fc0"/>
<circle cx="502.96" cy="309.77" r="0.75" fill="#e0403c"/>
<rect x="506.61" y="309" width="1.6" height="1.4" fill="#4a5fc0"/>
<rect x="507.87" y="309" width="1.6" height="1.4" fill="#4a5fc0"/>
<circle cx="508.66" cy="309.94" r="0.75" fill="#e0403c"/>
<rect x="508.62" y="309" width="1.6" height="1.4" fill="#4a5fc0"/>
<rect x="510.89" y="309" width="1.6" height="1.4" fill="#4a5fc0"/>
<circle cx="512.15" cy="309.3" r="0.75" fill="#e0403c"/>
<rect x="513.15" y="309" width="1.6" height="1.4" fill="#4a5fc0"/>
<circle cx="514.29" cy="308.93" r="0.75" fill="#e0403c"/>
<rect x="515.41" y="309" width="1.6" height="1.4" fill="#4a5fc0"/>
<rect x="519.69" y="309" width="1.6" height="1.4" fill="#4a5fc0"/>
<rect x="524.22" y="309" width="1.6" height="1.4" fill="#4a5fc0"/>
<circle cx="524.29" cy="309.46" r="0.75" fill="#e0403c"/>
<rect x="527.74" y="309" width="1.6" height="1.4" fill="#4a5fc0"/>
<circle cx="528.26" cy="310.05" r="0.75" fill="#e0403c"/>
<rect x="528.75" y="309" width="1.6" height="1.4" fill="#4a5fc0"/>
<circle cx="529.01" cy="309.2" r="0.75" fill="#e0403c"/>
<rect x="531.01" y="309" width="1.6" height="1.4" fill="#4a5fc0"/>
<circle cx="531.38" cy="309.09" r="0.75" fill="#e0403c"/>
<rect x="534.54" y="309" width="1.6" height="1.4" fill="#4a5fc0"/>
<rect x="535.29" y="309" width="1.6" height="1.4" fill="#4a5fc0"/>
<circle cx="536.33" cy="309.78" r="0.75" fill="#e0403c"/>
<rect x="535.79" y="309" width="1.6" height="1.4" fill="#4a5fc0"/>
<rect x="539.32" y="309" width="1.6" height="1.4" fill="#4a5fc0"/>
<circle cx="539.32" cy="309.72" r="0.75" fill="#e0403c"/>
<rect x="539.82" y="309" width="1.6" height="1.4" fill="#4a5fc0"/>
<rect x="542.08" y="309" width="1.6" height="1.4" fill="#4a5fc0"/>
<circle cx="541.99" cy="308.9" r="0.75" fill="#e0403c"/>
<rect x="542.84" y="309" width="1.6" height="1.4" fill="#4a5fc0"/>
<rect x="544.35" y="309" width="1.6" height="1.4" fill="#4a5fc0"/>
<circle cx="544.65" cy="309.35" r="0.75" fill="#e0403c"/>
<rect x="545.61" y="309" width="1.6" height="1.4" fill="#4a5fc0"/>
<circle cx="546.38" cy="310.17" r="0.75" fill="#e0403c"/>
<rect x="547.87" y="309" width="1.6" height="1.4" fill="#4a5fc0"/>
<circle cx="547.88" cy="309.35" r="0.75" fill="#e0403c"/>
<rect x="548.88" y="309" width="1.6" height="1.4" fill="#4a5fc0"/>
<rect x="493.02" y="318.9" width="1.6" height="1.4" fill="#4a5fc0"/>
<rect x="493.53" y="318.9" width="1.6" height="1.4" fill="#4a5fc0"/>
<circle cx="494.61" cy="318.92" r="0.75" fill="#e0403c"/>
<rect x="494.53" y="318.9" width="1.6" height="1.4" fill="#4a5fc0"/>
<rect x="495.79" y="318.9" width="1.6" height="1.4" fill="#4a5fc0"/>
<circle cx="497.15" cy="319.23" r="0.75" fill="#e0403c"/>
<rect x="496.8" y="318.9" width="1.6" height="1.4" fill="#4a5fc0"/>
<rect x="497.8" y="318.9" width="1.6" height="1.4" fill="#4a5fc0"/>
<rect x="498.81" y="318.9" width="1.6" height="1.4" fill="#4a5fc0"/>
<circle cx="500.07" cy="320.09" r="0.75" fill="#e0403c"/>
<rect x="499.82" y="318.9" width="1.6" height="1.4" fill="#4a5fc0"/>
<circle cx="500.83" cy="319.25" r="0.75" fill="#e0403c"/>
<rect x="501.07" y="318.9" width="1.6" height="1.4" fill="#4a5fc0"/>
<circle cx="501.31" cy="319.09" r="0.75" fill="#e0403c"/>
<rect x="502.08" y="318.9" width="1.6" height="1.4" fill="#4a5fc0"/>
<circle cx="503.85" cy="319.59" r="0.75" fill="#e0403c"/>
<rect x="502.58" y="318.9" width="1.6" height="1.4" fill="#4a5fc0"/>
<rect x="503.34" y="318.9" width="1.6" height="1.4" fill="#4a5fc0"/>
<circle cx="503.92" cy="319.72" r="0.75" fill="#e0403c"/>
<rect x="504.34" y="318.9" width="1.6" height="1.4" fill="#4a5fc0"/>
<circle cx="505.72" cy="319.23" r="0.75" fill="#e0403c"/>
<rect x="505.85" y="318.9" width="1.6" height="1.4" fill="#4a5fc0"/>
<rect x="506.61" y="318.9" width="1.6" height="1.4" fill="#4a5fc0"/>
<circle cx="506.66" cy="319" r="0.75" fill="#e0403c"/>
<rect x="508.87" y="318.9" width="1.6" height="1.4" fill="#4a5fc0"/>
<circle cx="510.33" cy="320.07" r="0.75" fill="#e0403c"/>
<rect x="510.13" y="318.9" width="1.6" height="1.4" fill="#4a5fc0"/>
<circle cx="509.97" cy="319.84" r="0.75" fill="#e0403c"/>
<rect x="510.89" y="318.9" width="1.6" height="1.4" fill="#4a5fc0"/>
<rect x="512.4" y="318.9" width="1.6" height="1.4" fill="#4a5fc0"/>
<circle cx="513.94" cy="318.84" r="0.75" fill="#e0403c"/>
<rect x="513.4" y="318.9" width="1.6" height="1.4" fill="#4a5fc0"/>
<circle cx="514.37" cy="319.14" r="0.75" fill="#e0403c"/>
<rect x="514.91" y="318.9" width="1.6" height="1.4" fill="#4a5fc0"/>
<circle cx="516.19" cy="319.97" r="0.75" fill="#e0403c"/>
<rect x="518.43" y="318.9" width="1.6" height="1.4" fill="#4a5fc0"/>
<rect x="522.71" y="318.9" width="1.6" height="1.4" fill="#4a5fc0"/>
<circle cx="523.39" cy="319.04" r="0.75" fill="#e0403c"/>
<rect x="523.21" y="318.9" width="1.6" height="1.4" fill="#4a5fc0"/>
<circle cx="523.3" cy="319.6" r="0.75" fill="#e0403c"/>
<rect x="523.97" y="318.9" width="1.6" height="1.4" fill="#4a5fc0"/>
<circle cx="524.81" cy="319.52" r="0.75" fill="#e0403c"/>
<rect x="524.72" y="318.9" width="1.6" height="1.4" fill="#4a5fc0"/>
<circle cx="524.91" cy="318.85" r="0.75" fill="#e0403c"/>
<rect x="525.48" y="318.9" width="1.6" height="1.4" fill="#4a5fc0"/>
<rect x="526.23" y="318.9" width="1.6" height="1.4" fill="#4a5fc0"/>
<rect x="529.76" y="318.9" width="1.6" height="1.4" fill="#4a5fc0"/>
<circle cx="530.11" cy="319.46" r="0.75" fill="#e0403c"/>
<rect x="532.02" y="318.9" width="1.6" height="1.4" fill="#4a5fc0"/>
<circle cx="532.87" cy="319.94" r="0.75" fill="#e0403c"/>
<rect x="533.03" y="318.9" width="1.6" height="1.4" fill="#4a5fc0"/>
<rect x="534.03" y="318.9" width="1.6" height="1.4" fill="#4a5fc0"/>
<circle cx="534.08" cy="319.37" r="0.75" fill="#e0403c"/>
<rect x="534.79" y="318.9" width="1.6" height="1.4" fill="#4a5fc0"/>
<circle cx="535.01" cy="319.19" r="0.75" fill="#e0403c"/>
<rect x="535.54" y="318.9" width="1.6" height="1.4" fill="#4a5fc0"/>
<circle cx="536.78" cy="319.66" r="0.75" fill="#e0403c"/>
<rect x="536.3" y="318.9" width="1.6" height="1.4" fill="#4a5fc0"/>
<circle cx="537.03" cy="319.77" r="0.75" fill="#e0403c"/>
<rect x="537.05" y="318.9" width="1.6" height="1.4" fill="#4a5fc0"/>
<circle cx="538.83" cy="319.88" r="0.75" fill="#e0403c"/>
<rect x="537.81" y="318.9" width="1.6" height="1.4" fill="#4a5fc0"/>
<rect x="539.32" y="318.9" width="1.6" height="1.4" fill="#4a5fc0"/>
<circle cx="539.75" cy="319.74" r="0.75" fill="#e0403c"/>
<rect x="539.82" y="318.9" width="1.6" height="1.4" fill="#4a5fc0"/>
<circle cx="541.03" cy="319.3" r="0.75" fill="#e0403c"/>
<rect x="543.34" y="318.9" width="1.6" height="1.4" fill="#4a5fc0"/>
<circle cx="543.27" cy="320.08" r="0.75" fill="#e0403c"/>
<rect x="544.35" y="318.9" width="1.6" height="1.4" fill="#4a5fc0"/>
<circle cx="544.68" cy="318.85" r="0.75" fill="#e0403c"/>
<rect x="545.1" y="318.9" width="1.6" height="1.4" fill="#4a5fc0"/>
<circle cx="545.75" cy="319.98" r="0.75" fill="#e0403c"/>
<rect x="546.11" y="318.9" width="1.6" height="1.4" fill="#4a5fc0"/>
<circle cx="546.94" cy="319.44" r="0.75" fill="#e0403c"/>
<rect x="547.87" y="318.9" width="1.6" height="1.4" fill="#4a5fc0"/>
<circle cx="549.46" cy="319.15" r="0.75" fill="#e0403c"/>
<rect x="548.37" y="318.9" width="1.6" height="1.4" fill="#4a5fc0"/>
<rect x="549.13" y="318.9" width="1.6" height="1.4" fill="#4a5fc0"/>
<circle cx="549.46" cy="318.96" r="0.75" fill="#e0403c"/>
<rect x="549.63" y="318.9" width="1.6" height="1.4" fill="#4a5fc0"/>
<rect x="550.64" y="318.9" width="1.6" height="1.4" fill="#4a5fc0"/>
<circle cx="551.86" cy="320.02" r="0.75" fill="#e0403c"/>
<rect x="551.39" y="318.9" width="1.6" height="1.4" fill="#4a5fc0"/>
<circle cx="553.06" cy="319.62" r="0.75" fill="#e0403c"/>
<rect x="490.51" y="328.8" width="1.6" height="1.4" fill="#4a5fc0"/>
<circle cx="490.66" cy="329.15" r="0.75" fill="#e0403c"/>
<rect x="491.01" y="328.8" width="1.6" height="1.4" fill="#4a5fc0"/>
<circle cx="490.85" cy="329.36" r="0.75" fill="#e0403c"/>
<rect x="492.02" y="328.8" width="1.6" height="1.4" fill="#4a5fc0"/>
<circle cx="492.71" cy="329.56" r="0.75" fill="#e0403c"/>
<rect x="493.53" y="328.8" width="1.6" height="1.4" fill="#4a5fc0"/>
<circle cx="495.1" cy="329.96" r="0.75" fill="#e0403c"/>
<rect x="494.53" y="328.8" width="1.6" height="1.4" fill="#4a5fc0"/>
<rect x="495.79" y="328.8" width="1.6" height="1.4" fill="#4a5fc0"/>
<rect x="496.54" y="328.8" width="1.6" height="1.4" fill="#4a5fc0"/>
<circle cx="496.45" cy="328.87" r="0.75" fill="#e0403c"/>
<rect x="497.3" y="328.8" width="1.6" height="1.4" fill="#4a5fc0"/>
<rect x="498.81" y="328.8" width="1.6" height="1.4" fill="#4a5fc0"/>
<circle cx="500.29" cy="329.83" r="0.75" fill="#e0403c"/>
<rect x="499.82" y="328.8" width="1.6" height="1.4" fill="#4a5fc0"/>
<rect x="500.32" y="328.8" width="1.6" height="1.4" fill="#4a5fc0"/>
<circle cx="501.01" cy="329.04" r="0.75" fill="#e0403c"/>
<rect x="501.58" y="328.8" width="1.6" height="1.4" fill="#4a5fc0"/>
<circle cx="501.87" cy="329.96" r="0.75" fill="#e0403c"/>
<rect x="502.58" y="328.8" width="1.6" height="1.4" fill="#4a5fc0"/>
<circle cx="503.05" cy="328.81" r="0.75" fill="#e0403c"/>
<rect x="503.59" y="328.8" width="1.6" height="1.4" fill="#4a5fc0"/>
<circle cx="504.4" cy="328.71" r="0.75" fill="#e0403c"/>
<rect x="504.6" y="328.8" width="1.6" height="1.4" fill="#4a5fc0"/>
<circle cx="505.57" cy="329.21" r="0.75" fill="#e0403c"/>
<rect x="505.6" y="328.8" width="1.6" height="1.4" fill="#4a5fc0"/>
<circle cx="506.57" cy="329.39" r="0.75" fill="#e0403c"/>
<rect x="506.36" y="328.8" width="1.6" height="1.4" fill="#4a5fc0"/>
<rect x="507.87" y="328.8" width="1.6" height="1.4" fill="#4a5fc0"/>
<rect x="514.41" y="328.8" width="1.6" height="1.4" fill="#4a5fc0"/>
<rect x="521.45" y="328.8" width="1.6" height="1.4" fill="#4a5fc0"/>
<rect x="521.96" y="328.8" width="1.6" height="1.4" fill="#4a5fc0"/>
<rect x="524.72" y="328.8" width="1.6" height="1.4" fill="#4a5fc0"/>
<circle cx="525.43" cy="328.77" r="0.75" fill="#e0403c"/>
<rect x="525.23" y="328.8" width="1.6" height="1.4" fill="#4a5fc0"/>
<rect x="527.49" y="328.8" width="1.6" height="1.4" fill="#4a5fc0"/>
<circle cx="527.43" cy="329.91" r="0.75" fill="#e0403c"/>
<rect x="536.8" y="328.8" width="1.6" height="1.4" fill="#4a5fc0"/>
<circle cx="537.13" cy="329.65" r="0.75" fill="#e0403c"/>
<rect x="537.81" y="328.8" width="1.6" height="1.4" fill="#4a5fc0"/>
<rect x="540.07" y="328.8" width="1.6" height="1.4" fill="#4a5fc0"/>
<circle cx="540.83" cy="329.59" r="0.75" fill="#e0403c"/>
<rect x="540.57" y="328.8" width="1.6" height="1.4" fill="#4a5fc0"/>
<rect x="541.33" y="328.8" width="1.6" height="1.4" fill="#4a5fc0"/>
<circle cx="542.43" cy="329.6" r="0.75" fill="#e0403c"/>
<rect x="542.59" y="328.8" width="1.6" height="1.4" fill="#4a5fc0"/>
<rect x="543.34" y="328.8" width="1.6" height="1.4" fill="#4a5fc0"/>
<rect x="544.35" y="328.8" width="1.6" height="1.4" fill="#4a5fc0"/>
<circle cx="545.08" cy="329.7" r="0.75" fill="#e0403c"/>
<rect x="547.87" y="328.8" width="1.6" height="1.4" fill="#4a5fc0"/>
<rect x="493.02" y="338.7" width="1.6" height="1.4" fill="#4a5fc0"/>
<circle cx="493.36" cy="338.87" r="0.75" fill="#e0403c"/>
<rect x="498.31" y="338.7" width="1.6" height="1.4" fill="#4a5fc0"/>
<circle cx="499.31" cy="339.42" r="0.75" fill="#e0403c"/>
<rect x="499.31" y="338.7" width="1.6" height="1.4" fill="#4a5fc0"/>
<rect x="500.32" y="338.7" width="1.6" height="1.4" fill="#4a5fc0"/>
<rect x="502.33" y="338.7" width="1.6" height="1.4" fill="#4a5fc0"/>
<rect x="503.84" y="338.7" width="1.6" height="1.4" fill="#4a5fc0"/>
<circle cx="504.33" cy="339.01" r="0.75" fill="#e0403c"/>
<rect x="506.36" y="338.7" width="1.6" height="1.4" fill="#4a5fc0"/>
<circle cx="508.01" cy="339.53" r="0.75" fill="#e0403c"/>
<rect x="507.36" y="338.7" width="1.6" height="1.4" fill="#4a5fc0"/>
<circle cx="507.94" cy="339.73" r="0.75" fill="#e0403c"/>
<rect x="508.12" y="338.7" width="1.6" height="1.4" fill="#4a5fc0"/>
<circle cx="508.47" cy="338.66" r="0.75" fill="#e0403c"/>
<rect x="509.88" y="338.7" width="1.6" height="1.4" fill="#4a5fc0"/>
<circle cx="511.62" cy="339.17" r="0.75" fill="#e0403c"/>
<rect x="511.14" y="338.7" width="1.6" height="1.4" fill="#4a5fc0"/>
<circle cx="512.85" cy="339.75" r="0.75" fill="#e0403c"/>
<rect x="512.65" y="338.7" width="1.6" height="1.4" fill="#4a5fc0"/>
<rect x="516.17" y="338.7" width="1.6" height="1.4" fill="#4a5fc0"/>
<circle cx="517.84" cy="339.13" r="0.75" fill="#e0403c"/>
<rect x="516.92" y="338.7" width="1.6" height="1.4" fill="#4a5fc0"/>
<circle cx="516.82" cy="339.8" r="0.75" fill="#e0403c"/>
<rect x="517.68" y="338.7" width="1.6" height="1.4" fill="#4a5fc0"/>
<circle cx="518.04" cy="338.93" r="0.75" fill="#e0403c"/>
<rect x="518.69" y="338.7" width="1.6" height="1.4" fill="#4a5fc0"/>
<circle cx="519.45" cy="339.47" r="0.75" fill="#e0403c"/>
<rect x="519.44" y="338.7" width="1.6" height="1.4" fill="#4a5fc0"/>
<circle cx="519.66" cy="339.78" r="0.75" fill="#e0403c"/>
<rect x="521.7" y="338.7" width="1.6" height="1.4" fill="#4a5fc0"/>
<circle cx="522.17" cy="339.59" r="0.75" fill="#e0403c"/>
<rect x="524.22" y="338.7" width="1.6" height="1.4" fill="#4a5fc0"/>
<circle cx="525.13" cy="339.02" r="0.75" fill="#e0403c"/>
<rect x="525.48" y="338.7" width="1.6" height="1.4" fill="#4a5fc0"/>
<rect x="525.98" y="338.7" width="1.6" height="1.4" fill="#4a5fc0"/>
<circle cx="526.61" cy="339.28" r="0.75" fill="#e0403c"/>
<rect x="527.49" y="338.7" width="1.6" height="1.4" fill="#4a5fc0"/>
<rect x="529.76" y="338.7" width="1.6" height="1.4" fill="#4a5fc0"/>
<rect x="530.51" y="338.7" width="1.6" height="1.4" fill="#4a5fc0"/>
<circle cx="531.89" cy="339.7" r="0.75" fill="#e0403c"/>
<rect x="531.27" y="338.7" width="1.6" height="1.4" fill="#4a5fc0"/>
<circle cx="531.87" cy="339.18" r="0.75" fill="#e0403c"/>
<rect x="532.27" y="338.7" width="1.6" height="1.4" fill="#4a5fc0"/>
<rect x="534.28" y="338.7" width="1.6" height="1.4" fill="#4a5fc0"/>
<rect x="536.55" y="338.7" width="1.6" height="1.4" fill="#4a5fc0"/>
<circle cx="536.5" cy="339.81" r="0.75" fill="#e0403c"/>
<rect x="540.07" y="338.7" width="1.6" height="1.4" fill="#4a5fc0"/>
<rect x="541.08" y="338.7" width="1.6" height="1.4" fill="#4a5fc0"/>
<circle cx="541.18" cy="339.86" r="0.75" fill="#e0403c"/>
<rect x="541.83" y="338.7" width="1.6" height="1.4" fill="#4a5fc0"/>
<rect x="545.36" y="338.7" width="1.6" height="1.4" fill="#4a5fc0"/>
<rect x="546.36" y="338.7" width="1.6" height="1.4" fill="#4a5fc0"/>
<rect x="549.88" y="338.7" width="1.6" height="1.4" fill="#4a5fc0"/>
<rect x="551.65" y="338.7" width="1.6" height="1.4" fill="#4a5fc0"/>
<rect x="490.51" y="348.6" width="1.6" height="1.4" fill="#4a5fc0"/>
<rect x="491.01" y="348.6" width="1.6" height="1.4" fill="#4a5fc0"/>
<rect x="492.02" y="348.6" width="1.6" height="1.4" fill="#4a5fc0"/>
<rect x="493.02" y="348.6" width="1.6" height="1.4" fill="#4a5fc0"/>
<circle cx="493.32" cy="349.75" r="0.75" fill="#e0403c"/>
<rect x="495.04" y="348.6" width="1.6" height="1.4" fill="#4a5fc0"/>
<rect x="497.55" y="348.6" width="1.6" height="1.4" fill="#4a5fc0"/>
<rect x="498.56" y="348.6" width="1.6" height="1.4" fill="#4a5fc0"/>
<rect x="500.07" y="348.6" width="1.6" height="1.4" fill="#4a5fc0"/>
<circle cx="499.88" cy="348.88" r="0.75" fill="#e0403c"/>
<rect x="505.85" y="348.6" width="1.6" height="1.4" fill="#4a5fc0"/>
<circle cx="507.29" cy="348.8" r="0.75" fill="#e0403c"/>
<rect x="506.86" y="348.6" width="1.6" height="1.4" fill="#4a5fc0"/>
<rect x="507.62" y="348.6" width="1.6" height="1.4" fill="#4a5fc0"/>
<circle cx="507.79" cy="348.79" r="0.75" fill="#e0403c"/>
<rect x="509.12" y="348.6" width="1.6" height="1.4" fill="#4a5fc0"/>
<circle cx="510.11" cy="349.7" r="0.75" fill="#e0403c"/>
<rect x="509.63" y="348.6" width="1.6" height="1.4" fill="#4a5fc0"/>
<rect x="510.38" y="348.6" width="1.6" height="1.4" fill="#4a5fc0"/>
<rect x="511.14" y="348.6" width="1.6" height="1.4" fill="#4a5fc0"/>
<rect x="512.4" y="348.6" width="1.6" height="1.4" fill="#4a5fc0"/>
<rect x="513.15" y="348.6" width="1.6" height="1.4" fill="#4a5fc0"/>
<circle cx="514.82" cy="349.47" r="0.75" fill="#e0403c"/>
<rect x="513.65" y="348.6" width="1.6" height="1.4" fill="#4a5fc0"/>
<rect x="514.91" y="348.6" width="1.6" height="1.4" fill="#4a5fc0"/>
<circle cx="514.93" cy="348.6" r="0.75" fill="#e0403c"/>
<rect x="515.67" y="348.6" width="1.6" height="1.4" fill="#4a5fc0"/>
<rect x="516.42" y="348.6" width="1.6" height="1.4" fill="#4a5fc0"/>
<rect x="517.93" y="348.6" width="1.6" height="1.4" fill="#4a5fc0"/>
<rect x="521.7" y="348.6" width="1.6" height="1.4" fill="#4a5fc0"/>
<circle cx="522.4" cy="348.92" r="0.75" fill="#e0403c"/>
<rect x="525.48" y="348.6" width="1.6" height="1.4" fill="#4a5fc0"/>
<rect x="527.49" y="348.6" width="1.6" height="1.4" fill="#4a5fc0"/>
<rect x="527.99" y="348.6" width="1.6" height="1.4" fill="#4a5fc0"/>
<rect x="529.25" y="348.6" width="1.6" height="1.4" fill="#4a5fc0"/>
<circle cx="530.96" cy="348.56" r="0.75" fill="#e0403c"/>
<rect x="530.51" y="348.6" width="1.6" height="1.4" fill="#4a5fc0"/>
<circle cx="531.75" cy="349.27" r="0.75" fill="#e0403c"/>
<rect x="534.54" y="348.6" width="1.6" height="1.4" fill="#4a5fc0"/>
<circle cx="534.84" cy="349.06" r="0.75" fill="#e0403c"/>
<rect x="539.07" y="348.6" width="1.6" height="1.4" fill="#4a5fc0"/>
<rect x="540.07" y="348.6" width="1.6" height="1.4" fill="#4a5fc0"/>
<rect x="541.08" y="348.6" width="1.6" height="1.4" fill="#4a5fc0"/>
<circle cx="541.6" cy="349.52" r="0.75" fill="#e0403c"/>
<rect x="541.83" y="348.6" width="1.6" height="1.4" fill="#4a5fc0"/>
<circle cx="541.95" cy="349.03" r="0.75" fill="#e0403c"/>
<rect x="542.34" y="348.6" width="1.6" height="1.4" fill="#4a5fc0"/>
<circle cx="542.46" cy="349.05" r="0.75" fill="#e0403c"/>
<rect x="543.09" y="348.6" width="1.6" height="1.4" fill="#4a5fc0"/>
<circle cx="543.06" cy="348.63" r="0.75" fill="#e0403c"/>
<rect x="545.36" y="348.6" width="1.6" height="1.4" fill="#4a5fc0"/>
<rect x="546.11" y="348.6" width="1.6" height="1.4" fill="#4a5fc0"/>
<circle cx="547.15" cy="349.38" r="0.75" fill="#e0403c"/>
<rect x="549.63" y="348.6" width="1.6" height="1.4" fill="#4a5fc0"/>
<rect x="550.39" y="348.6" width="1.6" height="1.4" fill="#4a5fc0"/>
<circle cx="550.75" cy="348.85" r="0.75" fill="#e0403c"/>
<rect x="551.39" y="348.6" width="1.6" height="1.4" fill="#4a5fc0"/>
<circle cx="551.69" cy="348.82" r="0.75" fill="#e0403c"/>
<rect x="552.15" y="348.6" width="1.6" height="1.4" fill="#4a5fc0"/>
<circle cx="505.1" cy="299.9" r="0.9" fill="#e0403c"/>
<text x="508.4" y="301.43" font-size="4.3" fill="#222" textLength="43.3" lengthAdjust="spacingAndGlyphs">Predicted concentration</text>
<rect x="504.3" y="303.3" width="1.6" height="1.4" fill="#4a5fc0"/>
<text x="508.4" y="305.63" font-size="4.3" fill="#222" textLength="33.9" lengthAdjust="spacingAndGlyphs">True concentration</text>
<rect x="579.2" y="296.3" width="75.3" height="62.6" fill="#ffffff" stroke="#a0a0a0" stroke-width="0.7"/>
<text x="577.8" y="357.9" font-size="4.8" text-anchor="end" fill="#333">0.8</text>
<text x="583.7" y="365.6" font-size="4.8" text-anchor="middle" fill="#333">0.8</text>
<line x1="579.2" y1="356.2" x2="580.4" y2="356.2" stroke="#666" stroke-width="0.4"/>
<line x1="583.7" y1="358.9" x2="583.7" y2="357.7" stroke="#666" stroke-width="0.4"/>
<text x="577.8" y="351.17" font-size="4.8" text-anchor="end" fill="#333">1.2</text>
<text x="592.14" y="365.6" font-size="4.8" text-anchor="middle" fill="#333">1.2</text>
<line x1="579.2" y1="349.46" x2="580.4" y2="349.46" stroke="#666" stroke-width="0.4"/>
<line x1="592.14" y1="358.9" x2="592.14" y2="357.7" stroke="#666" stroke-width="0.4"/>
<text x="577.8" y="344.43" font-size="4.8" text-anchor="end" fill="#333">1.6</text>
<text x="600.57" y="365.6" font-size="4.8" text-anchor="middle" fill="#333">1.6</text>
<line x1="579.2" y1="342.73" x2="580.4" y2="342.73" stroke="#666" stroke-width="0.4"/>
<line x1="600.57" y1="358.9" x2="600.57" y2="357.7" stroke="#666" stroke-width="0.4"/>
<text x="577.8" y="337.7" font-size="4.8" text-anchor="end" fill="#333">2.0</text>
<text x="609.01" y="365.6" font-size="4.8" text-anchor="middle" fill="#333">2.0</text>
<line x1="579.2" y1="335.99" x2="580.4" y2="335.99" stroke="#666" stroke-width="0.4"/>
<line x1="609.01" y1="358.9" x2="609.01" y2="357.7" stroke="#666" stroke-width="0.4"/>
<text x="577.8" y="330.96" font-size="4.8" text-anchor="end" fill="#333">2.4</text>
<text x="617.44" y="365.6" font-size="4.8" text-anchor="middle" fill="#333">2.4</text>
<line x1="579.2" y1="329.26" x2="580.4" y2="329.26" stroke="#666" stroke-width="0.4"/>
<line x1="617.44" y1="358.9" x2="617.44" y2="357.7" stroke="#666" stroke-width="0.4"/>
<text x="577.8" y="324.22" font-size="4.8" text-anchor="end" fill="#333">2.8</text>
<text x="625.88" y="365.6" font-size="4.8" text-anchor="middle" fill="#333">2.8</text>
<line x1="579.2" y1="322.52" x2="580.4" y2="322.52" stroke="#666" stroke-width="0.4"/>
<line x1="625.88" y1="358.9" x2="625.88" y2="357.7" stroke="#666" stroke-width="0.4"/>
<text x="577.8" y="317.49" font-size="4.8" text-anchor="end" fill="#333">3.2</text>
<text x="634.32" y="365.6" font-size="4.8" text-anchor="middle" fill="#333">3.2</text>
<line x1="579.2" y1="315.78" x2="580.4" y2="315.78" stroke="#666" stroke-width="0.4"/>
<line x1="634.32" y1="358.9" x2="634.32" y2="357.7" stroke="#666" stroke-width="0.4"/>
<text x="577.8" y="310.75" font-size="4.8" text-anchor="end" fill="#333">3.6</text>
<text x="642.75" y="365.6" font-size="4.8" text-anchor="middle" fill="#333">3.6</text>
<line x1="579.2" y1="309.05" x2="580.4" y2="309.05" stroke="#666" stroke-width="0.4"/>
<line x1="642.75" y1="358.9" x2="642.75" y2="357.7" stroke="#666" stroke-width="0.4"/>
<text x="577.8" y="304.02" font-size="4.8" text-anchor="end" fill="#333">4.0</text>
<text x="651.19" y="365.6" font-size="4.8" text-anchor="middle" fill="#333">4.0</text>
<line x1="579.2" y1="302.31" x2="580.4" y2="302.31" stroke="#666" stroke-width="0.4"/>
<line x1="651.19" y1="358.9" x2="651.19" y2="357.7" stroke="#666" stroke-width="0.4"/>
<text x="615.6" y="371.07" font-size="5" text-anchor="middle" fill="#333" textLength="49.3" lengthAdjust="spacingAndGlyphs">True concentration (%)</text>
<text x="565.2" y="329.67" font-size="5" text-anchor="middle" fill="#333" transform="rotate(-90 565.2 327.9)" textLength="60" lengthAdjust="spacingAndGlyphs">Predicted concentration (%)</text>
<line x1="583.7" y1="356.2" x2="651.19" y2="302.31" stroke="#6b7cc8" stroke-width="0.6"/>
<rect x="582.9" y="355.4" width="1.6" height="1.6" fill="#4a5fc0"/>
<rect x="599.77" y="341.93" width="1.6" height="1.6" fill="#4a5fc0"/>
<rect x="616.64" y="328.46" width="1.6" height="1.6" fill="#4a5fc0"/>
<rect x="633.52" y="314.98" width="1.6" height="1.6" fill="#4a5fc0"/>
<rect x="650.39" y="301.51" width="1.6" height="1.6" fill="#4a5fc0"/>
<line x1="581" y1="300" x2="589.2" y2="300" stroke="#8a94d0" stroke-width="0.5"/>
<text x="591" y="301.7" font-size="5.2" fill="#333">H<tspan font-size="3.6" dy="1.2">2</tspan><tspan dy="-1.2"> concentration</tspan></text>
<circle cx="585.5" cy="309.1" r="1" fill="#ffffff" stroke="#4a5fc0" stroke-width="0.5"/>
<text x="591.2" y="310.95" font-size="5.2" fill="#333" textLength="46.9" lengthAdjust="spacingAndGlyphs">Predict concentration</text>
<text x="4.6" y="421.57" font-size="14" font-weight="bold" fill="#2a1a16">f</text>
<rect x="81.9" y="409.4" width="231.5" height="39.7" fill="none" stroke="#4a4a4a" stroke-width="1.1"/>
<line x1="81.9" y1="409.6" x2="313.4" y2="409.6" stroke="#555" stroke-width="1.6"/>
<rect x="81.9" y="452.6" width="231.5" height="39.2" fill="none" stroke="#4a4a4a" stroke-width="1.1"/>
<line x1="81.9" y1="452.8" x2="313.4" y2="452.8" stroke="#555" stroke-width="1.6"/>
<rect x="81.9" y="494.9" width="231.5" height="40.2" fill="none" stroke="#4a4a4a" stroke-width="1.1"/>
<line x1="81.9" y1="495.1" x2="313.4" y2="495.1" stroke="#555" stroke-width="1.6"/>
<text x="74.6" y="417.59" font-size="9" text-anchor="end" fill="#231f20">2047</text>
<line x1="79.4" y1="414.4" x2="81.9" y2="414.4" stroke="#333" stroke-width="0.7"/>
<text x="74.6" y="432.89" font-size="9" text-anchor="end" fill="#231f20">2044</text>
<line x1="79.4" y1="429.7" x2="81.9" y2="429.7" stroke="#333" stroke-width="0.7"/>
<text x="74.6" y="447.8" font-size="9" text-anchor="end" fill="#231f20">2041</text>
<line x1="79.4" y1="444.6" x2="81.9" y2="444.6" stroke="#333" stroke-width="0.7"/>
<line x1="80.5" y1="414.4" x2="81.9" y2="414.4" stroke="#333" stroke-width="0.5"/>
<line x1="80.5" y1="419.5" x2="81.9" y2="419.5" stroke="#333" stroke-width="0.5"/>
<line x1="80.5" y1="424.6" x2="81.9" y2="424.6" stroke="#333" stroke-width="0.5"/>
<line x1="80.5" y1="429.7" x2="81.9" y2="429.7" stroke="#333" stroke-width="0.5"/>
<line x1="80.5" y1="434.8" x2="81.9" y2="434.8" stroke="#333" stroke-width="0.5"/>
<line x1="80.5" y1="439.9" x2="81.9" y2="439.9" stroke="#333" stroke-width="0.5"/>
<line x1="80.5" y1="445" x2="81.9" y2="445" stroke="#333" stroke-width="0.5"/>
<text x="74.6" y="459.8" font-size="9" text-anchor="end" fill="#231f20">2077</text>
<line x1="79.4" y1="456.6" x2="81.9" y2="456.6" stroke="#333" stroke-width="0.7"/>
<text x="74.6" y="475.59" font-size="9" text-anchor="end" fill="#231f20">2074</text>
<line x1="79.4" y1="472.4" x2="81.9" y2="472.4" stroke="#333" stroke-width="0.7"/>
<text x="74.6" y="490.8" font-size="9" text-anchor="end" fill="#231f20">2071</text>
<line x1="79.4" y1="487.6" x2="81.9" y2="487.6" stroke="#333" stroke-width="0.7"/>
<line x1="80.5" y1="456.6" x2="81.9" y2="456.6" stroke="#333" stroke-width="0.5"/>
<line x1="80.5" y1="461.87" x2="81.9" y2="461.87" stroke="#333" stroke-width="0.5"/>
<line x1="80.5" y1="467.13" x2="81.9" y2="467.13" stroke="#333" stroke-width="0.5"/>
<line x1="80.5" y1="472.4" x2="81.9" y2="472.4" stroke="#333" stroke-width="0.5"/>
<line x1="80.5" y1="477.67" x2="81.9" y2="477.67" stroke="#333" stroke-width="0.5"/>
<line x1="80.5" y1="482.93" x2="81.9" y2="482.93" stroke="#333" stroke-width="0.5"/>
<line x1="80.5" y1="488.2" x2="81.9" y2="488.2" stroke="#333" stroke-width="0.5"/>
<text x="74.6" y="508.5" font-size="9" text-anchor="end" fill="#231f20">2122</text>
<line x1="79.4" y1="505.3" x2="81.9" y2="505.3" stroke="#333" stroke-width="0.7"/>
<text x="74.6" y="530.9" font-size="9" text-anchor="end" fill="#231f20">2119</text>
<line x1="79.4" y1="527.7" x2="81.9" y2="527.7" stroke="#333" stroke-width="0.7"/>
<line x1="80.5" y1="497.83" x2="81.9" y2="497.83" stroke="#333" stroke-width="0.5"/>
<line x1="80.5" y1="505.3" x2="81.9" y2="505.3" stroke="#333" stroke-width="0.5"/>
<line x1="80.5" y1="512.77" x2="81.9" y2="512.77" stroke="#333" stroke-width="0.5"/>
<line x1="80.5" y1="520.23" x2="81.9" y2="520.23" stroke="#333" stroke-width="0.5"/>
<line x1="80.5" y1="527.7" x2="81.9" y2="527.7" stroke="#333" stroke-width="0.5"/>
<text x="82" y="549" font-size="9" text-anchor="middle" fill="#231f20">0</text>
<line x1="82" y1="535.1" x2="82" y2="537.8" stroke="#333" stroke-width="0.7"/>
<text x="167.6" y="549" font-size="9" text-anchor="middle" fill="#231f20">1000</text>
<line x1="167.6" y1="535.1" x2="167.6" y2="537.8" stroke="#333" stroke-width="0.7"/>
<text x="253.2" y="549" font-size="9" text-anchor="middle" fill="#231f20">2000</text>
<line x1="253.2" y1="535.1" x2="253.2" y2="537.8" stroke="#333" stroke-width="0.7"/>
<line x1="124.8" y1="535.1" x2="124.8" y2="536.6" stroke="#333" stroke-width="0.6"/>
<line x1="210.4" y1="535.1" x2="210.4" y2="536.6" stroke="#333" stroke-width="0.6"/>
<line x1="296" y1="535.1" x2="296" y2="536.6" stroke="#333" stroke-width="0.6"/>
<text x="192.7" y="562.02" font-size="8.8" text-anchor="middle" fill="#231f20">Time (s)</text>
<text x="43.6" y="484.89" font-size="9" text-anchor="middle" fill="#231f20" transform="rotate(-90 43.6 481.7)">Resistance (Ω)</text>
<text x="302.6" y="419.97" font-size="9.2" font-weight="bold" text-anchor="end" fill="#7b3399">25 °C</text>
<text x="302.6" y="464.47" font-size="9.2" font-weight="bold" text-anchor="end" fill="#c8632c">50 °C</text>
<text x="302.6" y="505.37" font-size="9.2" font-weight="bold" text-anchor="end" fill="#c8632c">75 °C</text>
<text x="124.2" y="418.09" font-size="9" text-anchor="middle" fill="#2a2a2a">50 ppm</text>
<text x="185.5" y="422.19" font-size="9" text-anchor="middle" fill="#2a2a2a">25 ppm</text>
<text x="237.3" y="429.3" font-size="9" text-anchor="middle" fill="#2a2a2a">10 ppm</text>
<text x="288" y="430.89" font-size="9" text-anchor="middle" fill="#2a2a2a">5 ppm</text>
<text x="127.8" y="460.19" font-size="9" text-anchor="middle" fill="#2a2a2a">50 ppm</text>
<text x="175.8" y="464.19" font-size="9" text-anchor="middle" fill="#2a2a2a">25 ppm</text>
<text x="229.6" y="469.39" font-size="9" text-anchor="middle" fill="#2a2a2a">10 ppm</text>
<text x="273.2" y="473.39" font-size="9" text-anchor="middle" fill="#2a2a2a">5 ppm</text>
<text x="124.3" y="504.3" font-size="9" text-anchor="middle" fill="#2a2a2a">50 ppm</text>
<text x="178.2" y="508" font-size="9" text-anchor="middle" fill="#2a2a2a">25 ppm</text>
<text x="229.6" y="513.2" font-size="9" text-anchor="middle" fill="#2a2a2a">10 ppm</text>
<text x="282.6" y="518.5" font-size="9" text-anchor="middle" fill="#2a2a2a">5 ppm</text>
<polyline points="82,436.59 82.72,437.09 83.45,437.51 84.17,437.75 84.89,438.1 85.62,438.44 86.34,438.85 87.06,439.28 87.79,439.47 88.51,439.7 89.24,440.22 89.96,440.56 90.68,441 91.41,441.18 92.13,441.56 92.85,442.01 93.58,442.28 94.3,442.79 95.01,442.09 95.71,441.09 96.42,440.18 97.13,439.47 97.84,438.85 98.54,438 99.25,437.12 99.96,436.34 100.66,435.45 101.37,434.65 102.08,433.92 102.79,433.19 103.49,432.36 104.2,431.54 104.91,430.99 105.63,430.52 106.34,429.98 107.06,429.36 107.77,429.02 108.49,428.53 109.2,428.04 109.91,427.4 110.63,427.05 111.34,426.59 112.06,425.87 112.77,425.3 113.49,424.86 114.2,424.38 114.97,424.04 115.73,423.5 116.5,423.12 117.27,422.66 118.03,422.1 118.8,421.68 119.57,421.33 120.33,420.93 121.1,420.41 121.83,421.03 122.55,421.49 123.28,422.08 124.01,422.86 124.74,423.46 125.46,424.01 126.19,424.7 126.92,425.42 127.65,426.1 128.37,426.67 129.1,427.28 129.81,427.74 130.51,428.27 131.22,428.68 131.93,429.07 132.64,429.51 133.34,429.81 134.05,430.18 134.76,430.77 135.46,431.39 136.17,431.82 136.88,432.19 137.59,432.53 138.29,433.01 139,433.61 139.72,434.17 140.45,434.63 141.18,435.22 141.9,435.59 142.62,436.1 143.35,436.75 144.07,437.23 144.8,437.69 145.52,438.11 146.25,438.66 146.97,439.32 147.7,439.63 148.42,439.44 149.15,439.21 149.88,438.96 150.6,438.65 151.32,438.36 152.05,437.98 152.78,437.64 153.5,437.27 154.22,436.81 154.95,436.66 155.68,436.36 156.4,435.94 157.14,435.41 157.88,434.87 158.62,434.29 159.36,433.72 160.1,433.21 160.84,432.71 161.58,432.19 162.32,431.61 163.06,430.92 163.8,430.34 164.55,429.91 165.29,429.62 166.04,429.38 166.78,429.05 167.53,428.7 168.28,428.34 169.02,427.8 169.77,427.49 170.52,427.1 171.26,426.53 172.01,426.01 172.75,425.54 173.5,425.33 174.22,425.57 174.95,425.79 175.68,426.19 176.4,426.46 177.12,426.65 177.85,426.91 178.58,427.29 179.3,427.53 180.03,428.11 180.76,428.82 181.49,429.41 182.23,429.95 182.96,430.55 183.69,431.01 184.42,431.63 185.15,432.24 185.88,432.77 186.61,433.3 187.34,434.09 188.07,434.67 188.81,435.17 189.54,435.82 190.27,436.5 191,436.91 191.73,437.07 192.46,437.31 193.19,437.74 193.93,437.93 194.66,438.32 195.39,438.65 196.12,438.92 196.85,439.09 197.58,439.52 198.31,439.84 199.04,440.05 199.77,440.2 200.51,440.52 201.24,440.75 201.97,441.05 202.7,441.26 203.4,441.23 204.1,441.02 204.8,440.92 205.5,441.04 206.2,441.05 206.9,440.85 207.6,440.87 208.3,440.68 209,440.72 209.7,440.66 210.42,440.24 211.14,439.81 211.86,439.34 212.58,439.19 213.3,438.72 214.02,438.53 214.73,438.33 215.45,437.96 216.17,437.49 216.89,437.28 217.61,437.06 218.33,436.71 219.05,436.31 219.77,435.9 220.49,435.51 221.21,435.1 221.93,434.87 222.65,434.52 223.37,434.11 224.08,433.7 224.8,433.49 225.52,433.13 226.24,432.83 226.96,432.47 227.68,432.29 228.4,432.06 229.12,432.1 229.85,432.28 230.58,432.53 231.3,432.97 232.03,433.28 232.75,433.43 233.47,433.58 234.2,433.91 234.93,434.26 235.65,434.59 236.38,434.72 237.1,435.06 237.82,435.3 238.55,435.49 239.28,435.85 240,435.94 240.74,436.28 241.47,436.4 242.21,436.62 242.95,437.09 243.69,437.27 244.43,437.66 245.16,437.97 245.9,438.33 246.64,438.53 247.38,438.75 248.11,438.99 248.85,439.41 249.59,439.71 250.33,440.1 251.06,440.44 251.8,440.52 252.53,440.68 253.25,440.7 253.97,440.75 254.7,440.85 255.43,441.21 256.15,441.46 256.88,441.69 257.6,441.73 258.32,441.91 259.05,442.12 259.77,442.18 260.5,442.34 261.22,442.39 261.95,442.44 262.67,442.58 263.4,442.92 264.12,442.57 264.85,442.32 265.57,441.89 266.29,441.43 267.02,441.17 267.74,440.87 268.46,440.31 269.18,440.02 269.91,439.53 270.63,439.1 271.35,438.93 272.08,438.43 272.8,438.04 273.5,438.02 274.2,437.74 274.9,437.39 275.6,437.1 276.3,436.86 277,436.77 277.7,436.43 278.4,436.37 279.1,436.09 279.8,436 280.5,435.84 281.2,435.46 281.9,435.13 282.6,434.9 283.3,434.56 284,434.85 284.7,434.91 285.4,435.02 286.1,435.45 286.8,435.57 287.5,435.81 288.2,435.99 288.9,436.13 289.6,436.21 290.3,436.59 291,436.91 291.7,437.17 292.4,437.15 293.1,437.24 293.8,437.49 294.53,437.88 295.25,438.08 295.98,438.34 296.7,438.58 297.43,438.7 298.16,438.96 298.88,439.13 299.61,439.32 300.33,439.48 301.06,439.73 301.79,440.19 302.51,440.4 303.24,440.68 303.96,440.94 304.69,441.29 305.41,441.42 306.14,441.58 306.87,441.77 307.59,441.98 308.32,442.36 309.04,442.7 309.77,442.83 310.5,443.01 311.22,443.27 311.95,443.54 312.67,443.8 313.4,443.95" fill="none" stroke="#7d3798" stroke-width="1.2" stroke-linejoin="round"/>
<polyline points="82,485.07 82.74,485.38 83.48,485.09 84.22,485 84.96,485.45 85.7,485.72 86.44,485.9 87.18,485.86 87.92,486.07 88.66,486.25 89.4,486.41 90.11,486.38 90.81,486.6 91.52,486.8 92.23,487.21 92.94,487.7 93.64,488.05 94.35,488.11 95.06,488.16 95.76,488.18 96.47,488.14 97.18,488.19 97.89,488.57 98.59,488.8 99.3,489.05 100.01,489.07 100.71,488.73 101.42,488.41 102.13,487.9 102.84,487.34 103.54,487.05 104.25,486.64 104.96,486.49 105.66,486.56 106.37,486.28 107.08,485.69 107.79,485.64 108.49,485.42 109.2,485.12 109.94,482.65 110.68,480.06 111.42,477.48 112.16,474.65 112.9,472.29 113.61,471.35 114.33,469.89 115.04,468.94 115.76,467.93 116.47,466.75 117.19,465.65 117.9,464.55 118.65,464.82 119.39,464.74 120.14,464.9 120.89,464.73 121.63,464.95 122.38,465.11 123.13,464.96 123.87,464.94 124.62,465.16 125.37,465.18 126.11,465.07 126.86,464.85 127.61,464.8 128.35,465.01 129.1,464.82 129.88,465.39 130.65,465.44 131.43,465.96 132.2,466.01 132.97,466.53 133.75,466.79 134.53,466.93 135.3,467.12 136.04,468.9 136.78,470.63 137.52,472.2 138.26,473.77 139,475.59 139.71,476.34 140.41,476.78 141.12,476.89 141.83,477.58 142.54,478.11 143.24,478.72 143.95,478.83 144.66,479.41 145.36,479.52 146.07,480.12 146.78,480.43 147.49,480.77 148.19,481.53 148.9,481.71 149.61,481.53 150.31,481.51 151.02,481.02 151.73,480.6 152.44,480.64 153.14,480.29 153.85,480.14 154.56,479.53 155.26,479.26 155.97,478.87 156.68,478.83 157.39,478.34 158.09,478.46 158.8,477.87 159.58,477.17 160.35,475.96 161.12,475.01 161.9,474.4 162.68,473.27 163.45,472.24 164.22,471.55 165,470.59 165.71,470.06 166.43,470.19 167.14,469.64 167.86,469.13 168.57,468.88 169.29,468.78 170,468.67 170.73,468.51 171.46,468.59 172.19,468.49 172.93,468.72 173.66,469.09 174.39,469.34 175.12,469.63 175.85,469.75 176.58,469.93 177.31,469.98 178.04,469.91 178.77,469.76 179.51,469.97 180.24,469.93 180.97,469.82 181.7,470 182.42,470.63 183.13,470.69 183.85,471.12 184.56,471.4 185.28,471.77 185.99,471.9 186.71,472.59 187.42,472.72 188.14,473.13 188.85,473.4 189.57,473.44 190.28,473.93 191,474.09 191.7,474.5 192.4,474.94 193.1,475.51 193.8,476.02 194.5,476.88 195.2,477.53 195.9,478.43 196.6,479.15 197.3,479.85 198,480.02 198.7,480.47 199.4,480.85 200.1,481.49 200.8,482.12 201.5,482.82 202.22,482.67 202.95,482.23 203.67,481.99 204.4,481.83 205.12,481.35 205.84,481 206.57,480.94 207.29,480.64 208.01,480.76 208.74,480.46 209.46,480.13 210.19,479.9 210.91,479.71 211.63,479.52 212.36,479.51 213.08,479.39 213.8,479.15 214.53,479.13 215.25,478.78 215.98,478.92 216.7,478.95 217.4,478.49 218.1,477.85 218.8,477.33 219.5,476.87 220.2,476.1 220.9,475.67 221.6,475.29 222.3,474.68 223,474.07 223.7,473.95 224.42,473.92 225.15,474.01 225.87,474.31 226.59,474.32 227.32,474.15 228.04,474.47 228.76,474.31 229.48,474.01 230.21,474.25 230.93,474.05 231.65,474.07 232.38,474.41 233.1,474.53 233.87,474.45 234.63,474.78 235.4,475.05 236.17,475.37 236.93,475.5 237.7,475.91 238.47,475.96 239.23,476.22 240,476.54 240.72,477.23 241.45,477.25 242.17,477.81 242.89,477.93 243.62,478.36 244.34,478.64 245.06,478.98 245.78,479.49 246.51,479.71 247.23,479.8 247.95,479.99 248.68,480.21 249.4,480.93 250.14,480.88 250.87,480.97 251.61,480.81 252.35,480.24 253.08,480.22 253.82,480.21 254.56,480.1 255.29,479.84 256.03,479.53 256.77,479.34 257.51,479.37 258.24,479 258.98,478.87 259.72,478.7 260.45,478.81 261.19,478.73 261.93,478.69 262.66,478.54 263.4,478.07 264.1,477.76 264.81,477.7 265.51,477.49 266.22,477.43 266.92,477.52 267.63,477.68 268.33,477.55 269.04,477.58 269.75,477.13 270.45,476.98 271.15,477.25 271.86,476.86 272.56,476.76 273.27,476.46 273.98,476.26 274.68,476.59 275.38,476.82 276.09,476.72 276.8,476.31 277.5,476.14 278.22,476.22 278.93,476.6 279.65,476.91 280.36,477.02 281.08,477.2 281.79,477.14 282.51,477.43 283.22,477.92 283.94,478.17 284.65,477.99 285.37,478.21 286.08,478.53 286.8,478.52 287.53,478.89 288.26,478.9 288.99,479.09 289.73,479.07 290.46,479.46 291.19,479.6 291.92,479.61 292.65,479.39 293.38,479.49 294.11,479.34 294.84,479.63 295.57,480.02 296.31,479.88 297.04,480.03 297.77,480.15 298.5,480.22 299.21,480.19 299.92,480.23 300.63,480.04 301.34,479.71 302.05,479.73 302.76,479.28 303.47,479.19 304.18,479 304.89,478.88 305.6,478.78 306.3,478.27 307.01,478.13 307.72,477.83 308.43,477.74 309.14,477.79 309.85,477.54 310.56,476.94 311.27,476.78 311.98,476.75 312.69,476.76 313.4,476.55" fill="none" stroke="#c8733c" stroke-width="1.2" stroke-linejoin="round"/>
<polyline points="82,527.54 82.74,527.6 83.47,527.52 84.21,527.6 84.94,527.65 85.68,527.33 86.41,527.1 87.15,527.44 87.88,527.29 88.62,527.17 89.35,527.54 90.09,527.44 90.82,527.59 91.56,527.45 92.29,527.45 93.03,527.15 93.76,527.24 94.5,527.43 95.23,527.46 95.96,527.66 96.69,527.78 97.42,527.53 98.15,527.84 98.88,527.98 99.61,527.93 100.34,527.78 101.06,528.24 101.79,528.32 102.52,528.56 103.25,528.85 103.98,528.97 104.71,529.2 105.44,529.08 106.17,529.29 106.9,529.25 107.73,525.48 108.57,521.6 109.4,517.22 110.14,515.11 110.88,513.15 111.62,511.66 112.36,509.7 113.1,507.89 113.8,507.73 114.5,507.77 115.2,507.71 115.9,507.66 116.6,507.77 117.3,507.83 118,508.06 118.7,508.07 119.4,508.22 120.12,508.26 120.83,508.37 121.55,508.25 122.26,507.87 122.98,508.06 123.69,508.23 124.41,508.3 125.13,508.14 125.84,508.13 126.56,507.83 127.27,508.02 127.99,507.97 128.71,507.77 129.42,507.52 130.14,507.85 130.85,508.12 131.57,507.75 132.28,507.95 133,507.84 133.74,509.99 134.48,512.32 135.22,514.96 135.96,517.56 136.7,519.57 137.43,519.91 138.16,519.86 138.89,520.32 139.62,520.45 140.35,520.94 141.08,521.39 141.81,521.46 142.54,521.88 143.26,521.81 143.99,521.71 144.72,522.06 145.45,522.01 146.18,522.17 146.91,522.47 147.64,522.87 148.37,522.92 149.1,522.97 149.83,523.51 150.56,523.57 151.29,524.06 152.02,524.37 152.75,524.31 153.48,524.38 154.22,524.52 154.95,524.75 155.68,524.91 156.41,525.05 157.14,525.23 157.87,525.59 158.6,525.61 159.32,523.14 160.05,520.88 160.78,518.3 161.5,515.85 162.28,515.74 163.05,515.21 163.82,514.72 164.6,513.92 165.38,513.5 166.15,513.16 166.92,512.44 167.7,512.17 168.41,512.3 169.12,512.04 169.83,512.22 170.53,512.23 171.24,512.37 171.95,512.25 172.66,512.39 173.37,512.5 174.08,512.13 174.79,511.94 175.5,512.19 176.2,512.51 176.91,512.28 177.62,512.26 178.33,512.33 179.04,512.21 179.75,512.16 180.46,512.11 181.17,512.11 181.87,512.24 182.58,512.14 183.29,512.13 184,512.36 184.7,513.05 185.4,514.19 186.1,515.38 186.8,516.23 187.5,517.09 188.2,518.36 188.9,519.18 189.6,520.04 190.3,521.1 191,522.3 191.72,522.22 192.44,522.36 193.16,522.51 193.88,522.97 194.6,523.06 195.32,523.43 196.03,523.3 196.75,523.39 197.47,523.69 198.19,524.07 198.91,524.1 199.63,524.05 200.35,524.01 201.07,524.3 201.79,524.33 202.51,524.78 203.23,525.13 203.95,525.01 204.67,525.05 205.38,525.46 206.1,525.67 206.82,525.95 207.54,525.9 208.26,525.81 208.98,525.91 209.7,526.34 210.48,525.32 211.27,524.4 212.05,523.55 212.83,522.7 213.62,521.83 214.4,521.27 215.13,520.71 215.86,520.17 216.59,520.29 217.32,520.21 218.06,520.11 218.79,519.6 219.52,519.49 220.25,519.3 220.98,518.65 221.71,518.45 222.44,518.28 223.18,517.95 223.91,517.55 224.64,517.06 225.37,516.69 226.1,516.28 226.82,516.19 227.53,516.49 228.25,516.52 228.96,516.88 229.68,516.68 230.39,517.1 231.11,517.26 231.82,517.53 232.54,517.71 233.25,517.86 233.97,517.78 234.68,517.44 235.4,517.7 236.1,518 236.8,518.48 237.5,519.2 238.2,519.76 238.9,520.25 239.6,521.07 240.3,521.59 241,521.95 241.7,522.33 242.4,523.14 243.12,523.22 243.84,523.52 244.56,523.5 245.28,523.46 246,523.69 246.72,524.07 247.43,523.97 248.15,524.34 248.87,524.7 249.59,524.91 250.31,525.11 251.03,524.8 251.75,525.05 252.47,525.4 253.19,525.19 253.91,525.25 254.63,525.35 255.35,525.63 256.07,525.79 256.78,525.98 257.5,526.34 258.22,526.15 258.94,526.13 259.66,526.22 260.38,526.34 261.1,526.44 261.8,526.71 262.5,526.7 263.2,526.14 263.9,525.96 264.6,525.64 265.3,525.35 266,525.11 266.7,525.04 267.4,524.87 268.1,524.53 268.82,524.2 269.55,524.01 270.27,523.7 270.99,523.7 271.72,523.73 272.44,523.48 273.16,523.07 273.88,522.82 274.61,522.71 275.33,522.72 276.05,522.75 276.78,522.47 277.5,522.47 278.22,522.53 278.93,522.47 279.65,522.42 280.36,522.49 281.08,522.68 281.79,522.64 282.51,522.8 283.22,522.78 283.94,522.66 284.65,522.79 285.37,522.98 286.08,522.74 286.8,522.83 287.52,523.07 288.23,523.57 288.95,523.99 289.66,523.99 290.38,524.39 291.09,524.66 291.81,524.58 292.52,524.75 293.24,524.73 293.95,525.21 294.67,525.5 295.38,525.9 296.1,526.16 296.82,526.24 297.54,526.36 298.26,526.39 298.98,526.17 299.7,526.38 300.43,526.2 301.15,526.22 301.87,526.66 302.59,526.53 303.31,526.53 304.03,526.58 304.75,527.13 305.47,527.08 306.19,527.01 306.91,527.5 307.63,527.41 308.35,527.83 309.07,528.03 309.8,528.3 310.52,528.57 311.24,528.56 311.96,528.73 312.68,528.42 313.4,528.73" fill="none" stroke="#c8733c" stroke-width="1.2" stroke-linejoin="round"/>
<text x="333.8" y="420.43" font-size="15" font-weight="bold" fill="#2a1a16">g</text>
<line x1="385.4" y1="412.8" x2="385.4" y2="437.7" stroke="#333" stroke-width="1"/>
<line x1="657.4" y1="412.8" x2="657.4" y2="437.7" stroke="#333" stroke-width="1"/>
<line x1="385.4" y1="413.2" x2="390" y2="413.2" stroke="#333" stroke-width="1"/>
<line x1="652.4" y1="413.2" x2="657.4" y2="413.2" stroke="#333" stroke-width="1"/>
<line x1="384.9" y1="437.7" x2="657.9" y2="437.7" stroke="#333" stroke-width="1.1"/>
<text x="381.2" y="440.8" font-size="9" text-anchor="end" fill="#231f20">0</text>
<line x1="383" y1="437.6" x2="385.4" y2="437.6" stroke="#333" stroke-width="0.7"/>
<text x="381.2" y="429.74" font-size="9" text-anchor="end" fill="#231f20">2</text>
<line x1="383" y1="426.54" x2="385.4" y2="426.54" stroke="#333" stroke-width="0.7"/>
<text x="381.2" y="418.68" font-size="9" text-anchor="end" fill="#231f20">4</text>
<line x1="383" y1="415.48" x2="385.4" y2="415.48" stroke="#333" stroke-width="0.7"/>
<line x1="384.1" y1="432.07" x2="385.4" y2="432.07" stroke="#333" stroke-width="0.5"/>
<line x1="384.1" y1="421.01" x2="385.4" y2="421.01" stroke="#333" stroke-width="0.5"/>
<rect x="399.4" y="436.56" width="10.4" height="1.04" fill="#777778"/>
<text x="404.6" y="415.53" font-size="7.4" font-weight="bold" text-anchor="middle" fill="#333">0.2%</text>
<rect x="420.65" y="437.08" width="10.4" height="0.52" fill="#777778"/>
<text x="425.85" y="415.53" font-size="7.4" font-weight="bold" text-anchor="middle" fill="#333">0.1%</text>
<rect x="441.9" y="423.04" width="10.4" height="14.56" fill="#777778"/>
<text x="447.1" y="415.53" font-size="7.4" font-weight="bold" text-anchor="middle" fill="#333">2.8%</text>
<rect x="463.15" y="416.8" width="10.4" height="20.8" fill="#777778"/>
<text x="468.35" y="415.53" font-size="7.4" font-weight="bold" text-anchor="middle" fill="#333">4.0%</text>
<rect x="484.4" y="435.52" width="10.4" height="2.08" fill="#777778"/>
<text x="489.6" y="415.53" font-size="7.4" font-weight="bold" text-anchor="middle" fill="#333">0.4%</text>
<rect x="505.65" y="433.44" width="10.4" height="4.16" fill="#777778"/>
<text x="510.85" y="415.53" font-size="7.4" font-weight="bold" text-anchor="middle" fill="#333">0.8%</text>
<rect x="526.9" y="420.96" width="10.4" height="16.64" fill="#777778"/>
<text x="532.1" y="415.53" font-size="7.4" font-weight="bold" text-anchor="middle" fill="#333">3.2%</text>
<rect x="548.15" y="429.28" width="10.4" height="8.32" fill="#777778"/>
<text x="553.35" y="415.53" font-size="7.4" font-weight="bold" text-anchor="middle" fill="#333">1.6%</text>
<rect x="569.4" y="431.36" width="10.4" height="6.24" fill="#777778"/>
<text x="574.6" y="415.53" font-size="7.4" font-weight="bold" text-anchor="middle" fill="#333">1.2%</text>
<rect x="590.65" y="427.2" width="10.4" height="10.4" fill="#777778"/>
<text x="595.85" y="415.53" font-size="7.4" font-weight="bold" text-anchor="middle" fill="#333">2.0%</text>
<rect x="611.9" y="418.88" width="10.4" height="18.72" fill="#777778"/>
<text x="617.1" y="415.53" font-size="7.4" font-weight="bold" text-anchor="middle" fill="#333">3.6%</text>
<rect x="633.15" y="425.12" width="10.4" height="12.48" fill="#777778"/>
<text x="638.35" y="415.53" font-size="7.4" font-weight="bold" text-anchor="middle" fill="#333">2.4%</text>
<rect x="385.4" y="446.6" width="273.1" height="32.1" fill="none" stroke="#333" stroke-width="1"/>
<text x="381.2" y="481.8" font-size="9" text-anchor="end" fill="#231f20">0</text>
<line x1="383" y1="478.6" x2="385.4" y2="478.6" stroke="#333" stroke-width="0.7"/>
<text x="381.2" y="454.71" font-size="9" text-anchor="end" fill="#231f20">3</text>
<line x1="383" y1="451.51" x2="385.4" y2="451.51" stroke="#333" stroke-width="0.7"/>
<line x1="384.1" y1="469.57" x2="385.4" y2="469.57" stroke="#333" stroke-width="0.5"/>
<line x1="384.1" y1="460.54" x2="385.4" y2="460.54" stroke="#333" stroke-width="0.5"/>
<rect x="399.4" y="473" width="10.4" height="5.6" fill="#ea5a9c"/>
<rect x="420.65" y="474.63" width="10.4" height="3.97" fill="#ea5a9c"/>
<rect x="441.9" y="459.91" width="10.4" height="18.69" fill="#ea5a9c"/>
<rect x="463.15" y="456.66" width="10.4" height="21.94" fill="#ea5a9c"/>
<rect x="484.4" y="471.2" width="10.4" height="7.4" fill="#ea5a9c"/>
<rect x="505.65" y="468.4" width="10.4" height="10.2" fill="#ea5a9c"/>
<rect x="526.9" y="459" width="10.4" height="19.6" fill="#ea5a9c"/>
<rect x="548.15" y="464.24" width="10.4" height="14.36" fill="#ea5a9c"/>
<rect x="569.4" y="466.41" width="10.4" height="12.19" fill="#ea5a9c"/>
<rect x="590.65" y="463.34" width="10.4" height="15.26" fill="#ea5a9c"/>
<rect x="611.9" y="457.92" width="10.4" height="20.68" fill="#ea5a9c"/>
<rect x="633.15" y="461.26" width="10.4" height="17.34" fill="#ea5a9c"/>
<rect x="385.4" y="487.2" width="271.9" height="48.9" fill="none" stroke="#333" stroke-width="1"/>
<text x="380.8" y="536.3" font-size="9" text-anchor="end" fill="#231f20">2105</text>
<line x1="383" y1="533.1" x2="385.4" y2="533.1" stroke="#333" stroke-width="0.7"/>
<text x="380.8" y="517.86" font-size="9" text-anchor="end" fill="#231f20">2130</text>
<line x1="383" y1="514.66" x2="385.4" y2="514.66" stroke="#333" stroke-width="0.7"/>
<text x="380.8" y="499.42" font-size="9" text-anchor="end" fill="#231f20">2155</text>
<line x1="383" y1="496.22" x2="385.4" y2="496.22" stroke="#333" stroke-width="0.7"/>
<line x1="384.1" y1="523.88" x2="385.4" y2="523.88" stroke="#333" stroke-width="0.5"/>
<line x1="384.1" y1="505.44" x2="385.4" y2="505.44" stroke="#333" stroke-width="0.5"/>
<text x="448" y="549.5" font-size="9" text-anchor="middle" fill="#231f20">500</text>
<line x1="448" y1="536.1" x2="448" y2="538.6" stroke="#333" stroke-width="0.7"/>
<text x="517.7" y="549.5" font-size="9" text-anchor="middle" fill="#231f20">1000</text>
<line x1="517.7" y1="536.1" x2="517.7" y2="538.6" stroke="#333" stroke-width="0.7"/>
<text x="587.4" y="549.5" font-size="9" text-anchor="middle" fill="#231f20">1500</text>
<line x1="587.4" y1="536.1" x2="587.4" y2="538.6" stroke="#333" stroke-width="0.7"/>
<text x="657.1" y="549.5" font-size="9" text-anchor="middle" fill="#231f20">2000</text>
<line x1="657.1" y1="536.1" x2="657.1" y2="538.6" stroke="#333" stroke-width="0.7"/>
<line x1="413.15" y1="536.1" x2="413.15" y2="537.4" stroke="#333" stroke-width="0.5"/>
<line x1="482.85" y1="536.1" x2="482.85" y2="537.4" stroke="#333" stroke-width="0.5"/>
<line x1="552.55" y1="536.1" x2="552.55" y2="537.4" stroke="#333" stroke-width="0.5"/>
<line x1="622.25" y1="536.1" x2="622.25" y2="537.4" stroke="#333" stroke-width="0.5"/>
<text x="518.6" y="562.72" font-size="8.8" text-anchor="middle" fill="#231f20">Time (s)</text>
<text x="0" y="0" font-size="8.8" fill="#231f20" text-anchor="middle" transform="translate(364.6 425.2) rotate(-90)">[H<tspan font-size="6.2" dy="2">2</tspan><tspan dy="-2">](%)</tspan></text>
<text x="348.8" y="463.82" font-size="8.8" text-anchor="middle" fill="#231f20" transform="rotate(-90 348.8 460.7)">Response</text>
<text x="361.8" y="463.82" font-size="8.8" text-anchor="middle" fill="#231f20" transform="rotate(-90 361.8 460.7)">rate (%)</text>
<text x="338.2" y="515.12" font-size="8.8" text-anchor="middle" fill="#231f20" transform="rotate(-90 338.2 512)">Resistance</text>
<text x="350.6" y="515.12" font-size="8.8" text-anchor="middle" fill="#231f20" transform="rotate(-90 350.6 512)">(Ω)</text>
<path d="M386.6 533 L397 533 Q398.6 533 398.6 531.4 L398.6 525.5 Q398.6 523.9 400.2 523.9 L406.6 524.1 Q408.2 524.1 408.2 525.7 L408.5 530.9 Q408.7 533 411 533 L418.06 533 Q419.66 533 419.66 531.4 L419.66 527.6 Q419.66 526 421.26 526 L427.66 526.2 Q429.26 526.2 429.26 527.8 L429.56 530.9 Q429.76 533 432.06 533 L439.12 533 Q440.72 533 440.72 531.4 L440.72 505 Q440.72 503.4 442.32 503.4 L448.72 503.6 Q450.32 503.6 450.32 505.2 L450.62 530.9 Q450.82 533 453.12 533 L460.18 533 Q461.78 533 461.78 531.4 L461.78 498.6 Q461.78 497 463.38 497 L469.78 497.2 Q471.38 497.2 471.38 498.8 L471.68 530.9 Q471.88 533 474.18 533 L481.24 533 Q482.84 533 482.84 531.4 L482.84 520.5 Q482.84 518.9 484.44 518.9 L490.84 519.1 Q492.44 519.1 492.44 520.7 L492.74 530.9 Q492.94 533 495.24 533 L502.3 533 Q503.9 533 503.9 531.4 L503.9 517.5 Q503.9 515.9 505.5 515.9 L511.9 516.1 Q513.5 516.1 513.5 517.7 L513.8 530.9 Q514 533 516.3 533 L523.36 533 Q524.96 533 524.96 531.4 L524.96 503.2 Q524.96 501.6 526.56 501.6 L532.96 501.8 Q534.56 501.8 534.56 503.4 L534.86 530.9 Q535.06 533 537.36 533 L544.42 533 Q546.02 533 546.02 531.4 L546.02 510.9 Q546.02 509.3 547.62 509.3 L554.02 509.5 Q555.62 509.5 555.62 511.1 L555.92 530.9 Q556.12 533 558.42 533 L565.48 533 Q567.08 533 567.08 531.4 L567.08 513 Q567.08 511.4 568.68 511.4 L575.08 511.6 Q576.68 511.6 576.68 513.2 L576.98 530.9 Q577.18 533 579.48 533 L586.54 533 Q588.14 533 588.14 531.4 L588.14 508.5 Q588.14 506.9 589.74 506.9 L596.14 507.1 Q597.74 507.1 597.74 508.7 L598.04 530.9 Q598.24 533 600.54 533 L607.6 533 Q609.2 533 609.2 531.4 L609.2 501.1 Q609.2 499.5 610.8 499.5 L617.2 499.7 Q618.8 499.7 618.8 501.3 L619.1 530.9 Q619.3 533 621.6 533 L628.66 533 Q630.26 533 630.26 531.4 L630.26 506.1 Q630.26 504.5 631.86 504.5 L638.26 504.7 Q639.86 504.7 639.86 506.3 L640.16 530.9 Q640.36 533 642.66 533 L656.4 533" fill="none" stroke="#17877f" stroke-width="3.7" stroke-linejoin="round"/>
<circle cx="440.52" cy="530.5" r="1.45" fill="#ffffff" stroke="#17877f" stroke-width="0.85"/>
<circle cx="440.52" cy="527.5" r="1.45" fill="#ffffff" stroke="#17877f" stroke-width="0.85"/>
<circle cx="440.52" cy="524.5" r="1.45" fill="#ffffff" stroke="#17877f" stroke-width="0.85"/>
<circle cx="440.52" cy="521.5" r="1.45" fill="#ffffff" stroke="#17877f" stroke-width="0.85"/>
<circle cx="440.52" cy="518.5" r="1.45" fill="#ffffff" stroke="#17877f" stroke-width="0.85"/>
<circle cx="440.52" cy="515.5" r="1.45" fill="#ffffff" stroke="#17877f" stroke-width="0.85"/>
<circle cx="440.52" cy="512.5" r="1.45" fill="#ffffff" stroke="#17877f" stroke-width="0.85"/>
<circle cx="452.02" cy="505.9" r="1.45" fill="#ffffff" stroke="#17877f" stroke-width="0.85"/>
<circle cx="452.02" cy="508.9" r="1.45" fill="#ffffff" stroke="#17877f" stroke-width="0.85"/>
<circle cx="452.02" cy="511.9" r="1.45" fill="#ffffff" stroke="#17877f" stroke-width="0.85"/>
<circle cx="452.02" cy="514.9" r="1.45" fill="#ffffff" stroke="#17877f" stroke-width="0.85"/>
<circle cx="452.02" cy="517.9" r="1.45" fill="#ffffff" stroke="#17877f" stroke-width="0.85"/>
<circle cx="452.02" cy="520.9" r="1.45" fill="#ffffff" stroke="#17877f" stroke-width="0.85"/>
<circle cx="461.58" cy="530.5" r="1.45" fill="#ffffff" stroke="#17877f" stroke-width="0.85"/>
<circle cx="461.58" cy="527.5" r="1.45" fill="#ffffff" stroke="#17877f" stroke-width="0.85"/>
<circle cx="461.58" cy="524.5" r="1.45" fill="#ffffff" stroke="#17877f" stroke-width="0.85"/>
<circle cx="461.58" cy="521.5" r="1.45" fill="#ffffff" stroke="#17877f" stroke-width="0.85"/>
<circle cx="461.58" cy="518.5" r="1.45" fill="#ffffff" stroke="#17877f" stroke-width="0.85"/>
<circle cx="461.58" cy="515.5" r="1.45" fill="#ffffff" stroke="#17877f" stroke-width="0.85"/>
<circle cx="461.58" cy="512.5" r="1.45" fill="#ffffff" stroke="#17877f" stroke-width="0.85"/>
<circle cx="461.58" cy="509.5" r="1.45" fill="#ffffff" stroke="#17877f" stroke-width="0.85"/>
<circle cx="473.08" cy="499.5" r="1.45" fill="#ffffff" stroke="#17877f" stroke-width="0.85"/>
<circle cx="473.08" cy="502.5" r="1.45" fill="#ffffff" stroke="#17877f" stroke-width="0.85"/>
<circle cx="473.08" cy="505.5" r="1.45" fill="#ffffff" stroke="#17877f" stroke-width="0.85"/>
<circle cx="473.08" cy="508.5" r="1.45" fill="#ffffff" stroke="#17877f" stroke-width="0.85"/>
<circle cx="473.08" cy="511.5" r="1.45" fill="#ffffff" stroke="#17877f" stroke-width="0.85"/>
<circle cx="473.08" cy="514.5" r="1.45" fill="#ffffff" stroke="#17877f" stroke-width="0.85"/>
<circle cx="473.08" cy="517.5" r="1.45" fill="#ffffff" stroke="#17877f" stroke-width="0.85"/>
<circle cx="524.76" cy="530.5" r="1.45" fill="#ffffff" stroke="#17877f" stroke-width="0.85"/>
<circle cx="524.76" cy="527.5" r="1.45" fill="#ffffff" stroke="#17877f" stroke-width="0.85"/>
<circle cx="524.76" cy="524.5" r="1.45" fill="#ffffff" stroke="#17877f" stroke-width="0.85"/>
<circle cx="524.76" cy="521.5" r="1.45" fill="#ffffff" stroke="#17877f" stroke-width="0.85"/>
<circle cx="524.76" cy="518.5" r="1.45" fill="#ffffff" stroke="#17877f" stroke-width="0.85"/>
<circle cx="524.76" cy="515.5" r="1.45" fill="#ffffff" stroke="#17877f" stroke-width="0.85"/>
<circle cx="524.76" cy="512.5" r="1.45" fill="#ffffff" stroke="#17877f" stroke-width="0.85"/>
<circle cx="536.26" cy="504.1" r="1.45" fill="#ffffff" stroke="#17877f" stroke-width="0.85"/>
<circle cx="536.26" cy="507.1" r="1.45" fill="#ffffff" stroke="#17877f" stroke-width="0.85"/>
<circle cx="536.26" cy="510.1" r="1.45" fill="#ffffff" stroke="#17877f" stroke-width="0.85"/>
<circle cx="536.26" cy="513.1" r="1.45" fill="#ffffff" stroke="#17877f" stroke-width="0.85"/>
<circle cx="536.26" cy="516.1" r="1.45" fill="#ffffff" stroke="#17877f" stroke-width="0.85"/>
<circle cx="536.26" cy="519.1" r="1.45" fill="#ffffff" stroke="#17877f" stroke-width="0.85"/>
<circle cx="545.82" cy="530.5" r="1.45" fill="#ffffff" stroke="#17877f" stroke-width="0.85"/>
<circle cx="545.82" cy="527.5" r="1.45" fill="#ffffff" stroke="#17877f" stroke-width="0.85"/>
<circle cx="545.82" cy="524.5" r="1.45" fill="#ffffff" stroke="#17877f" stroke-width="0.85"/>
<circle cx="545.82" cy="521.5" r="1.45" fill="#ffffff" stroke="#17877f" stroke-width="0.85"/>
<circle cx="545.82" cy="518.5" r="1.45" fill="#ffffff" stroke="#17877f" stroke-width="0.85"/>
<circle cx="557.32" cy="511.8" r="1.45" fill="#ffffff" stroke="#17877f" stroke-width="0.85"/>
<circle cx="557.32" cy="514.8" r="1.45" fill="#ffffff" stroke="#17877f" stroke-width="0.85"/>
<circle cx="557.32" cy="517.8" r="1.45" fill="#ffffff" stroke="#17877f" stroke-width="0.85"/>
<circle cx="557.32" cy="520.8" r="1.45" fill="#ffffff" stroke="#17877f" stroke-width="0.85"/>
<circle cx="566.88" cy="530.5" r="1.45" fill="#ffffff" stroke="#17877f" stroke-width="0.85"/>
<circle cx="566.88" cy="527.5" r="1.45" fill="#ffffff" stroke="#17877f" stroke-width="0.85"/>
<circle cx="566.88" cy="524.5" r="1.45" fill="#ffffff" stroke="#17877f" stroke-width="0.85"/>
<circle cx="566.88" cy="521.5" r="1.45" fill="#ffffff" stroke="#17877f" stroke-width="0.85"/>
<circle cx="566.88" cy="518.5" r="1.45" fill="#ffffff" stroke="#17877f" stroke-width="0.85"/>
<circle cx="578.38" cy="513.9" r="1.45" fill="#ffffff" stroke="#17877f" stroke-width="0.85"/>
<circle cx="578.38" cy="516.9" r="1.45" fill="#ffffff" stroke="#17877f" stroke-width="0.85"/>
<circle cx="578.38" cy="519.9" r="1.45" fill="#ffffff" stroke="#17877f" stroke-width="0.85"/>
<circle cx="578.38" cy="522.9" r="1.45" fill="#ffffff" stroke="#17877f" stroke-width="0.85"/>
<circle cx="587.94" cy="530.5" r="1.45" fill="#ffffff" stroke="#17877f" stroke-width="0.85"/>
<circle cx="587.94" cy="527.5" r="1.45" fill="#ffffff" stroke="#17877f" stroke-width="0.85"/>
<circle cx="587.94" cy="524.5" r="1.45" fill="#ffffff" stroke="#17877f" stroke-width="0.85"/>
<circle cx="587.94" cy="521.5" r="1.45" fill="#ffffff" stroke="#17877f" stroke-width="0.85"/>
<circle cx="587.94" cy="518.5" r="1.45" fill="#ffffff" stroke="#17877f" stroke-width="0.85"/>
<circle cx="587.94" cy="515.5" r="1.45" fill="#ffffff" stroke="#17877f" stroke-width="0.85"/>
<circle cx="599.44" cy="509.4" r="1.45" fill="#ffffff" stroke="#17877f" stroke-width="0.85"/>
<circle cx="599.44" cy="512.4" r="1.45" fill="#ffffff" stroke="#17877f" stroke-width="0.85"/>
<circle cx="599.44" cy="515.4" r="1.45" fill="#ffffff" stroke="#17877f" stroke-width="0.85"/>
<circle cx="599.44" cy="518.4" r="1.45" fill="#ffffff" stroke="#17877f" stroke-width="0.85"/>
<circle cx="599.44" cy="521.4" r="1.45" fill="#ffffff" stroke="#17877f" stroke-width="0.85"/>
<circle cx="609" cy="530.5" r="1.45" fill="#ffffff" stroke="#17877f" stroke-width="0.85"/>
<circle cx="609" cy="527.5" r="1.45" fill="#ffffff" stroke="#17877f" stroke-width="0.85"/>
<circle cx="609" cy="524.5" r="1.45" fill="#ffffff" stroke="#17877f" stroke-width="0.85"/>
<circle cx="609" cy="521.5" r="1.45" fill="#ffffff" stroke="#17877f" stroke-width="0.85"/>
<circle cx="609" cy="518.5" r="1.45" fill="#ffffff" stroke="#17877f" stroke-width="0.85"/>
<circle cx="609" cy="515.5" r="1.45" fill="#ffffff" stroke="#17877f" stroke-width="0.85"/>
<circle cx="609" cy="512.5" r="1.45" fill="#ffffff" stroke="#17877f" stroke-width="0.85"/>
<circle cx="620.5" cy="502" r="1.45" fill="#ffffff" stroke="#17877f" stroke-width="0.85"/>
<circle cx="620.5" cy="505" r="1.45" fill="#ffffff" stroke="#17877f" stroke-width="0.85"/>
<circle cx="620.5" cy="508" r="1.45" fill="#ffffff" stroke="#17877f" stroke-width="0.85"/>
<circle cx="620.5" cy="511" r="1.45" fill="#ffffff" stroke="#17877f" stroke-width="0.85"/>
<circle cx="620.5" cy="514" r="1.45" fill="#ffffff" stroke="#17877f" stroke-width="0.85"/>
<circle cx="620.5" cy="517" r="1.45" fill="#ffffff" stroke="#17877f" stroke-width="0.85"/>
<circle cx="630.06" cy="530.5" r="1.45" fill="#ffffff" stroke="#17877f" stroke-width="0.85"/>
<circle cx="630.06" cy="527.5" r="1.45" fill="#ffffff" stroke="#17877f" stroke-width="0.85"/>
<circle cx="630.06" cy="524.5" r="1.45" fill="#ffffff" stroke="#17877f" stroke-width="0.85"/>
<circle cx="630.06" cy="521.5" r="1.45" fill="#ffffff" stroke="#17877f" stroke-width="0.85"/>
<circle cx="630.06" cy="518.5" r="1.45" fill="#ffffff" stroke="#17877f" stroke-width="0.85"/>
<circle cx="630.06" cy="515.5" r="1.45" fill="#ffffff" stroke="#17877f" stroke-width="0.85"/>
<circle cx="641.56" cy="507" r="1.45" fill="#ffffff" stroke="#17877f" stroke-width="0.85"/>
<circle cx="641.56" cy="510" r="1.45" fill="#ffffff" stroke="#17877f" stroke-width="0.85"/>
<circle cx="641.56" cy="513" r="1.45" fill="#ffffff" stroke="#17877f" stroke-width="0.85"/>
<circle cx="641.56" cy="516" r="1.45" fill="#ffffff" stroke="#17877f" stroke-width="0.85"/>
<circle cx="641.56" cy="519" r="1.45" fill="#ffffff" stroke="#17877f" stroke-width="0.85"/>
<text x="17.6" y="604.62" font-size="15" font-weight="bold" fill="#2a1a16">h</text>
<rect x="63.6" y="579.7" width="53.7" height="35.5" fill="#ffffff" stroke="#666" stroke-width="0.6"/>
<polyline points="64.1,594.09 64.24,594.16 64.38,602.57 64.52,591.61 64.66,598.07 64.8,597.23 64.94,596.02 65.08,597.53 65.22,595.58 65.36,597.6 65.5,596.87 65.64,595.91 65.78,594.11 65.92,601.35 66.06,597.8 66.2,598.53 66.34,595.77 66.48,595.77 66.62,602.67 66.76,591.98 66.9,598.06 67.04,594.01 67.18,598.77 67.32,597.67 67.46,597.84 67.6,599.19 67.74,602.01 67.88,594.7 68.02,594.52 68.16,596.07 68.3,593.35 68.44,597.85 68.58,598.07 68.72,597.98 68.86,591.96 69,596.42 69.14,593.41 69.28,594.66 69.42,590.99 69.56,599.4 69.7,595.95 69.84,597.79 69.98,599.73 70.12,598.71 70.26,594.23 70.4,594.17 70.54,596.62 70.68,595.87 70.82,600.5 70.96,597.55 71.1,596.05 71.24,595.75 71.38,597.46 71.52,594.83 71.66,595.67 71.8,596.32 71.94,602.06 72.08,598.74 72.22,601.3 72.36,596.78 72.5,593.09 72.64,597.08 72.78,595.73 72.92,597.54 73.06,599.93 73.2,595.99 73.34,598.35 73.48,597.77 73.62,594.2 73.76,599.89 73.9,594.8 74.04,593.47 74.18,596.29 74.32,599.4 74.46,595.29 74.6,602.14 74.74,599.69 74.88,597.01 75.02,592.68 75.16,597.78 75.3,594.89 75.44,599.5 75.58,594.2 75.72,600.38 75.86,602.49 76,595.94 76.14,599 76.28,600.58 76.42,595.48 76.56,593.38 76.7,597.38 76.84,593.82 76.98,593.97 77.12,594.01 77.26,598.14 77.4,597.03 77.54,597.48 77.68,607.15 77.82,594.32 77.96,600.99 78.1,594.96 78.24,593.93 78.38,596.87 78.52,596.75 78.66,595.84 78.8,597.41 78.94,606.69 79.08,597.51 79.22,596.08 79.36,597.77 79.5,594.29 79.64,596.18 79.78,590.88 79.92,597.02 80.06,597.9 80.2,596.81 80.34,598.85 80.48,599.31 80.62,595.3 80.76,597.49 80.9,592.53 81.04,600.82 81.18,596.4 81.32,603.26 81.46,594.01 81.6,602.81 81.74,595.64 81.88,596.97 82.02,595.73 82.16,604.64 82.3,596.18 82.44,596.9 82.58,596.46 82.72,594.94 82.86,592.24 83,596.28 83.14,597.99 83.28,596.92 83.42,598.43 83.56,594.36 83.7,596.27 83.84,596.46 83.98,600.97 84.12,599.77 84.26,594.67 84.4,591.52 84.54,598.22 84.68,594.6 84.82,598.87 84.96,595.27 85.1,600.8 85.24,596.88 85.38,594.84 85.52,597.14 85.66,601.53 85.8,592.82 85.94,596.1 86.08,596.61 86.22,597.51 86.36,597.22 86.5,596.02 86.64,597.17 86.78,597.64 86.92,597.62 87.06,600.54 87.2,599.94 87.34,595.45 87.48,597.36 87.62,598.25 87.76,597.45 87.9,596.75 88.04,601.45 88.18,598.42 88.32,598.63 88.46,591.38 88.6,600.76 88.74,594.95 88.88,594.79 89.02,595.5 89.16,595.56 89.3,590.36 89.44,594.03 89.58,599.21 89.72,597.58 89.86,597.8 90,597.44 90.14,598.68 90.28,594.96 90.42,593.65 90.56,597.48 90.7,604.14 90.84,597.54 90.98,596.99 91.12,598.86 91.26,595.86 91.4,597.62 91.54,597.62 91.68,594.49 91.82,594.29 91.96,595.15 92.1,597.29 92.24,602.79 92.38,595.39 92.52,598.78 92.66,598.59 92.8,595.84 92.94,596.3 93.08,596.07 93.22,587.94 93.36,597.35 93.5,601.59 93.64,597.81 93.78,601.36 93.92,597.53 94.06,599.32 94.2,599.11 94.34,596.62 94.48,589.81 94.62,593.05 94.76,593.39 94.9,601.33 95.04,598.8 95.18,594.23 95.32,591.98 95.46,600.73 95.6,603.52 95.74,596.45 95.88,598.36 96.02,596.83 96.16,603.87 96.3,593.7 96.44,597.9 96.58,598.01 96.72,600.13 96.86,597.34 97,596.64 97.14,602.74 97.28,595.55 97.42,594.5 97.56,599.05 97.7,595.91 97.84,599.15 97.98,604.56 98.12,598.12 98.26,597.45 98.4,604.36 98.54,595.87 98.68,595.2 98.82,595.62 98.96,592.87 99.1,600.35 99.24,598.52 99.38,598.69 99.52,592.03 99.66,598.17 99.8,593.73 99.94,596.25 100.08,595.07 100.22,597.38 100.36,597.42 100.5,592.84 100.64,588.81 100.78,595.16 100.92,601 101.06,597.45 101.2,598.87 101.34,600.21 101.48,602.41 101.62,595.93 101.76,595.86 101.9,594.93 102.04,597.69 102.18,590.51 102.32,596 102.46,595.91 102.6,596.19 102.74,597.89 102.88,598.85 103.02,595.55 103.16,597.8 103.3,594.8 103.44,595.97 103.58,595.76 103.72,598.19 103.86,598.67 104,589.26 104.14,604.76 104.28,597.13 104.42,597.39 104.56,594.85 104.7,593.85 104.84,587.66 104.98,600.23 105.12,597.28 105.26,593.91 105.4,596.78 105.54,597.51 105.68,593.86 105.82,598 105.96,597.29 106.1,600.71 106.24,597.3 106.38,600.71 106.52,597.48 106.66,599.01 106.8,592.65 106.94,596.87 107.08,593.38 107.22,595.12 107.36,592.74 107.5,597.51 107.64,599.48 107.78,599.65 107.92,600.86 108.06,596.81 108.2,593.98 108.34,595.92 108.48,598.63 108.62,594.3 108.76,594.91 108.9,596.44 109.04,599.99 109.18,594.17 109.32,598.56 109.46,594.28 109.6,598.07 109.74,596.2 109.88,599.88 110.02,597.92 110.16,597.02 110.3,597.4 110.44,598.17 110.58,598.99 110.72,593.34 110.86,598.14 111,597.46 111.14,600.77 111.28,593.99 111.42,596.87 111.56,600.3 111.7,595.99 111.84,596.08 111.98,598.48 112.12,593.01 112.26,599.9 112.4,589.68 112.54,597.48 112.68,598.72 112.82,600.71 112.96,596.5 113.1,596.56 113.24,596.85 113.38,596.93 113.52,596.94 113.66,596.67 113.8,594.13 113.94,600.97 114.08,597.22 114.22,603.08 114.36,598.79 114.5,597.74 114.64,597.39 114.78,599.06 114.92,597.75 115.06,591.1 115.2,600.44 115.34,598.69 115.48,600.81 115.62,591.2 115.76,602.41 115.9,597.48 116.04,595.56 116.18,599.58 116.32,597.01 116.46,593.61 116.6,594.6 116.74,593.97 116.88,598.03" fill="none" stroke="#ec84b0" stroke-width="0.4"/>
<polyline points="64.1,596.27 64.24,596.01 64.38,596.79 64.52,596.14 64.66,596.36 64.8,596.45 64.94,596.38 65.08,596.5 65.22,596.37 65.36,596.5 65.5,596.52 65.64,596.43 65.78,596.13 65.92,596.75 66.06,596.84 66.2,597.01 66.34,596.83 66.48,596.67 66.62,597.36 66.76,596.67 66.9,596.81 67.04,596.45 67.18,596.71 67.32,596.79 67.46,596.89 67.6,597.13 67.74,597.68 67.88,597.26 68.02,596.89 68.16,596.76 68.3,596.32 68.44,596.49 68.58,596.66 68.72,596.79 68.86,596.18 69,596.2 69.14,595.85 69.28,595.71 69.42,595.14 69.56,595.67 69.7,595.71 69.84,595.96 69.98,596.41 70.12,596.67 70.26,596.35 70.4,596.07 70.54,596.13 70.68,596.09 70.82,596.61 70.96,596.7 71.1,596.59 71.24,596.47 71.38,596.57 71.52,596.34 71.66,596.24 71.8,596.24 71.94,596.92 72.08,597.11 72.22,597.57 72.36,597.42 72.5,596.85 72.64,596.85 72.78,596.68 72.92,596.76 73.06,597.11 73.2,596.94 73.34,597.07 73.48,597.12 73.62,596.73 73.76,597.08 73.9,596.77 74.04,596.34 74.18,596.32 74.32,596.68 74.46,596.48 74.6,597.14 74.74,597.41 74.88,597.31 75.02,596.71 75.16,596.81 75.3,596.55 75.44,596.88 75.58,596.53 75.72,596.97 75.86,597.6 76,597.34 76.14,597.5 76.28,597.82 76.42,597.47 76.56,596.93 76.7,596.95 76.84,596.54 76.98,596.21 77.12,595.94 77.26,596.2 77.4,596.28 77.54,596.41 77.68,597.68 77.82,597.22 77.96,597.63 78.1,597.26 78.24,596.81 78.38,596.79 78.52,596.76 78.66,596.62 78.8,596.69 78.94,597.86 79.08,597.76 79.22,597.5 79.36,597.48 79.5,597.05 79.64,596.91 79.78,596.15 79.92,596.24 80.06,596.43 80.2,596.46 80.34,596.72 80.48,597.01 80.62,596.77 80.76,596.82 80.9,596.28 81.04,596.81 81.18,596.73 81.32,597.48 81.46,597.02 81.6,597.68 81.74,597.38 81.88,597.28 82.02,597.05 82.16,597.92 82.3,597.65 82.44,597.5 82.58,597.33 82.72,597 82.86,596.39 83,596.36 83.14,596.54 83.28,596.56 83.42,596.76 83.56,596.44 83.7,596.4 83.84,596.39 83.98,596.92 84.12,597.23 84.26,596.88 84.4,596.21 84.54,596.44 84.68,596.2 84.82,596.51 84.96,596.34 85.1,596.86 85.24,596.83 85.38,596.56 85.52,596.61 85.66,597.17 85.8,596.61 85.94,596.52 86.08,596.51 86.22,596.61 86.36,596.66 86.5,596.56 86.64,596.61 86.78,596.71 86.92,596.79 87.06,597.21 87.2,597.5 87.34,597.2 87.48,597.18 87.62,597.26 87.76,597.24 87.9,597.14 88.04,597.62 88.18,597.66 88.32,597.72 88.46,596.9 88.6,597.33 88.74,597 88.88,596.7 89.02,596.53 89.16,596.39 89.3,595.65 89.44,595.46 89.58,595.92 89.72,596.11 89.86,596.31 90,596.43 90.14,596.68 90.28,596.45 90.42,596.09 90.56,596.25 90.7,597.18 90.84,597.18 90.98,597.12 91.12,597.29 91.26,597.07 91.4,597.1 91.54,597.12 91.68,596.77 91.82,596.44 91.96,596.27 92.1,596.38 92.24,597.13 92.38,596.88 92.52,597.08 92.66,597.22 92.8,597.01 92.94,596.89 93.08,596.76 93.22,595.67 93.36,595.88 93.5,596.56 93.64,596.69 93.78,597.22 93.92,597.22 94.06,597.43 94.2,597.58 94.34,597.41 94.48,596.45 94.62,596.02 94.76,595.7 94.9,596.38 95.04,596.65 95.18,596.34 95.32,595.8 95.46,596.39 95.6,597.23 95.74,597.09 95.88,597.2 96.02,597.12 96.16,597.89 96.3,597.32 96.44,597.35 96.58,597.38 96.72,597.66 96.86,597.57 97,597.4 97.14,598 97.28,597.64 97.42,597.2 97.56,597.38 97.7,597.16 97.84,597.36 97.98,598.18 98.12,598.1 98.26,597.95 98.4,598.66 98.54,598.24 98.68,597.8 98.82,597.48 98.96,596.87 99.1,597.26 99.24,597.37 99.38,597.48 99.52,596.77 99.66,596.91 99.8,596.5 99.94,596.45 100.08,596.26 100.22,596.38 100.36,596.49 100.5,596.03 100.64,595.16 100.78,595.18 100.92,595.89 101.06,596.08 101.2,596.41 101.34,596.84 101.48,597.48 101.62,597.24 101.76,597.03 101.9,596.74 102.04,596.83 102.18,596.04 102.32,596.03 102.46,596.01 102.6,596.02 102.74,596.24 102.88,596.54 103.02,596.4 103.16,596.55 103.3,596.32 103.44,596.26 103.58,596.19 103.72,596.42 103.86,596.67 104,595.75 104.14,596.84 104.28,596.84 104.42,596.87 104.56,596.6 104.7,596.25 104.84,595.2 104.98,595.82 105.12,596 105.26,595.74 105.4,595.87 105.54,596.06 105.68,595.79 105.82,596.06 105.96,596.2 106.1,596.73 106.24,596.77 106.38,597.21 106.52,597.2 106.66,597.38 106.8,596.76 106.94,596.75 107.08,596.31 107.22,596.16 107.36,595.73 107.5,595.95 107.64,596.37 107.78,596.75 107.92,597.21 108.06,597.12 108.2,596.7 108.34,596.58 108.48,596.81 108.62,596.47 108.76,596.27 108.9,596.27 109.04,596.71 109.18,596.37 109.32,596.62 109.46,596.31 109.6,596.51 109.74,596.45 109.88,596.84 110.02,596.94 110.16,596.92 110.3,596.94 110.44,597.05 110.58,597.25 110.72,596.74 110.86,596.88 111,596.91 111.14,597.34 111.28,596.89 111.42,596.86 111.56,597.24 111.7,597.05 111.84,596.89 111.98,597.05 112.12,596.53 112.26,596.91 112.4,596.01 112.54,596.18 112.68,596.47 112.82,596.96 112.96,596.87 113.1,596.8 113.24,596.78 113.38,596.77 113.52,596.76 113.66,596.72 113.8,596.38 113.94,596.91 114.08,596.92 114.22,597.62 114.36,597.71 114.5,597.65 114.64,597.57 114.78,597.69 114.92,597.64 115.06,596.8 115.2,597.21 115.34,597.34 115.48,597.71 115.62,596.87 115.76,597.51 115.9,597.45 116.04,597.18 116.18,597.42 116.32,597.32 116.46,596.83 116.6,596.53 116.74,596.2 116.88,596.41" fill="none" stroke="#8a2a78" stroke-width="0.6"/>
<line x1="65.5" y1="582.5" x2="71.5" y2="582.5" stroke="#ec8ab2" stroke-width="0.6"/>
<text x="73" y="583.57" font-size="3" fill="#444" textLength="37" lengthAdjust="spacingAndGlyphs">Before moving average filter</text>
<line x1="65.5" y1="587.2" x2="71.5" y2="587.2" stroke="#8a2a78" stroke-width="0.6"/>
<text x="73" y="588.27" font-size="3" fill="#444" textLength="35" lengthAdjust="spacingAndGlyphs">After moving average filter</text>
<text x="57" y="590.33" font-size="4.6" text-anchor="end" fill="#444" textLength="6.8" lengthAdjust="spacingAndGlyphs">2162</text>
<line x1="63.6" y1="588.7" x2="64.8" y2="588.7" stroke="#666" stroke-width="0.4"/>
<text x="57" y="607.93" font-size="4.6" text-anchor="end" fill="#444" textLength="6.8" lengthAdjust="spacingAndGlyphs">2160</text>
<line x1="63.6" y1="606.3" x2="64.8" y2="606.3" stroke="#666" stroke-width="0.4"/>
<text x="63.6" y="621.4" font-size="4.8" text-anchor="middle" fill="#444">0</text>
<text x="80.2" y="621.4" font-size="4.8" text-anchor="middle" fill="#444">2</text>
<text x="96.8" y="621.4" font-size="4.8" text-anchor="middle" fill="#444">4</text>
<text x="113.4" y="621.4" font-size="4.8" text-anchor="middle" fill="#444">6</text>
<text x="89.2" y="626.1" font-size="4.8" text-anchor="middle" fill="#444">Time (s)</text>
<text x="45.4" y="599.4" font-size="4.5" text-anchor="middle" fill="#444" transform="rotate(-90 45.4 597.8)">Resistance (Ω)</text>
<rect x="63.6" y="628.5" width="53.7" height="43.3" fill="#ffffff" stroke="#666" stroke-width="0.6"/>
<rect x="72.1" y="628.9" width="10.5" height="42.5" fill="#aeb1b0"/>
<text x="57" y="637.03" font-size="4.6" text-anchor="end" fill="#444" textLength="6.8" lengthAdjust="spacingAndGlyphs">2200</text>
<line x1="63.6" y1="635.4" x2="64.8" y2="635.4" stroke="#666" stroke-width="0.4"/>
<text x="57" y="645.33" font-size="4.6" text-anchor="end" fill="#444" textLength="6.8" lengthAdjust="spacingAndGlyphs">2190</text>
<line x1="63.6" y1="643.7" x2="64.8" y2="643.7" stroke="#666" stroke-width="0.4"/>
<text x="57" y="653.63" font-size="4.6" text-anchor="end" fill="#444" textLength="6.8" lengthAdjust="spacingAndGlyphs">2180</text>
<line x1="63.6" y1="652" x2="64.8" y2="652" stroke="#666" stroke-width="0.4"/>
<text x="57" y="661.83" font-size="4.6" text-anchor="end" fill="#444" textLength="6.8" lengthAdjust="spacingAndGlyphs">2170</text>
<line x1="63.6" y1="660.2" x2="64.8" y2="660.2" stroke="#666" stroke-width="0.4"/>
<text x="57" y="670.03" font-size="4.6" text-anchor="end" fill="#444" textLength="6.8" lengthAdjust="spacingAndGlyphs">2160</text>
<line x1="63.6" y1="668.4" x2="64.8" y2="668.4" stroke="#666" stroke-width="0.4"/>
<text x="65.5" y="677.4" font-size="4.8" text-anchor="middle" fill="#444">0</text>
<text x="91.5" y="677.4" font-size="4.8" text-anchor="middle" fill="#444">1</text>
<text x="116.7" y="677.4" font-size="4.8" text-anchor="middle" fill="#444">2</text>
<text x="92" y="684.6" font-size="4.8" text-anchor="middle" fill="#444">Time (s)</text>
<text x="45.4" y="651.6" font-size="4.5" text-anchor="middle" fill="#444" transform="rotate(-90 45.4 650)">Resistance (Ω)</text>
<polyline points="63.9,667.57 64.3,667.53 64.7,667.49 65.1,667.45 65.5,667.41 65.9,667.37 66.3,667.33 66.7,667.29 67.1,667.25 67.5,667.21 67.9,667.17 68.3,667.13 68.7,667.09 69.1,667.05 69.5,667.01 69.9,666.97 70.3,666.93 70.7,666.89 71.1,666.85 71.5,666.81 71.9,666.77 72.3,666.7 72.7,666.33 73.1,665.85 73.5,665.29 73.9,664.67 74.3,664.01 74.7,663.31 75.1,662.58 75.5,661.84 75.9,661.07 76.3,660.3 76.7,659.51 77.1,658.72 77.5,657.93 77.9,657.14 78.3,656.35 78.7,655.57 79.1,654.79 79.5,654.02 79.9,653.26 80.3,652.51 80.7,651.78 81.1,651.05 81.5,650.35 81.9,649.65 82.3,648.97 82.7,648.31 83.1,647.66 83.5,647.03 83.9,646.42 84.3,645.82 84.7,645.24 85.1,644.68 85.5,644.13 85.9,643.6 86.3,643.09 86.7,642.59 87.1,642.11 87.5,641.65 87.9,641.21 88.3,640.78 88.7,640.36 89.1,639.96 89.5,639.58 89.9,639.21 90.3,638.85 90.7,638.51 91.1,638.19 91.5,637.87 91.9,637.57 92.3,637.28 92.7,637.01 93.1,636.74 93.5,636.49 93.9,636.25 94.3,636.02 94.7,635.8 95.1,635.59 95.5,635.39 95.9,635.2 96.3,635.02 96.7,634.84 97.1,634.68 97.5,634.52 97.9,634.37 98.3,634.23 98.7,634.09 99.1,633.97 99.5,633.84 99.9,633.73 100.3,633.62 100.7,633.52 101.1,633.42 101.5,633.32 101.9,633.23 102.3,633.15 102.7,633.07 103.1,633 103.5,632.93 103.9,632.86 104.3,632.8 104.7,632.74 105.1,632.68 105.5,632.63 105.9,632.57 106.3,632.53 106.7,632.48 107.1,632.44 107.5,632.4 107.9,632.36 108.3,632.33 108.7,632.29 109.1,632.26 109.5,632.23 109.9,632.21 110.3,632.18 110.7,632.16 111.1,632.13 111.5,632.11 111.9,632.09 112.3,632.07 112.7,632.05 113.1,632.04 113.5,632.02 113.9,632.01 114.3,631.99 114.7,631.98 115.1,631.97 115.5,631.96 115.9,631.95 116.3,631.94 116.7,631.93 117.1,631.92" fill="none" stroke="#c35383" stroke-width="0.7"/>
<text x="83.6" y="633.98" font-size="5" font-weight="bold" fill="#222" textLength="18" lengthAdjust="spacingAndGlyphs">T = 0.4 s</text>
<line x1="66" y1="632.2" x2="71.6" y2="632.2" stroke="#222" stroke-width="0.5"/>
<polygon points="72,632.2 70.4,631.32 70.4,633.08" fill="#222"/>
<line x1="83" y1="632.2" x2="85.5" y2="632.2" stroke="#222" stroke-width="0.5"/>
<text x="89.3" y="646.27" font-size="5" font-weight="bold" fill="#222" textLength="26.6" lengthAdjust="spacingAndGlyphs">ending point</text>
<line x1="89.5" y1="646.3" x2="83" y2="649.5" stroke="#222" stroke-width="0.45"/>
<text x="85.2" y="658.57" font-size="5" font-weight="bold" fill="#222" textLength="29.8" lengthAdjust="spacingAndGlyphs">Starting point</text>
<line x1="86" y1="658.6" x2="73" y2="666.5" stroke="#222" stroke-width="0.45"/>
<linearGradient id="ga1" x1="0" y1="0" x2="1" y2="0"><stop offset="0" stop-color="#c9d3e6"/><stop offset="1" stop-color="#7f95c3"/></linearGradient><polygon points="109.2,602.8 121.7,602.8 121.7,600.65 128.2,605.4 121.7,610.15 121.7,608 109.2,608" fill="url(#ga1)"/>
<linearGradient id="ga2" x1="0" y1="0" x2="1" y2="0"><stop offset="0" stop-color="#c9d3e6"/><stop offset="1" stop-color="#7f95c3"/></linearGradient><polygon points="109.2,636.5 121.7,636.5 121.7,634.35 128.2,639.1 121.7,643.85 121.7,641.7 109.2,641.7" fill="url(#ga2)"/>
<rect x="121.4" y="579.8" width="195.3" height="94.1" fill="none" stroke="#2f64aa" stroke-width="0.95" rx="15" stroke-dasharray="2.4,1.4"/>
<rect x="128.5" y="600" width="19.3" height="57.9" fill="#e1e1e1" rx="0.5"/>
<circle cx="138.65" cy="608.7" r="2.8" fill="none" stroke="#2a2a2a" stroke-width="1.15"/>
<circle cx="138.65" cy="619.6" r="2.8" fill="none" stroke="#2a2a2a" stroke-width="1.15"/>
<circle cx="138.65" cy="637.6" r="2.8" fill="none" stroke="#2a2a2a" stroke-width="1.15"/>
<circle cx="138.65" cy="648.2" r="2.8" fill="none" stroke="#2a2a2a" stroke-width="1.15"/>
<rect x="136.15" y="627.6" width="1" height="1" fill="#2a2a2a"/>
<rect x="136.15" y="629.8" width="1" height="1" fill="#2a2a2a"/>
<rect x="138.15" y="627.6" width="1" height="1" fill="#2a2a2a"/>
<rect x="138.15" y="629.8" width="1" height="1" fill="#2a2a2a"/>
<rect x="140.15" y="627.6" width="1" height="1" fill="#2a2a2a"/>
<rect x="140.15" y="629.8" width="1" height="1" fill="#2a2a2a"/>
<text x="129.7" y="606.32" font-size="4" font-weight="bold" fill="#222">50</text>
<rect x="156.1" y="600" width="19.3" height="57.9" fill="#e7eedb" rx="4"/>
<circle cx="166.25" cy="608.7" r="2.8" fill="none" stroke="#68b04a" stroke-width="1.15"/>
<circle cx="166.25" cy="619.6" r="2.8" fill="none" stroke="#68b04a" stroke-width="1.15"/>
<circle cx="166.25" cy="637.6" r="2.8" fill="none" stroke="#68b04a" stroke-width="1.15"/>
<circle cx="166.25" cy="648.2" r="2.8" fill="none" stroke="#68b04a" stroke-width="1.15"/>
<rect x="163.75" y="627.6" width="1" height="1" fill="#68b04a"/>
<rect x="163.75" y="629.8" width="1" height="1" fill="#68b04a"/>
<rect x="165.75" y="627.6" width="1" height="1" fill="#68b04a"/>
<rect x="165.75" y="629.8" width="1" height="1" fill="#68b04a"/>
<rect x="167.75" y="627.6" width="1" height="1" fill="#68b04a"/>
<rect x="167.75" y="629.8" width="1" height="1" fill="#68b04a"/>
<text x="157.3" y="606.32" font-size="4" font-weight="bold" fill="#222">20</text>
<rect x="183.1" y="600" width="19.6" height="57.9" fill="#f6d8bb" rx="0.5"/>
<circle cx="193.4" cy="608.7" r="2.8" fill="none" stroke="#ea7f2e" stroke-width="1.15"/>
<circle cx="193.4" cy="619.6" r="2.8" fill="none" stroke="#ea7f2e" stroke-width="1.15"/>
<circle cx="193.4" cy="637.6" r="2.8" fill="none" stroke="#ea7f2e" stroke-width="1.15"/>
<circle cx="193.4" cy="648.2" r="2.8" fill="none" stroke="#ea7f2e" stroke-width="1.15"/>
<rect x="190.9" y="627.6" width="1" height="1" fill="#ea7f2e"/>
<rect x="190.9" y="629.8" width="1" height="1" fill="#ea7f2e"/>
<rect x="192.9" y="627.6" width="1" height="1" fill="#ea7f2e"/>
<rect x="192.9" y="629.8" width="1" height="1" fill="#ea7f2e"/>
<rect x="194.9" y="627.6" width="1" height="1" fill="#ea7f2e"/>
<rect x="194.9" y="629.8" width="1" height="1" fill="#ea7f2e"/>
<text x="184.3" y="606.32" font-size="4" font-weight="bold" fill="#222">20</text>
<rect x="210.4" y="600" width="19.2" height="57.9" fill="#d3e3f0" rx="0.5"/>
<circle cx="220.5" cy="608.7" r="2.8" fill="none" stroke="#3b8bd0" stroke-width="1.15"/>
<circle cx="220.5" cy="619.6" r="2.8" fill="none" stroke="#3b8bd0" stroke-width="1.15"/>
<circle cx="220.5" cy="637.6" r="2.8" fill="none" stroke="#3b8bd0" stroke-width="1.15"/>
<circle cx="220.5" cy="648.2" r="2.8" fill="none" stroke="#3b8bd0" stroke-width="1.15"/>
<rect x="218" y="627.6" width="1" height="1" fill="#3b8bd0"/>
<rect x="218" y="629.8" width="1" height="1" fill="#3b8bd0"/>
<rect x="220" y="627.6" width="1" height="1" fill="#3b8bd0"/>
<rect x="220" y="629.8" width="1" height="1" fill="#3b8bd0"/>
<rect x="222" y="627.6" width="1" height="1" fill="#3b8bd0"/>
<rect x="222" y="629.8" width="1" height="1" fill="#3b8bd0"/>
<text x="211.6" y="606.32" font-size="4" font-weight="bold" fill="#222">20</text>
<rect x="238" y="600" width="19.3" height="57.9" fill="#f6d8bb" rx="0.5"/>
<circle cx="248.15" cy="608.7" r="2.8" fill="none" stroke="#ea7f2e" stroke-width="1.15"/>
<circle cx="248.15" cy="619.6" r="2.8" fill="none" stroke="#ea7f2e" stroke-width="1.15"/>
<circle cx="248.15" cy="637.6" r="2.8" fill="none" stroke="#ea7f2e" stroke-width="1.15"/>
<circle cx="248.15" cy="648.2" r="2.8" fill="none" stroke="#ea7f2e" stroke-width="1.15"/>
<rect x="245.65" y="627.6" width="1" height="1" fill="#ea7f2e"/>
<rect x="245.65" y="629.8" width="1" height="1" fill="#ea7f2e"/>
<rect x="247.65" y="627.6" width="1" height="1" fill="#ea7f2e"/>
<rect x="247.65" y="629.8" width="1" height="1" fill="#ea7f2e"/>
<rect x="249.65" y="627.6" width="1" height="1" fill="#ea7f2e"/>
<rect x="249.65" y="629.8" width="1" height="1" fill="#ea7f2e"/>
<text x="239.2" y="606.32" font-size="4" font-weight="bold" fill="#222">20</text>
<rect x="158.4" y="643" width="13.8" height="11.6" fill="none" stroke="#2f5f9f" stroke-width="0.6" stroke-dasharray="1.2,0.8"/>
<rect x="265.3" y="609.7" width="16" height="38.5" fill="#d3e3f0"/>
<circle cx="273.3" cy="629" r="2.8" fill="none" stroke="#3b8bd0" stroke-width="1.15"/>
<text x="266.3" y="616.52" font-size="4" font-weight="bold" fill="#222">1</text>
<rect x="290" y="609.7" width="16.1" height="37.6" fill="#e1e1e1"/>
<circle cx="297.6" cy="629" r="2.8" fill="none" stroke="#2a2a2a" stroke-width="1.15"/>
<text x="291" y="616.52" font-size="4" font-weight="bold" fill="#222">1</text>
<text x="138.2" y="591.96" font-size="4.4" font-weight="bold" text-anchor="middle" fill="#333">INPUT</text>
<text x="165.8" y="591.96" font-size="4.4" font-weight="bold" text-anchor="middle" fill="#333">LSTM</text>
<text x="192.9" y="591.96" font-size="4.4" font-weight="bold" text-anchor="middle" fill="#333">ReLU</text>
<text x="247.7" y="591.96" font-size="4.4" font-weight="bold" text-anchor="middle" fill="#333">ReLU</text>
<text x="220" y="589.36" font-size="4.4" font-weight="bold" text-anchor="middle" fill="#333">FULL</text>
<text x="220" y="594.96" font-size="4.4" font-weight="bold" text-anchor="middle" fill="#333">CONNECT</text>
<text x="273.3" y="599.66" font-size="4.4" font-weight="bold" text-anchor="middle" fill="#333">FULL</text>
<text x="273.3" y="605.46" font-size="4.4" font-weight="bold" text-anchor="middle" fill="#333">CONNECT</text>
<text x="298" y="603.86" font-size="4.4" font-weight="bold" text-anchor="middle" fill="#333">OUTPUT</text>
<line x1="148.3" y1="628.6" x2="153.6" y2="628.6" stroke="#333" stroke-width="1.2"/>
<polygon points="155.6,628.6 152.4,626.84 152.4,630.36" fill="#333"/>
<line x1="175.9" y1="628.6" x2="180.6" y2="628.6" stroke="#333" stroke-width="1.2"/>
<polygon points="182.6,628.6 179.4,626.84 179.4,630.36" fill="#333"/>
<line x1="203.2" y1="628.6" x2="207.9" y2="628.6" stroke="#333" stroke-width="1.2"/>
<polygon points="209.9,628.6 206.7,626.84 206.7,630.36" fill="#333"/>
<line x1="230.1" y1="628.6" x2="235.5" y2="628.6" stroke="#333" stroke-width="1.2"/>
<polygon points="237.5,628.6 234.3,626.84 234.3,630.36" fill="#333"/>
<line x1="257.8" y1="628.6" x2="262.8" y2="628.6" stroke="#333" stroke-width="1.2"/>
<polygon points="264.8,628.6 261.6,626.84 261.6,630.36" fill="#333"/>
<line x1="281.8" y1="628.6" x2="287.5" y2="628.6" stroke="#333" stroke-width="1.2"/>
<polygon points="289.5,628.6 286.3,626.84 286.3,630.36" fill="#333"/>
<linearGradient id="ga3" x1="0" y1="0" x2="0" y2="1"><stop offset="0" stop-color="#aebbd9"/><stop offset="1" stop-color="#8195c4"/></linearGradient><polygon points="294.9,647.3 294.9,687.7 292.5,687.7 297.5,694.2 302.5,687.7 300.1,687.7 300.1,647.3" fill="url(#ga3)"/>
<line x1="158.4" y1="654.6" x2="56.3" y2="691.2" stroke="#2f64aa" stroke-width="0.6" stroke-dasharray="1.6,1.2"/>
<line x1="172.2" y1="654.6" x2="231.2" y2="691.2" stroke="#2f64aa" stroke-width="0.6" stroke-dasharray="1.6,1.2"/>
<text x="48.8" y="693" font-size="6.2" fill="#333">c</text>
<rect x="56.1" y="691.1" width="175.1" height="64.3" fill="none" stroke="#2f64aa" stroke-width="0.95" stroke-dasharray="2.4,1.4"/>
<rect x="69.5" y="692.9" width="141" height="53.5" fill="#e9ebdc" rx="6"/>
<rect x="72.2" y="696.3" width="31.2" height="49.3" fill="none" stroke="#555" stroke-width="0.5" rx="5" stroke-dasharray="0.8,0.9"/>
<rect x="119.3" y="696.3" width="35.8" height="49.3" fill="none" stroke="#555" stroke-width="0.5" rx="5" stroke-dasharray="0.8,0.9"/>
<rect x="162.2" y="696.3" width="45.8" height="49.3" fill="none" stroke="#555" stroke-width="0.5" rx="5" stroke-dasharray="0.8,0.9"/>
<line x1="60.4" y1="704.6" x2="221.5" y2="704.6" stroke="#222" stroke-width="0.7"/>
<polygon points="224,704.6 221.4,703.17 221.4,706.03" fill="#222"/>
<line x1="60.4" y1="736.5" x2="226" y2="736.5" stroke="#222" stroke-width="0.7"/>
<polygon points="228.8,736.5 226.2,735.07 226.2,737.93" fill="#222"/>
<line x1="79.4" y1="704.6" x2="79.4" y2="736.5" stroke="#222" stroke-width="0.6"/>
<line x1="85.4" y1="736.5" x2="85.4" y2="748.3" stroke="#222" stroke-width="0.6"/>
<line x1="95.8" y1="730.3" x2="95.8" y2="736.5" stroke="#222" stroke-width="0.6"/>
<line x1="95.8" y1="725.2" x2="95.8" y2="710" stroke="#777" stroke-width="0.8"/>
<polygon points="95.8,708.2 94.59,710.4 97.01,710.4" fill="#222"/>
<rect x="88.1" y="725.2" width="15.3" height="5.1" fill="#f2f2ea" stroke="#222" stroke-width="0.55"/><text x="95.75" y="728.82" font-size="3" text-anchor="middle" fill="#333">σ</text>
<circle cx="95.8" cy="704.6" r="3.4" fill="#f4f4ee" stroke="#222" stroke-width="0.6"/><line x1="93.4" y1="702.2" x2="98.2" y2="707" stroke="#222" stroke-width="0.6"/><line x1="93.4" y1="707" x2="98.2" y2="702.2" stroke="#222" stroke-width="0.6"/>
<text x="90.5" y="710.74" font-size="3.2" text-anchor="middle" fill="#444">Forget</text>
<text x="90.5" y="714.94" font-size="3.2" text-anchor="middle" fill="#444">gate</text>
<text x="91.8" y="719.77" font-size="5" fill="#222" font-style="italic">f<tspan font-size="2.6" dy="0.8">t</tspan></text>
<line x1="127.6" y1="730.3" x2="127.6" y2="736.5" stroke="#222" stroke-width="0.6"/>
<line x1="146.2" y1="730.3" x2="146.2" y2="736.5" stroke="#222" stroke-width="0.6"/>
<rect x="120.7" y="725.2" width="13.9" height="5.1" fill="#f2f2ea" stroke="#222" stroke-width="0.55"/><text x="127.65" y="728.82" font-size="3" text-anchor="middle" fill="#333">σ</text>
<rect x="138.8" y="725.2" width="14.8" height="5.1" fill="#f2f2ea" stroke="#222" stroke-width="0.55"/><text x="146.2" y="728.82" font-size="3" text-anchor="middle" fill="#333">tanh</text>
<polyline points="127.6,725.2 127.6,718.5 140.4,718.5" fill="none" stroke="#222" stroke-width="0.6"/>
<polygon points="142.4,718.5 140.2,717.29 140.2,719.71" fill="#222"/>
<line x1="146.2" y1="725.2" x2="146.2" y2="722" stroke="#222" stroke-width="0.6"/>
<line x1="146.2" y1="715" x2="146.2" y2="710" stroke="#777" stroke-width="0.8"/>
<polygon points="146.2,708.2 144.99,710.4 147.41,710.4" fill="#222"/>
<circle cx="146.2" cy="718.5" r="3.4" fill="#f4f4ee" stroke="#222" stroke-width="0.6"/><line x1="143.8" y1="716.1" x2="148.6" y2="720.9" stroke="#222" stroke-width="0.6"/><line x1="143.8" y1="720.9" x2="148.6" y2="716.1" stroke="#222" stroke-width="0.6"/>
<circle cx="146.2" cy="704.6" r="3.4" fill="#f4f4ee" stroke="#222" stroke-width="0.6"/><line x1="142.8" y1="704.6" x2="149.6" y2="704.6" stroke="#222" stroke-width="0.6"/><line x1="146.2" y1="701.2" x2="146.2" y2="708" stroke="#222" stroke-width="0.6"/>
<text x="131.8" y="710.74" font-size="3.2" text-anchor="middle" fill="#444">Input</text>
<text x="131.8" y="714.94" font-size="3.2" text-anchor="middle" fill="#444">gate</text>
<text x="122" y="719.77" font-size="5" fill="#222" font-style="italic">i<tspan font-size="2.6" dy="0.8">t</tspan></text>
<line x1="170.8" y1="730.3" x2="170.8" y2="736.5" stroke="#222" stroke-width="0.6"/>
<rect x="163.6" y="725.2" width="15" height="5.1" fill="#f2f2ea" stroke="#222" stroke-width="0.55"/><text x="171.1" y="728.82" font-size="3" text-anchor="middle" fill="#333">σ</text>
<polyline points="170.8,725.2 170.8,718.5 183.4,718.5" fill="none" stroke="#222" stroke-width="0.6"/>
<polygon points="185.6,718.5 183.4,717.29 183.4,719.71" fill="#222"/>
<line x1="189.4" y1="704.6" x2="189.4" y2="708.5" stroke="#222" stroke-width="0.6"/>
<rect x="182.3" y="708.5" width="14.6" height="5.2" fill="#f2f2ea" stroke="#222" stroke-width="0.55"/><text x="189.6" y="712.17" font-size="3" text-anchor="middle" fill="#333">tanh</text>
<line x1="189.4" y1="713.7" x2="189.4" y2="715" stroke="#222" stroke-width="0.6"/>
<circle cx="189.4" cy="718.5" r="3.4" fill="#f4f4ee" stroke="#222" stroke-width="0.6"/><line x1="187" y1="716.1" x2="191.8" y2="720.9" stroke="#222" stroke-width="0.6"/><line x1="187" y1="720.9" x2="191.8" y2="716.1" stroke="#222" stroke-width="0.6"/>
<line x1="189.4" y1="722" x2="189.4" y2="736.5" stroke="#222" stroke-width="0.6"/>
<line x1="203.5" y1="736.5" x2="203.5" y2="700.6" stroke="#222" stroke-width="0.6"/>
<polygon points="203.5,698.3 202.18,700.7 204.82,700.7" fill="#222"/>
<text x="174.5" y="711.54" font-size="3.2" text-anchor="middle" fill="#444">Output</text>
<text x="174.5" y="715.74" font-size="3.2" text-anchor="middle" fill="#444">gate</text>
<text x="165.2" y="718.98" font-size="5" font-weight="bold" fill="#222" font-style="italic">o<tspan font-size="2.6" dy="0.8">t</tspan></text>
<text x="196.3" y="702.23" font-size="4.6" font-weight="bold" fill="#222" font-style="italic">h<tspan font-size="2.6" dy="0.8">t</tspan></text>
<text x="217.5" y="700.03" font-size="4.6" font-weight="bold" fill="#222" font-style="italic">C<tspan font-size="2.6" dy="0.8">t</tspan></text>
<text x="217.5" y="741.83" font-size="4.6" font-weight="bold" fill="#222" font-style="italic">h<tspan font-size="2.6" dy="0.8">t</tspan></text>
<text x="60.6" y="698.63" font-size="4.6" fill="#222" font-style="italic">C<tspan font-size="2.6" dy="0.8">t-1</tspan></text>
<text x="60.6" y="741.83" font-size="4.6" fill="#222" font-style="italic">h<tspan font-size="2.6" dy="0.8">t-1</tspan></text>
<text x="70.5" y="752.83" font-size="4.6" fill="#222" font-style="italic">x<tspan font-size="2.6" dy="0.8">t</tspan><tspan dy="-0.8">, δ</tspan><tspan font-size="2.6" dy="0.8">t</tspan></text>
<text x="238.8" y="692.2" font-size="6.2" text-anchor="middle" fill="#333">d</text>
<rect x="249.4" y="691.6" width="69.2" height="56.7" fill="#ffffff" stroke="#888" stroke-width="0.7"/>
<text x="245.8" y="750" font-size="4.8" text-anchor="end" fill="#444">0</text>
<text x="249.4" y="754.9" font-size="4.8" text-anchor="middle" fill="#444">0</text>
<line x1="249.4" y1="748.3" x2="250.6" y2="748.3" stroke="#666" stroke-width="0.4"/>
<line x1="249.4" y1="748.3" x2="249.4" y2="747.1" stroke="#666" stroke-width="0.4"/>
<text x="245.8" y="737.55" font-size="4.8" text-anchor="end" fill="#444">1</text>
<text x="264.9" y="754.9" font-size="4.8" text-anchor="middle" fill="#444">1</text>
<line x1="249.4" y1="735.85" x2="250.6" y2="735.85" stroke="#666" stroke-width="0.4"/>
<line x1="264.9" y1="748.3" x2="264.9" y2="747.1" stroke="#666" stroke-width="0.4"/>
<text x="245.8" y="725.1" font-size="4.8" text-anchor="end" fill="#444">2</text>
<text x="280.4" y="754.9" font-size="4.8" text-anchor="middle" fill="#444">2</text>
<line x1="249.4" y1="723.4" x2="250.6" y2="723.4" stroke="#666" stroke-width="0.4"/>
<line x1="280.4" y1="748.3" x2="280.4" y2="747.1" stroke="#666" stroke-width="0.4"/>
<text x="245.8" y="712.65" font-size="4.8" text-anchor="end" fill="#444">3</text>
<text x="295.9" y="754.9" font-size="4.8" text-anchor="middle" fill="#444">3</text>
<line x1="249.4" y1="710.95" x2="250.6" y2="710.95" stroke="#666" stroke-width="0.4"/>
<line x1="295.9" y1="748.3" x2="295.9" y2="747.1" stroke="#666" stroke-width="0.4"/>
<text x="245.8" y="700.2" font-size="4.8" text-anchor="end" fill="#444">4</text>
<text x="311.4" y="754.9" font-size="4.8" text-anchor="middle" fill="#444">4</text>
<line x1="249.4" y1="698.5" x2="250.6" y2="698.5" stroke="#666" stroke-width="0.4"/>
<line x1="311.4" y1="748.3" x2="311.4" y2="747.1" stroke="#666" stroke-width="0.4"/>
<text x="282" y="760.7" font-size="4.8" text-anchor="middle" fill="#444">True concentration (%)</text>
<text x="239.3" y="728.16" font-size="4.4" text-anchor="middle" fill="#444" transform="rotate(-90 239.3 726.6)">Predicted concentration(%)</text>
<line x1="255.6" y1="743.32" x2="311.4" y2="697.88" stroke="#2a9a8a" stroke-width="0.6" stroke-dasharray="1.6,0.8,0.5,0.8"/>
<circle cx="255.6" cy="743.07" r="0.85" fill="#2a8a7e"/>
<circle cx="261.8" cy="737.72" r="0.85" fill="#2a8a7e"/>
<circle cx="268" cy="733.11" r="0.85" fill="#2a8a7e"/>
<circle cx="274.2" cy="727.76" r="0.85" fill="#2a8a7e"/>
<circle cx="280.4" cy="721.91" r="0.85" fill="#2a8a7e"/>
<circle cx="286.6" cy="717.17" r="0.85" fill="#2a8a7e"/>
<circle cx="292.8" cy="713.44" r="0.85" fill="#2a8a7e"/>
<circle cx="299" cy="707.46" r="0.85" fill="#2a8a7e"/>
<circle cx="305.2" cy="702.86" r="0.85" fill="#2a8a7e"/>
<circle cx="311.4" cy="697.25" r="0.85" fill="#2a8a7e"/>
<circle cx="256.3" cy="696.5" r="0.8" fill="#2a8a7e"/>
<text x="262.7" y="698.13" font-size="4.6" fill="#444" textLength="42" lengthAdjust="spacingAndGlyphs">Predicted concentration</text>
<line x1="251.5" y1="702" x2="261" y2="702" stroke="#2a9a8a" stroke-width="0.6" stroke-dasharray="1.6,0.8,0.5,0.8"/>
<text x="262.7" y="703.6" font-size="4.6" fill="#444">H<tspan font-size="3.2" dy="1">2</tspan><tspan dy="-1"> concentration</tspan></text>
<text x="333.4" y="601.73" font-size="15" font-weight="bold" fill="#2a1a16">i</text>
<rect x="372.8" y="585.6" width="296" height="142" fill="none" stroke="#333" stroke-width="1.1"/>
<text x="366.8" y="730.8" font-size="9" text-anchor="end" fill="#231f20">0</text>
<line x1="370.2" y1="727.6" x2="372.8" y2="727.6" stroke="#333" stroke-width="0.8"/>
<text x="366.8" y="704.94" font-size="9" text-anchor="end" fill="#231f20">2</text>
<line x1="370.2" y1="701.74" x2="372.8" y2="701.74" stroke="#333" stroke-width="0.8"/>
<text x="366.8" y="679.08" font-size="9" text-anchor="end" fill="#231f20">4</text>
<line x1="370.2" y1="675.88" x2="372.8" y2="675.88" stroke="#333" stroke-width="0.8"/>
<text x="366.8" y="653.22" font-size="9" text-anchor="end" fill="#231f20">6</text>
<line x1="370.2" y1="650.02" x2="372.8" y2="650.02" stroke="#333" stroke-width="0.8"/>
<text x="366.8" y="627.36" font-size="9" text-anchor="end" fill="#231f20">8</text>
<line x1="370.2" y1="624.16" x2="372.8" y2="624.16" stroke="#333" stroke-width="0.8"/>
<text x="366.8" y="601.5" font-size="9" text-anchor="end" fill="#231f20">10</text>
<line x1="370.2" y1="598.3" x2="372.8" y2="598.3" stroke="#333" stroke-width="0.8"/>
<line x1="371.3" y1="714.67" x2="372.8" y2="714.67" stroke="#333" stroke-width="0.6"/>
<line x1="371.3" y1="688.81" x2="372.8" y2="688.81" stroke="#333" stroke-width="0.6"/>
<line x1="371.3" y1="662.95" x2="372.8" y2="662.95" stroke="#333" stroke-width="0.6"/>
<line x1="371.3" y1="637.09" x2="372.8" y2="637.09" stroke="#333" stroke-width="0.6"/>
<line x1="371.3" y1="611.23" x2="372.8" y2="611.23" stroke="#333" stroke-width="0.6"/>
<text x="347.2" y="660.7" font-size="9" text-anchor="middle" fill="#231f20" transform="rotate(-90 347.2 657.5)">Alarm triggering time (s)</text>
<rect x="387.5" y="607.35" width="16.4" height="120.25" fill="#0a8a45"/>
<rect x="405.5" y="722.43" width="16.6" height="5.17" fill="#a00f5a"/>
<text x="401.9" y="739.7" font-size="9" text-anchor="middle" fill="#333">0.1%</text>
<rect x="429.1" y="673.29" width="16.4" height="54.31" fill="#0a8a45"/>
<rect x="447.1" y="722.43" width="16.6" height="5.17" fill="#a00f5a"/>
<text x="448.6" y="739.7" font-size="9" text-anchor="middle" fill="#333">0.8%</text>
<rect x="476.6" y="691.4" width="16.4" height="36.2" fill="#0a8a45"/>
<rect x="494.6" y="722.43" width="16.6" height="5.17" fill="#a00f5a"/>
<text x="494.4" y="739.7" font-size="9" text-anchor="middle" fill="#333">1.6%</text>
<rect x="524.3" y="701.74" width="16.4" height="25.86" fill="#0a8a45"/>
<rect x="542.3" y="722.43" width="16.6" height="5.17" fill="#a00f5a"/>
<text x="541.7" y="739.7" font-size="9" text-anchor="middle" fill="#333">2.4%</text>
<rect x="571.6" y="703.03" width="16.4" height="24.57" fill="#0a8a45"/>
<rect x="589.6" y="722.43" width="16.6" height="5.17" fill="#a00f5a"/>
<text x="588.4" y="739.7" font-size="9" text-anchor="middle" fill="#333">3.2%</text>
<rect x="618.8" y="704.33" width="16.4" height="23.27" fill="#0a8a45"/>
<rect x="636.8" y="722.43" width="16.6" height="5.17" fill="#a00f5a"/>
<text x="635.2" y="739.7" font-size="9" text-anchor="middle" fill="#333">4.0%</text>
<text x="513.4" y="754" font-size="9" text-anchor="middle" fill="#333">Concentration (%)</text>
<rect x="421.5" y="590.2" width="25.8" height="12.3" fill="#0a8a45"/>
<rect x="421.5" y="608" width="25.8" height="12.7" fill="#a00f5a"/>
<text x="452.2" y="599.4" font-size="9" fill="#333">Without the introduced prediction algorithm</text>
<text x="452.2" y="615.8" font-size="9" fill="#333">With the introduced prediction algorithm</text>
<line x1="0" y1="393.5" x2="685" y2="390.7" stroke="#0b8a42" stroke-width="1.7" stroke-dasharray="3.1,2.77"/>
<rect x="0" y="0" width="685" height="1.3" fill="#1b1819"/>
<rect x="0" y="0" width="1.7" height="770" fill="#1b1819"/>
<rect x="683.4" y="0" width="1.6" height="770" fill="#1b1819"/>
<rect x="0" y="768" width="685" height="2" fill="#1b1819"/>
</svg>
</body></html>
